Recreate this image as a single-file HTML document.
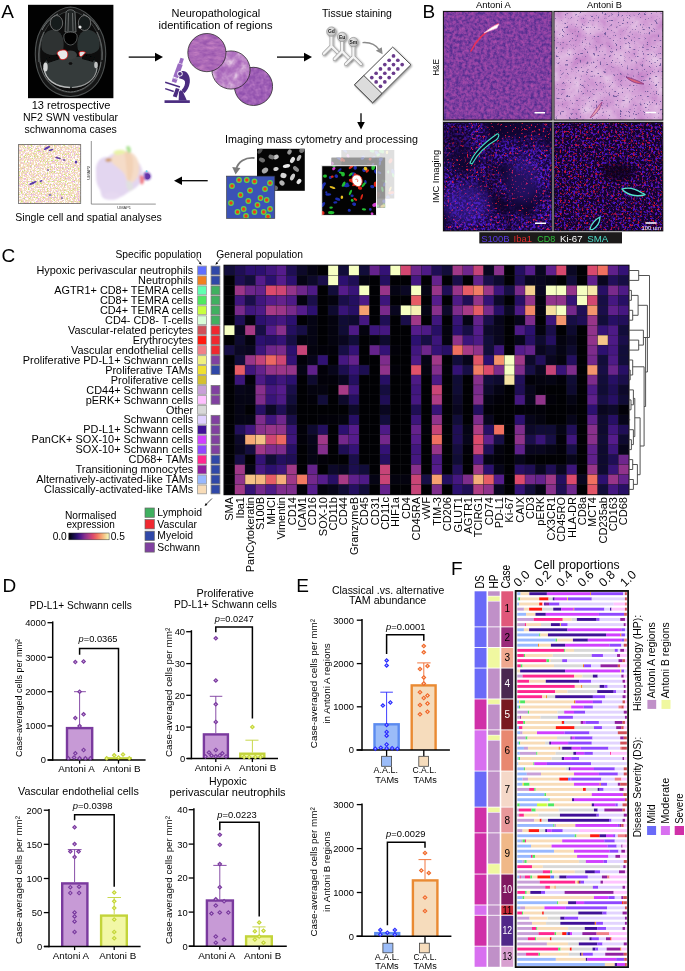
<!DOCTYPE html>
<html><head><meta charset="utf-8"><title>Figure</title>
<style>
html,body{margin:0;padding:0;background:#fff;}
svg{display:block;font-family:"Liberation Sans",sans-serif;}
</style></head><body>
<svg width="685" height="971" viewBox="0 0 685 971">
<defs>
<linearGradient id="cbar" x1="0" x2="1" y1="0" y2="0"><stop offset="0.0" stop-color="#000004"/><stop offset="0.1" stop-color="#120d3a"/><stop offset="0.2" stop-color="#2c1070"/><stop offset="0.3" stop-color="#551c8c"/><stop offset="0.4" stop-color="#88308c"/><stop offset="0.5" stop-color="#b03d85"/><stop offset="0.6" stop-color="#dc4a6c"/><stop offset="0.7" stop-color="#f07060"/><stop offset="0.8" stop-color="#f5a070"/><stop offset="0.9" stop-color="#f5d090"/><stop offset="1.0" stop-color="#f6ffc2"/></linearGradient>

<clipPath id="cMRI"><rect x="28" y="4.8" width="85.4" height="93.4"/></clipPath>
<filter id="b03"><feGaussianBlur stdDeviation="0.35"/></filter>
<filter id="b07"><feGaussianBlur stdDeviation="0.7"/></filter>
<filter id="b12"><feGaussianBlur stdDeviation="1.2"/></filter>
<filter id="b20"><feGaussianBlur stdDeviation="2"/></filter>
<filter id="shadow" x="-0.3" y="-0.3" width="1.6" height="1.6"><feGaussianBlur in="SourceAlpha" stdDeviation="0.8"/><feOffset dx="0.6" dy="0.7"/><feComponentTransfer><feFuncA type="linear" slope="0.45"/></feComponentTransfer><feMerge><feMergeNode/><feMergeNode in="SourceGraphic"/></feMerge></filter>
<filter id="circ1" x="0" y="0" width="1" height="1" color-interpolation-filters="sRGB">
  <feTurbulence type="fractalNoise" baseFrequency="0.12 0.3" numOctaves="3" seed="4"/>
  <feColorMatrix type="matrix" values="1 0 0 0 0  1 0 0 0 0  1 0 0 0 0  0 0 0 0 1"/>
  <feComponentTransfer><feFuncR type="table" tableValues="0.60 0.60 0.65 0.70 0.76 0.76"/><feFuncG type="table" tableValues="0.34 0.34 0.39 0.44 0.49 0.49"/><feFuncB type="table" tableValues="0.68 0.68 0.71 0.73 0.76 0.76"/></feComponentTransfer>
</filter>
<filter id="circ2" x="0" y="0" width="1" height="1" color-interpolation-filters="sRGB">
  <feTurbulence type="fractalNoise" baseFrequency="0.12" numOctaves="3" seed="9"/>
  <feColorMatrix type="matrix" values="1 0 0 0 0  1 0 0 0 0  1 0 0 0 0  0 0 0 0 1"/>
  <feComponentTransfer><feFuncR type="table" tableValues="0.64 0.64 0.70 0.78 0.88 0.88"/><feFuncG type="table" tableValues="0.38 0.38 0.46 0.58 0.76 0.76"/><feFuncB type="table" tableValues="0.72 0.72 0.76 0.81 0.89 0.89"/></feComponentTransfer>
</filter>
<filter id="circ3" x="0" y="0" width="1" height="1" color-interpolation-filters="sRGB">
  <feTurbulence type="fractalNoise" baseFrequency="0.25" numOctaves="3" seed="17"/>
  <feColorMatrix type="matrix" values="1 0 0 0 0  1 0 0 0 0  1 0 0 0 0  0 0 0 0 1"/>
  <feComponentTransfer><feFuncR type="table" tableValues="0.56 0.56 0.60 0.65 0.71 0.71"/><feFuncG type="table" tableValues="0.31 0.31 0.35 0.40 0.46 0.46"/><feFuncB type="table" tableValues="0.68 0.68 0.70 0.73 0.76 0.76"/></feComponentTransfer>
</filter>
<filter id="spat" x="0" y="0" width="1" height="1" color-interpolation-filters="sRGB">
  <feTurbulence type="fractalNoise" baseFrequency="0.7" numOctaves="2" seed="6" result="n"/>
  <feColorMatrix in="n" type="matrix" values="0 0 0 0 0.96  0 0 0 0 0.85  0 0 0 0 0.74  9 0 0 0 -3.75" result="peach"/>
  <feColorMatrix in="n" type="matrix" values="0 0 0 0 0.90  0 0 0 0 0.70  0 0 0 0 0.90  0 9 0 0 -5.4" result="pink"/>
  <feColorMatrix in="n" type="matrix" values="0 0 0 0 0.80  0 0 0 0 0.90  0 0 0 0 0.45  0 0 9 0 -5.6" result="yel"/>
  <feFlood flood-color="#fffdfb" result="bg"/>
  <feComposite in="peach" in2="bg" operator="over" result="s1"/>
  <feComposite in="pink" in2="s1" operator="over" result="s2"/>
  <feComposite in="yel" in2="s2" operator="over"/>
</filter>
<filter id="nuc" x="0" y="0" width="1" height="1" color-interpolation-filters="sRGB">
  <feTurbulence type="fractalNoise" baseFrequency="0.11" numOctaves="1" seed="12"/>
  <feColorMatrix type="matrix" values="9 0 0 0 -4.9  9 0 0 0 -4.9  9 0 0 0 -4.9  0 0 0 0 1"/>
</filter>
<filter id="seg" x="0" y="0" width="1" height="1" color-interpolation-filters="sRGB">
  <feTurbulence type="fractalNoise" baseFrequency="0.13" numOctaves="1" seed="31" result="n"/>
  <feColorMatrix in="n" type="matrix" values="0 0 0 0 0.30  0 0 0 0 0.78  0 0 0 0 0.25  14 0 0 0 -7.9" result="green"/>
  <feColorMatrix in="n" type="matrix" values="0 0 0 0 0.92  0 0 0 0 0.25  0 0 0 0 0.12  14 0 0 0 -8.7" result="red"/>
  <feFlood flood-color="#3a50b4" result="bg"/>
  <feComposite in="green" in2="bg" operator="over" result="s1"/>
  <feComposite in="red" in2="s1" operator="over"/>
</filter>
<filter id="multi" x="0" y="0" width="1" height="1" color-interpolation-filters="sRGB">
  <feTurbulence type="fractalNoise" baseFrequency="0.14" numOctaves="2" seed="41" result="n"/>
  <feColorMatrix in="n" type="matrix" values="0 0 0 0 0.15  0 0 0 0 0.15  0 0 0 0 0.85  0 0 10 0 -5.6" result="blue"/>
  <feColorMatrix in="n" type="matrix" values="0 0 0 0 0.10  0 0 0 0 0.80  0 0 0 0 0.15  0 10 0 0 -6.0" result="green"/>
  <feColorMatrix in="n" type="matrix" values="0 0 0 0 0.95  0 0 0 0 0.15  0 0 0 0 0.10  10 0 0 0 -6.1" result="red"/>
  <feFlood flood-color="#030303" result="bg"/>
  <feComposite in="blue" in2="bg" operator="over" result="s1"/>
  <feComposite in="green" in2="s1" operator="over" result="s2"/>
  <feComposite in="red" in2="s2" operator="over"/>
</filter>
<clipPath id="cUm"><rect x="92" y="141" width="66" height="62.5"/></clipPath>
<radialGradient id="gball" cx="0.4" cy="0.35" r="0.7"><stop offset="0" stop-color="#efefef"/><stop offset="1" stop-color="#b4b4b4"/></radialGradient>

<filter id="heA" x="0" y="0" width="1" height="1" color-interpolation-filters="sRGB">
  <feTurbulence type="fractalNoise" baseFrequency="0.32" numOctaves="3" seed="3"/>
  <feColorMatrix type="matrix" values="1 0 0 0 0  1 0 0 0 0  1 0 0 0 0  0 0 0 0 1"/>
  <feComponentTransfer><feFuncR type="table" tableValues="0.298 0.298 0.369 0.459 0.549 0.612 0.675 0.675"/><feFuncG type="table" tableValues="0.173 0.173 0.196 0.227 0.259 0.278 0.298 0.298"/><feFuncB type="table" tableValues="0.549 0.549 0.580 0.612 0.643 0.659 0.675 0.675"/></feComponentTransfer>
</filter>
<filter id="heB" x="0" y="0" width="1" height="1" color-interpolation-filters="sRGB">
  <feTurbulence type="fractalNoise" baseFrequency="0.06" numOctaves="4" seed="8" result="big"/>
  <feColorMatrix in="big" type="matrix" values="1 0 0 0 0  1 0 0 0 0  1 0 0 0 0  0 0 0 0 1"/>
  <feComponentTransfer result="bigc"><feFuncR type="table" tableValues="0.776 0.776 0.808 0.839 0.867 0.894 0.894"/><feFuncG type="table" tableValues="0.525 0.525 0.588 0.643 0.706 0.769 0.769"/><feFuncB type="table" tableValues="0.792 0.792 0.824 0.851 0.875 0.902 0.902"/></feComponentTransfer>
  <feTurbulence type="fractalNoise" baseFrequency="0.45" numOctaves="2" seed="5"/>
  <feColorMatrix type="matrix" values="0 0 0 0 0.45  0 0 0 0 0.36  0 0 0 0 0.62  -9 0 0 0 3.15"/>
  <feComposite in2="bigc" operator="over"/>
</filter>
<filter id="imcA" x="0" y="0" width="1" height="1" color-interpolation-filters="sRGB">
  <feTurbulence type="fractalNoise" baseFrequency="0.028" numOctaves="2" seed="14" result="big"/>
  <feColorMatrix in="big" type="matrix" values="0 0 0 0 0.06  0 0 0 0 0.02  0 0 0 0 0.20  3.6 0 0 0 -1.45" result="dark"/>
  <feTurbulence type="fractalNoise" baseFrequency="0.42" numOctaves="2" seed="2" result="fine"/>
  <feColorMatrix in="fine" type="matrix" values="0 0 0 0 0.30  0 0 0 0 0.10  0 0 0 0 0.78  0 0 4 0 -1.65" result="blue"/>
  <feColorMatrix in="fine" type="matrix" values="0 0 0 0 0.90  0 0 0 0 0.10  0 0 0 0 0.25  8 0 0 0 -5.1" result="red"/>
  <feFlood flood-color="#16053c" result="bg"/>
  <feComposite in="blue" in2="bg" operator="over" result="s1"/>
  <feComposite in="dark" in2="s1" operator="over" result="s2"/>
  <feComposite in="red" in2="s2" operator="over"/>
</filter>
<filter id="imcB" x="0" y="0" width="1" height="1" color-interpolation-filters="sRGB">
  <feTurbulence type="fractalNoise" baseFrequency="0.45" numOctaves="2" seed="21" result="fine"/>
  <feColorMatrix in="fine" type="matrix" values="0 0 0 0 0.30  0 0 0 0 0.08  0 0 0 0 0.78  0 0 5 0 -2.45" result="blue"/>
  <feColorMatrix in="fine" type="matrix" values="0 0 0 0 0.78  0 0 0 0 0.06  0 0 0 0 0.22  6 0 0 0 -3.45" result="red"/>
  <feFlood flood-color="#12032c" result="bg"/>
  <feComposite in="blue" in2="bg" operator="over" result="s1"/>
  <feComposite in="red" in2="s1" operator="over"/>
</filter>
<filter id="blur1"><feGaussianBlur stdDeviation="0.6"/></filter>
<filter id="blur2"><feGaussianBlur stdDeviation="2.5"/></filter>
<filter id="blur5"><feGaussianBlur stdDeviation="5"/></filter>
<clipPath id="cB1"><rect x="443.5" y="11.5" width="108.5" height="108.5"/></clipPath>
<clipPath id="cB2"><rect x="554" y="11.5" width="108.8" height="108.5"/></clipPath>
<clipPath id="cB3"><rect x="443.5" y="122.5" width="108.5" height="108.3"/></clipPath>
<clipPath id="cB4"><rect x="554" y="122.5" width="108.8" height="108.3"/></clipPath>
</defs>
<rect width="685" height="971" fill="#fff"/>
<g opacity="0.9999">
<g id="panelC">
<text x="1.60" y="262.00" font-size="19" >C</text>
<text x="115.50" y="257.80" font-size="10.2" textLength="86.30" lengthAdjust="spacingAndGlyphs" >Specific population</text>
<text x="216.30" y="257.80" font-size="10.2" textLength="86.70" lengthAdjust="spacingAndGlyphs" >General population</text>
<path d="M196.5 258.5 L201 264" fill="none" stroke="#000" stroke-width="0.7" />
<path d="M201.6 264.8 l-2.8 -1.2 l1.8 -1.6 z" fill="#000" />
<path d="M220.5 258.5 L216 264" fill="none" stroke="#000" stroke-width="0.7" />
<path d="M215.4 264.8 l2.8 -1.2 l-1.8 -1.6 z" fill="#000" />
<rect x="223.50" y="264.70" width="406.00" height="230.50" fill="#000" />
<rect x="224.30" y="265.50" width="404.40" height="228.90" fill="#1d1d22" />
<rect x="224.48" y="265.68" width="10.01" height="9.59" fill="#120d3a"/><rect x="234.85" y="265.68" width="10.01" height="9.59" fill="#1f0e55"/><rect x="245.22" y="265.68" width="10.01" height="9.59" fill="#2c1070"/><rect x="255.59" y="265.68" width="10.01" height="9.59" fill="#2c1070"/><rect x="265.96" y="265.68" width="10.01" height="9.59" fill="#40167e"/><rect x="276.33" y="265.68" width="10.01" height="9.59" fill="#551c8c"/><rect x="286.70" y="265.68" width="10.01" height="9.59" fill="#1f0e55"/><rect x="297.06" y="265.68" width="10.01" height="9.59" fill="#0d092a"/><rect x="307.43" y="265.68" width="10.01" height="9.59" fill="#050414"/><rect x="317.80" y="265.68" width="10.01" height="9.59" fill="#000004"/><rect x="328.17" y="265.68" width="10.01" height="9.59" fill="#f6ffc2"/><rect x="338.54" y="265.68" width="10.01" height="9.59" fill="#120d3a"/><rect x="348.91" y="265.68" width="10.01" height="9.59" fill="#f6ffc2"/><rect x="359.28" y="265.68" width="10.01" height="9.59" fill="#120d3a"/><rect x="369.65" y="265.68" width="10.01" height="9.59" fill="#64228c"/><rect x="380.02" y="265.68" width="10.01" height="9.59" fill="#341276"/><rect x="390.39" y="265.68" width="10.01" height="9.59" fill="#f6ffc2"/><rect x="400.76" y="265.68" width="10.01" height="9.59" fill="#d34771"/><rect x="411.13" y="265.68" width="10.01" height="9.59" fill="#6e268c"/><rect x="421.50" y="265.68" width="10.01" height="9.59" fill="#4d1a86"/><rect x="431.86" y="265.68" width="10.01" height="9.59" fill="#1f0e55"/><rect x="442.23" y="265.68" width="10.01" height="9.59" fill="#120d3a"/><rect x="452.60" y="265.68" width="10.01" height="9.59" fill="#a03888"/><rect x="462.97" y="265.68" width="10.01" height="9.59" fill="#6e268c"/><rect x="473.34" y="265.68" width="10.01" height="9.59" fill="#c64478"/><rect x="483.71" y="265.68" width="10.01" height="9.59" fill="#09061f"/><rect x="494.08" y="265.68" width="10.01" height="9.59" fill="#88308c"/><rect x="504.45" y="265.68" width="10.01" height="9.59" fill="#000004"/><rect x="514.82" y="265.68" width="10.01" height="9.59" fill="#240f60"/><rect x="525.19" y="265.68" width="10.01" height="9.59" fill="#551c8c"/><rect x="535.56" y="265.68" width="10.01" height="9.59" fill="#09061f"/><rect x="545.93" y="265.68" width="10.01" height="9.59" fill="#5f208c"/><rect x="556.30" y="265.68" width="10.01" height="9.59" fill="#d8496e"/><rect x="566.66" y="265.68" width="10.01" height="9.59" fill="#0b0824"/><rect x="577.03" y="265.68" width="10.01" height="9.59" fill="#000004"/><rect x="587.40" y="265.68" width="10.01" height="9.59" fill="#d8496e"/><rect x="597.77" y="265.68" width="10.01" height="9.59" fill="#f07060"/><rect x="608.14" y="265.68" width="10.01" height="9.59" fill="#5f208c"/><rect x="618.51" y="265.68" width="10.01" height="9.59" fill="#341276"/>
<rect x="224.48" y="275.63" width="10.01" height="9.59" fill="#000004"/><rect x="234.85" y="275.63" width="10.01" height="9.59" fill="#1f0e55"/><rect x="245.22" y="275.63" width="10.01" height="9.59" fill="#120d3a"/><rect x="255.59" y="275.63" width="10.01" height="9.59" fill="#551c8c"/><rect x="265.96" y="275.63" width="10.01" height="9.59" fill="#2c1070"/><rect x="276.33" y="275.63" width="10.01" height="9.59" fill="#551c8c"/><rect x="286.70" y="275.63" width="10.01" height="9.59" fill="#2c1070"/><rect x="297.06" y="275.63" width="10.01" height="9.59" fill="#050414"/><rect x="307.43" y="275.63" width="10.01" height="9.59" fill="#0d092a"/><rect x="317.80" y="275.63" width="10.01" height="9.59" fill="#1a0e4a"/><rect x="328.17" y="275.63" width="10.01" height="9.59" fill="#f6ffc2"/><rect x="338.54" y="275.63" width="10.01" height="9.59" fill="#2c1070"/><rect x="348.91" y="275.63" width="10.01" height="9.59" fill="#1f0e55"/><rect x="359.28" y="275.63" width="10.01" height="9.59" fill="#04030f"/><rect x="369.65" y="275.63" width="10.01" height="9.59" fill="#000004"/><rect x="380.02" y="275.63" width="10.01" height="9.59" fill="#240f60"/><rect x="390.39" y="275.63" width="10.01" height="9.59" fill="#000004"/><rect x="400.76" y="275.63" width="10.01" height="9.59" fill="#000004"/><rect x="411.13" y="275.63" width="10.01" height="9.59" fill="#451781"/><rect x="421.50" y="275.63" width="10.01" height="9.59" fill="#000004"/><rect x="431.86" y="275.63" width="10.01" height="9.59" fill="#64228c"/><rect x="442.23" y="275.63" width="10.01" height="9.59" fill="#000004"/><rect x="452.60" y="275.63" width="10.01" height="9.59" fill="#1a0e4a"/><rect x="462.97" y="275.63" width="10.01" height="9.59" fill="#000004"/><rect x="473.34" y="275.63" width="10.01" height="9.59" fill="#64228c"/><rect x="483.71" y="275.63" width="10.01" height="9.59" fill="#1a0e4a"/><rect x="494.08" y="275.63" width="10.01" height="9.59" fill="#0e0a2f"/><rect x="504.45" y="275.63" width="10.01" height="9.59" fill="#000004"/><rect x="514.82" y="275.63" width="10.01" height="9.59" fill="#1f0e55"/><rect x="525.19" y="275.63" width="10.01" height="9.59" fill="#09061f"/><rect x="535.56" y="275.63" width="10.01" height="9.59" fill="#09061f"/><rect x="545.93" y="275.63" width="10.01" height="9.59" fill="#050414"/><rect x="556.30" y="275.63" width="10.01" height="9.59" fill="#000004"/><rect x="566.66" y="275.63" width="10.01" height="9.59" fill="#120d3a"/><rect x="577.03" y="275.63" width="10.01" height="9.59" fill="#000004"/><rect x="587.40" y="275.63" width="10.01" height="9.59" fill="#5f208c"/><rect x="597.77" y="275.63" width="10.01" height="9.59" fill="#09061f"/><rect x="608.14" y="275.63" width="10.01" height="9.59" fill="#220f5a"/><rect x="618.51" y="275.63" width="10.01" height="9.59" fill="#170e45"/>
<rect x="224.48" y="285.58" width="10.01" height="9.59" fill="#000004"/><rect x="234.85" y="285.58" width="10.01" height="9.59" fill="#9c3688"/><rect x="245.22" y="285.58" width="10.01" height="9.59" fill="#6e268c"/><rect x="255.59" y="285.58" width="10.01" height="9.59" fill="#64228c"/><rect x="265.96" y="285.58" width="10.01" height="9.59" fill="#dc4a6c"/><rect x="276.33" y="285.58" width="10.01" height="9.59" fill="#cf4674"/><rect x="286.70" y="285.58" width="10.01" height="9.59" fill="#94348a"/><rect x="297.06" y="285.58" width="10.01" height="9.59" fill="#6e268c"/><rect x="307.43" y="285.58" width="10.01" height="9.59" fill="#4d1a86"/><rect x="317.80" y="285.58" width="10.01" height="9.59" fill="#000004"/><rect x="328.17" y="285.58" width="10.01" height="9.59" fill="#120d3a"/><rect x="338.54" y="285.58" width="10.01" height="9.59" fill="#551c8c"/><rect x="348.91" y="285.58" width="10.01" height="9.59" fill="#381478"/><rect x="359.28" y="285.58" width="10.01" height="9.59" fill="#f6ffc2"/><rect x="369.65" y="285.58" width="10.01" height="9.59" fill="#000004"/><rect x="380.02" y="285.58" width="10.01" height="9.59" fill="#983589"/><rect x="390.39" y="285.58" width="10.01" height="9.59" fill="#050414"/><rect x="400.76" y="285.58" width="10.01" height="9.59" fill="#0b0824"/><rect x="411.13" y="285.58" width="10.01" height="9.59" fill="#f6ffc2"/><rect x="421.50" y="285.58" width="10.01" height="9.59" fill="#050414"/><rect x="431.86" y="285.58" width="10.01" height="9.59" fill="#983589"/><rect x="442.23" y="285.58" width="10.01" height="9.59" fill="#1f0e55"/><rect x="452.60" y="285.58" width="10.01" height="9.59" fill="#983589"/><rect x="462.97" y="285.58" width="10.01" height="9.59" fill="#e65d66"/><rect x="473.34" y="285.58" width="10.01" height="9.59" fill="#f27e65"/><rect x="483.71" y="285.58" width="10.01" height="9.59" fill="#9c3688"/><rect x="494.08" y="285.58" width="10.01" height="9.59" fill="#3c157b"/><rect x="504.45" y="285.58" width="10.01" height="9.59" fill="#170e45"/><rect x="514.82" y="285.58" width="10.01" height="9.59" fill="#792a8c"/><rect x="525.19" y="285.58" width="10.01" height="9.59" fill="#f5d090"/><rect x="535.56" y="285.58" width="10.01" height="9.59" fill="#09061f"/><rect x="545.93" y="285.58" width="10.01" height="9.59" fill="#f6ffc2"/><rect x="556.30" y="285.58" width="10.01" height="9.59" fill="#f6ffc2"/><rect x="566.66" y="285.58" width="10.01" height="9.59" fill="#94348a"/><rect x="577.03" y="285.58" width="10.01" height="9.59" fill="#f6ffc2"/><rect x="587.40" y="285.58" width="10.01" height="9.59" fill="#f6e8a9"/><rect x="597.77" y="285.58" width="10.01" height="9.59" fill="#270f65"/><rect x="608.14" y="285.58" width="10.01" height="9.59" fill="#792a8c"/><rect x="618.51" y="285.58" width="10.01" height="9.59" fill="#4d1a86"/>
<rect x="224.48" y="295.54" width="10.01" height="9.59" fill="#000004"/><rect x="234.85" y="295.54" width="10.01" height="9.59" fill="#40167e"/><rect x="245.22" y="295.54" width="10.01" height="9.59" fill="#1a0e4a"/><rect x="255.59" y="295.54" width="10.01" height="9.59" fill="#40167e"/><rect x="265.96" y="295.54" width="10.01" height="9.59" fill="#551c8c"/><rect x="276.33" y="295.54" width="10.01" height="9.59" fill="#64228c"/><rect x="286.70" y="295.54" width="10.01" height="9.59" fill="#4d1a86"/><rect x="297.06" y="295.54" width="10.01" height="9.59" fill="#04030f"/><rect x="307.43" y="295.54" width="10.01" height="9.59" fill="#1a0e4a"/><rect x="317.80" y="295.54" width="10.01" height="9.59" fill="#000004"/><rect x="328.17" y="295.54" width="10.01" height="9.59" fill="#04030f"/><rect x="338.54" y="295.54" width="10.01" height="9.59" fill="#1a0e4a"/><rect x="348.91" y="295.54" width="10.01" height="9.59" fill="#240f60"/><rect x="359.28" y="295.54" width="10.01" height="9.59" fill="#4d1a86"/><rect x="369.65" y="295.54" width="10.01" height="9.59" fill="#000004"/><rect x="380.02" y="295.54" width="10.01" height="9.59" fill="#3c157b"/><rect x="390.39" y="295.54" width="10.01" height="9.59" fill="#000004"/><rect x="400.76" y="295.54" width="10.01" height="9.59" fill="#000004"/><rect x="411.13" y="295.54" width="10.01" height="9.59" fill="#e65d66"/><rect x="421.50" y="295.54" width="10.01" height="9.59" fill="#000004"/><rect x="431.86" y="295.54" width="10.01" height="9.59" fill="#551c8c"/><rect x="442.23" y="295.54" width="10.01" height="9.59" fill="#000004"/><rect x="452.60" y="295.54" width="10.01" height="9.59" fill="#4d1a86"/><rect x="462.97" y="295.54" width="10.01" height="9.59" fill="#1f0e55"/><rect x="473.34" y="295.54" width="10.01" height="9.59" fill="#94348a"/><rect x="483.71" y="295.54" width="10.01" height="9.59" fill="#341276"/><rect x="494.08" y="295.54" width="10.01" height="9.59" fill="#0d092a"/><rect x="504.45" y="295.54" width="10.01" height="9.59" fill="#000004"/><rect x="514.82" y="295.54" width="10.01" height="9.59" fill="#270f65"/><rect x="525.19" y="295.54" width="10.01" height="9.59" fill="#94348a"/><rect x="535.56" y="295.54" width="10.01" height="9.59" fill="#04030f"/><rect x="545.93" y="295.54" width="10.01" height="9.59" fill="#90338b"/><rect x="556.30" y="295.54" width="10.01" height="9.59" fill="#90338b"/><rect x="566.66" y="295.54" width="10.01" height="9.59" fill="#341276"/><rect x="577.03" y="295.54" width="10.01" height="9.59" fill="#f6ffc2"/><rect x="587.40" y="295.54" width="10.01" height="9.59" fill="#d34771"/><rect x="597.77" y="295.54" width="10.01" height="9.59" fill="#170e45"/><rect x="608.14" y="295.54" width="10.01" height="9.59" fill="#451781"/><rect x="618.51" y="295.54" width="10.01" height="9.59" fill="#270f65"/>
<rect x="224.48" y="305.49" width="10.01" height="9.59" fill="#000004"/><rect x="234.85" y="305.49" width="10.01" height="9.59" fill="#792a8c"/><rect x="245.22" y="305.49" width="10.01" height="9.59" fill="#40167e"/><rect x="255.59" y="305.49" width="10.01" height="9.59" fill="#4d1a86"/><rect x="265.96" y="305.49" width="10.01" height="9.59" fill="#a83a86"/><rect x="276.33" y="305.49" width="10.01" height="9.59" fill="#9c3688"/><rect x="286.70" y="305.49" width="10.01" height="9.59" fill="#792a8c"/><rect x="297.06" y="305.49" width="10.01" height="9.59" fill="#551c8c"/><rect x="307.43" y="305.49" width="10.01" height="9.59" fill="#2c1070"/><rect x="317.80" y="305.49" width="10.01" height="9.59" fill="#000004"/><rect x="328.17" y="305.49" width="10.01" height="9.59" fill="#0e0a2f"/><rect x="338.54" y="305.49" width="10.01" height="9.59" fill="#381478"/><rect x="348.91" y="305.49" width="10.01" height="9.59" fill="#270f65"/><rect x="359.28" y="305.49" width="10.01" height="9.59" fill="#f5a070"/><rect x="369.65" y="305.49" width="10.01" height="9.59" fill="#000004"/><rect x="380.02" y="305.49" width="10.01" height="9.59" fill="#792a8c"/><rect x="390.39" y="305.49" width="10.01" height="9.59" fill="#09061f"/><rect x="400.76" y="305.49" width="10.01" height="9.59" fill="#f6ffc2"/><rect x="411.13" y="305.49" width="10.01" height="9.59" fill="#f6f1b3"/><rect x="421.50" y="305.49" width="10.01" height="9.59" fill="#050414"/><rect x="431.86" y="305.49" width="10.01" height="9.59" fill="#88308c"/><rect x="442.23" y="305.49" width="10.01" height="9.59" fill="#0d092a"/><rect x="452.60" y="305.49" width="10.01" height="9.59" fill="#7e2c8c"/><rect x="462.97" y="305.49" width="10.01" height="9.59" fill="#a83a86"/><rect x="473.34" y="305.49" width="10.01" height="9.59" fill="#e65d66"/><rect x="483.71" y="305.49" width="10.01" height="9.59" fill="#792a8c"/><rect x="494.08" y="305.49" width="10.01" height="9.59" fill="#270f65"/><rect x="504.45" y="305.49" width="10.01" height="9.59" fill="#0b0824"/><rect x="514.82" y="305.49" width="10.01" height="9.59" fill="#4d1a86"/><rect x="525.19" y="305.49" width="10.01" height="9.59" fill="#f28868"/><rect x="535.56" y="305.49" width="10.01" height="9.59" fill="#04030f"/><rect x="545.93" y="305.49" width="10.01" height="9.59" fill="#f5de9f"/><rect x="556.30" y="305.49" width="10.01" height="9.59" fill="#f6ffc2"/><rect x="566.66" y="305.49" width="10.01" height="9.59" fill="#74288c"/><rect x="577.03" y="305.49" width="10.01" height="9.59" fill="#1f0e55"/><rect x="587.40" y="305.49" width="10.01" height="9.59" fill="#f4966d"/><rect x="597.77" y="305.49" width="10.01" height="9.59" fill="#1a0e4a"/><rect x="608.14" y="305.49" width="10.01" height="9.59" fill="#5f208c"/><rect x="618.51" y="305.49" width="10.01" height="9.59" fill="#451781"/>
<rect x="224.48" y="315.44" width="10.01" height="9.59" fill="#000004"/><rect x="234.85" y="315.44" width="10.01" height="9.59" fill="#1f0e55"/><rect x="245.22" y="315.44" width="10.01" height="9.59" fill="#04030f"/><rect x="255.59" y="315.44" width="10.01" height="9.59" fill="#2c1070"/><rect x="265.96" y="315.44" width="10.01" height="9.59" fill="#381478"/><rect x="276.33" y="315.44" width="10.01" height="9.59" fill="#451781"/><rect x="286.70" y="315.44" width="10.01" height="9.59" fill="#2c1070"/><rect x="297.06" y="315.44" width="10.01" height="9.59" fill="#000004"/><rect x="307.43" y="315.44" width="10.01" height="9.59" fill="#050414"/><rect x="317.80" y="315.44" width="10.01" height="9.59" fill="#000004"/><rect x="328.17" y="315.44" width="10.01" height="9.59" fill="#04030f"/><rect x="338.54" y="315.44" width="10.01" height="9.59" fill="#100c35"/><rect x="348.91" y="315.44" width="10.01" height="9.59" fill="#0e0a2f"/><rect x="359.28" y="315.44" width="10.01" height="9.59" fill="#451781"/><rect x="369.65" y="315.44" width="10.01" height="9.59" fill="#000004"/><rect x="380.02" y="315.44" width="10.01" height="9.59" fill="#1f0e55"/><rect x="390.39" y="315.44" width="10.01" height="9.59" fill="#000004"/><rect x="400.76" y="315.44" width="10.01" height="9.59" fill="#1a0e4a"/><rect x="411.13" y="315.44" width="10.01" height="9.59" fill="#a03888"/><rect x="421.50" y="315.44" width="10.01" height="9.59" fill="#000004"/><rect x="431.86" y="315.44" width="10.01" height="9.59" fill="#40167e"/><rect x="442.23" y="315.44" width="10.01" height="9.59" fill="#000004"/><rect x="452.60" y="315.44" width="10.01" height="9.59" fill="#381478"/><rect x="462.97" y="315.44" width="10.01" height="9.59" fill="#050414"/><rect x="473.34" y="315.44" width="10.01" height="9.59" fill="#64228c"/><rect x="483.71" y="315.44" width="10.01" height="9.59" fill="#1a0e4a"/><rect x="494.08" y="315.44" width="10.01" height="9.59" fill="#07051a"/><rect x="504.45" y="315.44" width="10.01" height="9.59" fill="#000004"/><rect x="514.82" y="315.44" width="10.01" height="9.59" fill="#07051a"/><rect x="525.19" y="315.44" width="10.01" height="9.59" fill="#7e2c8c"/><rect x="535.56" y="315.44" width="10.01" height="9.59" fill="#000004"/><rect x="545.93" y="315.44" width="10.01" height="9.59" fill="#3c157b"/><rect x="556.30" y="315.44" width="10.01" height="9.59" fill="#f4966d"/><rect x="566.66" y="315.44" width="10.01" height="9.59" fill="#170e45"/><rect x="577.03" y="315.44" width="10.01" height="9.59" fill="#1f0e55"/><rect x="587.40" y="315.44" width="10.01" height="9.59" fill="#983589"/><rect x="597.77" y="315.44" width="10.01" height="9.59" fill="#120d3a"/><rect x="608.14" y="315.44" width="10.01" height="9.59" fill="#270f65"/><rect x="618.51" y="315.44" width="10.01" height="9.59" fill="#220f5a"/>
<rect x="224.48" y="325.39" width="10.01" height="9.59" fill="#f6ffc2"/><rect x="234.85" y="325.39" width="10.01" height="9.59" fill="#09061f"/><rect x="245.22" y="325.39" width="10.01" height="9.59" fill="#a83a86"/><rect x="255.59" y="325.39" width="10.01" height="9.59" fill="#170e45"/><rect x="265.96" y="325.39" width="10.01" height="9.59" fill="#551c8c"/><rect x="276.33" y="325.39" width="10.01" height="9.59" fill="#88308c"/><rect x="286.70" y="325.39" width="10.01" height="9.59" fill="#240f60"/><rect x="297.06" y="325.39" width="10.01" height="9.59" fill="#170e45"/><rect x="307.43" y="325.39" width="10.01" height="9.59" fill="#050414"/><rect x="317.80" y="325.39" width="10.01" height="9.59" fill="#000004"/><rect x="328.17" y="325.39" width="10.01" height="9.59" fill="#04030f"/><rect x="338.54" y="325.39" width="10.01" height="9.59" fill="#100c35"/><rect x="348.91" y="325.39" width="10.01" height="9.59" fill="#4d1a86"/><rect x="359.28" y="325.39" width="10.01" height="9.59" fill="#04030f"/><rect x="369.65" y="325.39" width="10.01" height="9.59" fill="#3c157b"/><rect x="380.02" y="325.39" width="10.01" height="9.59" fill="#451781"/><rect x="390.39" y="325.39" width="10.01" height="9.59" fill="#000004"/><rect x="400.76" y="325.39" width="10.01" height="9.59" fill="#000004"/><rect x="411.13" y="325.39" width="10.01" height="9.59" fill="#551c8c"/><rect x="421.50" y="325.39" width="10.01" height="9.59" fill="#4d1a86"/><rect x="431.86" y="325.39" width="10.01" height="9.59" fill="#270f65"/><rect x="442.23" y="325.39" width="10.01" height="9.59" fill="#04030f"/><rect x="452.60" y="325.39" width="10.01" height="9.59" fill="#2c1070"/><rect x="462.97" y="325.39" width="10.01" height="9.59" fill="#170e45"/><rect x="473.34" y="325.39" width="10.01" height="9.59" fill="#551c8c"/><rect x="483.71" y="325.39" width="10.01" height="9.59" fill="#0d092a"/><rect x="494.08" y="325.39" width="10.01" height="9.59" fill="#09061f"/><rect x="504.45" y="325.39" width="10.01" height="9.59" fill="#000004"/><rect x="514.82" y="325.39" width="10.01" height="9.59" fill="#4d1a86"/><rect x="525.19" y="325.39" width="10.01" height="9.59" fill="#2c1070"/><rect x="535.56" y="325.39" width="10.01" height="9.59" fill="#04030f"/><rect x="545.93" y="325.39" width="10.01" height="9.59" fill="#1a0e4a"/><rect x="556.30" y="325.39" width="10.01" height="9.59" fill="#000004"/><rect x="566.66" y="325.39" width="10.01" height="9.59" fill="#0e0a2f"/><rect x="577.03" y="325.39" width="10.01" height="9.59" fill="#000004"/><rect x="587.40" y="325.39" width="10.01" height="9.59" fill="#90338b"/><rect x="597.77" y="325.39" width="10.01" height="9.59" fill="#341276"/><rect x="608.14" y="325.39" width="10.01" height="9.59" fill="#4d1a86"/><rect x="618.51" y="325.39" width="10.01" height="9.59" fill="#120d3a"/>
<rect x="224.48" y="335.35" width="10.01" height="9.59" fill="#000004"/><rect x="234.85" y="335.35" width="10.01" height="9.59" fill="#0e0a2f"/><rect x="245.22" y="335.35" width="10.01" height="9.59" fill="#04030f"/><rect x="255.59" y="335.35" width="10.01" height="9.59" fill="#2c1070"/><rect x="265.96" y="335.35" width="10.01" height="9.59" fill="#270f65"/><rect x="276.33" y="335.35" width="10.01" height="9.59" fill="#341276"/><rect x="286.70" y="335.35" width="10.01" height="9.59" fill="#170e45"/><rect x="297.06" y="335.35" width="10.01" height="9.59" fill="#04030f"/><rect x="307.43" y="335.35" width="10.01" height="9.59" fill="#050414"/><rect x="317.80" y="335.35" width="10.01" height="9.59" fill="#000004"/><rect x="328.17" y="335.35" width="10.01" height="9.59" fill="#04030f"/><rect x="338.54" y="335.35" width="10.01" height="9.59" fill="#09061f"/><rect x="348.91" y="335.35" width="10.01" height="9.59" fill="#120d3a"/><rect x="359.28" y="335.35" width="10.01" height="9.59" fill="#000004"/><rect x="369.65" y="335.35" width="10.01" height="9.59" fill="#04030f"/><rect x="380.02" y="335.35" width="10.01" height="9.59" fill="#0e0a2f"/><rect x="390.39" y="335.35" width="10.01" height="9.59" fill="#000004"/><rect x="400.76" y="335.35" width="10.01" height="9.59" fill="#000004"/><rect x="411.13" y="335.35" width="10.01" height="9.59" fill="#2c1070"/><rect x="421.50" y="335.35" width="10.01" height="9.59" fill="#170e45"/><rect x="431.86" y="335.35" width="10.01" height="9.59" fill="#3c157b"/><rect x="442.23" y="335.35" width="10.01" height="9.59" fill="#04030f"/><rect x="452.60" y="335.35" width="10.01" height="9.59" fill="#90338b"/><rect x="462.97" y="335.35" width="10.01" height="9.59" fill="#3c157b"/><rect x="473.34" y="335.35" width="10.01" height="9.59" fill="#4d1a86"/><rect x="483.71" y="335.35" width="10.01" height="9.59" fill="#120d3a"/><rect x="494.08" y="335.35" width="10.01" height="9.59" fill="#09061f"/><rect x="504.45" y="335.35" width="10.01" height="9.59" fill="#000004"/><rect x="514.82" y="335.35" width="10.01" height="9.59" fill="#07051a"/><rect x="525.19" y="335.35" width="10.01" height="9.59" fill="#270f65"/><rect x="535.56" y="335.35" width="10.01" height="9.59" fill="#0e0a2f"/><rect x="545.93" y="335.35" width="10.01" height="9.59" fill="#240f60"/><rect x="556.30" y="335.35" width="10.01" height="9.59" fill="#04030f"/><rect x="566.66" y="335.35" width="10.01" height="9.59" fill="#09061f"/><rect x="577.03" y="335.35" width="10.01" height="9.59" fill="#000004"/><rect x="587.40" y="335.35" width="10.01" height="9.59" fill="#90338b"/><rect x="597.77" y="335.35" width="10.01" height="9.59" fill="#f5c68a"/><rect x="608.14" y="335.35" width="10.01" height="9.59" fill="#4d1a86"/><rect x="618.51" y="335.35" width="10.01" height="9.59" fill="#1a0e4a"/>
<rect x="224.48" y="345.30" width="10.01" height="9.59" fill="#170e45"/><rect x="234.85" y="345.30" width="10.01" height="9.59" fill="#0b0824"/><rect x="245.22" y="345.30" width="10.01" height="9.59" fill="#09061f"/><rect x="255.59" y="345.30" width="10.01" height="9.59" fill="#3c157b"/><rect x="265.96" y="345.30" width="10.01" height="9.59" fill="#6e268c"/><rect x="276.33" y="345.30" width="10.01" height="9.59" fill="#792a8c"/><rect x="286.70" y="345.30" width="10.01" height="9.59" fill="#2c1070"/><rect x="297.06" y="345.30" width="10.01" height="9.59" fill="#c64478"/><rect x="307.43" y="345.30" width="10.01" height="9.59" fill="#04030f"/><rect x="317.80" y="345.30" width="10.01" height="9.59" fill="#020109"/><rect x="328.17" y="345.30" width="10.01" height="9.59" fill="#020109"/><rect x="338.54" y="345.30" width="10.01" height="9.59" fill="#170e45"/><rect x="348.91" y="345.30" width="10.01" height="9.59" fill="#341276"/><rect x="359.28" y="345.30" width="10.01" height="9.59" fill="#000004"/><rect x="369.65" y="345.30" width="10.01" height="9.59" fill="#64228c"/><rect x="380.02" y="345.30" width="10.01" height="9.59" fill="#341276"/><rect x="390.39" y="345.30" width="10.01" height="9.59" fill="#020109"/><rect x="400.76" y="345.30" width="10.01" height="9.59" fill="#000004"/><rect x="411.13" y="345.30" width="10.01" height="9.59" fill="#40167e"/><rect x="421.50" y="345.30" width="10.01" height="9.59" fill="#6e268c"/><rect x="431.86" y="345.30" width="10.01" height="9.59" fill="#341276"/><rect x="442.23" y="345.30" width="10.01" height="9.59" fill="#270f65"/><rect x="452.60" y="345.30" width="10.01" height="9.59" fill="#f07060"/><rect x="462.97" y="345.30" width="10.01" height="9.59" fill="#a83a86"/><rect x="473.34" y="345.30" width="10.01" height="9.59" fill="#90338b"/><rect x="483.71" y="345.30" width="10.01" height="9.59" fill="#120d3a"/><rect x="494.08" y="345.30" width="10.01" height="9.59" fill="#40167e"/><rect x="504.45" y="345.30" width="10.01" height="9.59" fill="#000004"/><rect x="514.82" y="345.30" width="10.01" height="9.59" fill="#551c8c"/><rect x="525.19" y="345.30" width="10.01" height="9.59" fill="#64228c"/><rect x="535.56" y="345.30" width="10.01" height="9.59" fill="#09061f"/><rect x="545.93" y="345.30" width="10.01" height="9.59" fill="#0e0a2f"/><rect x="556.30" y="345.30" width="10.01" height="9.59" fill="#050414"/><rect x="566.66" y="345.30" width="10.01" height="9.59" fill="#0e0a2f"/><rect x="577.03" y="345.30" width="10.01" height="9.59" fill="#000004"/><rect x="587.40" y="345.30" width="10.01" height="9.59" fill="#7e2c8c"/><rect x="597.77" y="345.30" width="10.01" height="9.59" fill="#2c1070"/><rect x="608.14" y="345.30" width="10.01" height="9.59" fill="#451781"/><rect x="618.51" y="345.30" width="10.01" height="9.59" fill="#120d3a"/>
<rect x="224.48" y="355.25" width="10.01" height="9.59" fill="#000004"/><rect x="234.85" y="355.25" width="10.01" height="9.59" fill="#120d3a"/><rect x="245.22" y="355.25" width="10.01" height="9.59" fill="#983589"/><rect x="255.59" y="355.25" width="10.01" height="9.59" fill="#c2427b"/><rect x="265.96" y="355.25" width="10.01" height="9.59" fill="#ec6862"/><rect x="276.33" y="355.25" width="10.01" height="9.59" fill="#cf4674"/><rect x="286.70" y="355.25" width="10.01" height="9.59" fill="#341276"/><rect x="297.06" y="355.25" width="10.01" height="9.59" fill="#020109"/><rect x="307.43" y="355.25" width="10.01" height="9.59" fill="#07051a"/><rect x="317.80" y="355.25" width="10.01" height="9.59" fill="#301173"/><rect x="328.17" y="355.25" width="10.01" height="9.59" fill="#000004"/><rect x="338.54" y="355.25" width="10.01" height="9.59" fill="#451781"/><rect x="348.91" y="355.25" width="10.01" height="9.59" fill="#64228c"/><rect x="359.28" y="355.25" width="10.01" height="9.59" fill="#000004"/><rect x="369.65" y="355.25" width="10.01" height="9.59" fill="#000004"/><rect x="380.02" y="355.25" width="10.01" height="9.59" fill="#7e2c8c"/><rect x="390.39" y="355.25" width="10.01" height="9.59" fill="#000004"/><rect x="400.76" y="355.25" width="10.01" height="9.59" fill="#000004"/><rect x="411.13" y="355.25" width="10.01" height="9.59" fill="#4d1a86"/><rect x="421.50" y="355.25" width="10.01" height="9.59" fill="#050414"/><rect x="431.86" y="355.25" width="10.01" height="9.59" fill="#a03888"/><rect x="442.23" y="355.25" width="10.01" height="9.59" fill="#000004"/><rect x="452.60" y="355.25" width="10.01" height="9.59" fill="#120d3a"/><rect x="462.97" y="355.25" width="10.01" height="9.59" fill="#07051a"/><rect x="473.34" y="355.25" width="10.01" height="9.59" fill="#e25568"/><rect x="483.71" y="355.25" width="10.01" height="9.59" fill="#2c1070"/><rect x="494.08" y="355.25" width="10.01" height="9.59" fill="#f4926b"/><rect x="504.45" y="355.25" width="10.01" height="9.59" fill="#f6ffc2"/><rect x="514.82" y="355.25" width="10.01" height="9.59" fill="#a03888"/><rect x="525.19" y="355.25" width="10.01" height="9.59" fill="#0d092a"/><rect x="535.56" y="355.25" width="10.01" height="9.59" fill="#220f5a"/><rect x="545.93" y="355.25" width="10.01" height="9.59" fill="#09061f"/><rect x="556.30" y="355.25" width="10.01" height="9.59" fill="#04030f"/><rect x="566.66" y="355.25" width="10.01" height="9.59" fill="#240f60"/><rect x="577.03" y="355.25" width="10.01" height="9.59" fill="#000004"/><rect x="587.40" y="355.25" width="10.01" height="9.59" fill="#74288c"/><rect x="597.77" y="355.25" width="10.01" height="9.59" fill="#120d3a"/><rect x="608.14" y="355.25" width="10.01" height="9.59" fill="#4d1a86"/><rect x="618.51" y="355.25" width="10.01" height="9.59" fill="#120d3a"/>
<rect x="224.48" y="365.20" width="10.01" height="9.59" fill="#000004"/><rect x="234.85" y="365.20" width="10.01" height="9.59" fill="#e65d66"/><rect x="245.22" y="365.20" width="10.01" height="9.59" fill="#40167e"/><rect x="255.59" y="365.20" width="10.01" height="9.59" fill="#64228c"/><rect x="265.96" y="365.20" width="10.01" height="9.59" fill="#94348a"/><rect x="276.33" y="365.20" width="10.01" height="9.59" fill="#9c3688"/><rect x="286.70" y="365.20" width="10.01" height="9.59" fill="#94348a"/><rect x="297.06" y="365.20" width="10.01" height="9.59" fill="#050414"/><rect x="307.43" y="365.20" width="10.01" height="9.59" fill="#5f208c"/><rect x="317.80" y="365.20" width="10.01" height="9.59" fill="#020109"/><rect x="328.17" y="365.20" width="10.01" height="9.59" fill="#07051a"/><rect x="338.54" y="365.20" width="10.01" height="9.59" fill="#1c0e50"/><rect x="348.91" y="365.20" width="10.01" height="9.59" fill="#341276"/><rect x="359.28" y="365.20" width="10.01" height="9.59" fill="#1c0e50"/><rect x="369.65" y="365.20" width="10.01" height="9.59" fill="#000004"/><rect x="380.02" y="365.20" width="10.01" height="9.59" fill="#90338b"/><rect x="390.39" y="365.20" width="10.01" height="9.59" fill="#020109"/><rect x="400.76" y="365.20" width="10.01" height="9.59" fill="#000004"/><rect x="411.13" y="365.20" width="10.01" height="9.59" fill="#e0526a"/><rect x="421.50" y="365.20" width="10.01" height="9.59" fill="#04030f"/><rect x="431.86" y="365.20" width="10.01" height="9.59" fill="#832e8c"/><rect x="442.23" y="365.20" width="10.01" height="9.59" fill="#020109"/><rect x="452.60" y="365.20" width="10.01" height="9.59" fill="#341276"/><rect x="462.97" y="365.20" width="10.01" height="9.59" fill="#170e45"/><rect x="473.34" y="365.20" width="10.01" height="9.59" fill="#f27e65"/><rect x="483.71" y="365.20" width="10.01" height="9.59" fill="#dc4a6c"/><rect x="494.08" y="365.20" width="10.01" height="9.59" fill="#7e2c8c"/><rect x="504.45" y="365.20" width="10.01" height="9.59" fill="#f6ffc2"/><rect x="514.82" y="365.20" width="10.01" height="9.59" fill="#7e2c8c"/><rect x="525.19" y="365.20" width="10.01" height="9.59" fill="#170e45"/><rect x="535.56" y="365.20" width="10.01" height="9.59" fill="#09061f"/><rect x="545.93" y="365.20" width="10.01" height="9.59" fill="#c64478"/><rect x="556.30" y="365.20" width="10.01" height="9.59" fill="#381478"/><rect x="566.66" y="365.20" width="10.01" height="9.59" fill="#7e2c8c"/><rect x="577.03" y="365.20" width="10.01" height="9.59" fill="#000004"/><rect x="587.40" y="365.20" width="10.01" height="9.59" fill="#f4966d"/><rect x="597.77" y="365.20" width="10.01" height="9.59" fill="#170e45"/><rect x="608.14" y="365.20" width="10.01" height="9.59" fill="#69248c"/><rect x="618.51" y="365.20" width="10.01" height="9.59" fill="#270f65"/>
<rect x="224.48" y="375.15" width="10.01" height="9.59" fill="#000004"/><rect x="234.85" y="375.15" width="10.01" height="9.59" fill="#3c157b"/><rect x="245.22" y="375.15" width="10.01" height="9.59" fill="#020109"/><rect x="255.59" y="375.15" width="10.01" height="9.59" fill="#4d1a86"/><rect x="265.96" y="375.15" width="10.01" height="9.59" fill="#2c1070"/><rect x="276.33" y="375.15" width="10.01" height="9.59" fill="#40167e"/><rect x="286.70" y="375.15" width="10.01" height="9.59" fill="#2c1070"/><rect x="297.06" y="375.15" width="10.01" height="9.59" fill="#000004"/><rect x="307.43" y="375.15" width="10.01" height="9.59" fill="#0e0a2f"/><rect x="317.80" y="375.15" width="10.01" height="9.59" fill="#020109"/><rect x="328.17" y="375.15" width="10.01" height="9.59" fill="#020109"/><rect x="338.54" y="375.15" width="10.01" height="9.59" fill="#09061f"/><rect x="348.91" y="375.15" width="10.01" height="9.59" fill="#240f60"/><rect x="359.28" y="375.15" width="10.01" height="9.59" fill="#000004"/><rect x="369.65" y="375.15" width="10.01" height="9.59" fill="#000004"/><rect x="380.02" y="375.15" width="10.01" height="9.59" fill="#270f65"/><rect x="390.39" y="375.15" width="10.01" height="9.59" fill="#000004"/><rect x="400.76" y="375.15" width="10.01" height="9.59" fill="#000004"/><rect x="411.13" y="375.15" width="10.01" height="9.59" fill="#4d1a86"/><rect x="421.50" y="375.15" width="10.01" height="9.59" fill="#000004"/><rect x="431.86" y="375.15" width="10.01" height="9.59" fill="#4d1a86"/><rect x="442.23" y="375.15" width="10.01" height="9.59" fill="#000004"/><rect x="452.60" y="375.15" width="10.01" height="9.59" fill="#100c35"/><rect x="462.97" y="375.15" width="10.01" height="9.59" fill="#000004"/><rect x="473.34" y="375.15" width="10.01" height="9.59" fill="#88308c"/><rect x="483.71" y="375.15" width="10.01" height="9.59" fill="#120d3a"/><rect x="494.08" y="375.15" width="10.01" height="9.59" fill="#0e0a2f"/><rect x="504.45" y="375.15" width="10.01" height="9.59" fill="#f5e3a4"/><rect x="514.82" y="375.15" width="10.01" height="9.59" fill="#220f5a"/><rect x="525.19" y="375.15" width="10.01" height="9.59" fill="#020109"/><rect x="535.56" y="375.15" width="10.01" height="9.59" fill="#04030f"/><rect x="545.93" y="375.15" width="10.01" height="9.59" fill="#050414"/><rect x="556.30" y="375.15" width="10.01" height="9.59" fill="#020109"/><rect x="566.66" y="375.15" width="10.01" height="9.59" fill="#100c35"/><rect x="577.03" y="375.15" width="10.01" height="9.59" fill="#000004"/><rect x="587.40" y="375.15" width="10.01" height="9.59" fill="#7e2c8c"/><rect x="597.77" y="375.15" width="10.01" height="9.59" fill="#120d3a"/><rect x="608.14" y="375.15" width="10.01" height="9.59" fill="#270f65"/><rect x="618.51" y="375.15" width="10.01" height="9.59" fill="#1a0e4a"/>
<rect x="224.48" y="385.11" width="10.01" height="9.59" fill="#000004"/><rect x="234.85" y="385.11" width="10.01" height="9.59" fill="#07051a"/><rect x="245.22" y="385.11" width="10.01" height="9.59" fill="#050414"/><rect x="255.59" y="385.11" width="10.01" height="9.59" fill="#88308c"/><rect x="265.96" y="385.11" width="10.01" height="9.59" fill="#451781"/><rect x="276.33" y="385.11" width="10.01" height="9.59" fill="#551c8c"/><rect x="286.70" y="385.11" width="10.01" height="9.59" fill="#1a0e4a"/><rect x="297.06" y="385.11" width="10.01" height="9.59" fill="#000004"/><rect x="307.43" y="385.11" width="10.01" height="9.59" fill="#04030f"/><rect x="317.80" y="385.11" width="10.01" height="9.59" fill="#04030f"/><rect x="328.17" y="385.11" width="10.01" height="9.59" fill="#000004"/><rect x="338.54" y="385.11" width="10.01" height="9.59" fill="#a83a86"/><rect x="348.91" y="385.11" width="10.01" height="9.59" fill="#40167e"/><rect x="359.28" y="385.11" width="10.01" height="9.59" fill="#000004"/><rect x="369.65" y="385.11" width="10.01" height="9.59" fill="#000004"/><rect x="380.02" y="385.11" width="10.01" height="9.59" fill="#150d3f"/><rect x="390.39" y="385.11" width="10.01" height="9.59" fill="#000004"/><rect x="400.76" y="385.11" width="10.01" height="9.59" fill="#000004"/><rect x="411.13" y="385.11" width="10.01" height="9.59" fill="#40167e"/><rect x="421.50" y="385.11" width="10.01" height="9.59" fill="#000004"/><rect x="431.86" y="385.11" width="10.01" height="9.59" fill="#ca4576"/><rect x="442.23" y="385.11" width="10.01" height="9.59" fill="#000004"/><rect x="452.60" y="385.11" width="10.01" height="9.59" fill="#100c35"/><rect x="462.97" y="385.11" width="10.01" height="9.59" fill="#000004"/><rect x="473.34" y="385.11" width="10.01" height="9.59" fill="#792a8c"/><rect x="483.71" y="385.11" width="10.01" height="9.59" fill="#0d092a"/><rect x="494.08" y="385.11" width="10.01" height="9.59" fill="#050414"/><rect x="504.45" y="385.11" width="10.01" height="9.59" fill="#000004"/><rect x="514.82" y="385.11" width="10.01" height="9.59" fill="#1f0e55"/><rect x="525.19" y="385.11" width="10.01" height="9.59" fill="#07051a"/><rect x="535.56" y="385.11" width="10.01" height="9.59" fill="#020109"/><rect x="545.93" y="385.11" width="10.01" height="9.59" fill="#000004"/><rect x="556.30" y="385.11" width="10.01" height="9.59" fill="#000004"/><rect x="566.66" y="385.11" width="10.01" height="9.59" fill="#0e0a2f"/><rect x="577.03" y="385.11" width="10.01" height="9.59" fill="#000004"/><rect x="587.40" y="385.11" width="10.01" height="9.59" fill="#4d1a86"/><rect x="597.77" y="385.11" width="10.01" height="9.59" fill="#100c35"/><rect x="608.14" y="385.11" width="10.01" height="9.59" fill="#1f0e55"/><rect x="618.51" y="385.11" width="10.01" height="9.59" fill="#0d092a"/>
<rect x="224.48" y="395.06" width="10.01" height="9.59" fill="#000004"/><rect x="234.85" y="395.06" width="10.01" height="9.59" fill="#050414"/><rect x="245.22" y="395.06" width="10.01" height="9.59" fill="#050414"/><rect x="255.59" y="395.06" width="10.01" height="9.59" fill="#7e2c8c"/><rect x="265.96" y="395.06" width="10.01" height="9.59" fill="#381478"/><rect x="276.33" y="395.06" width="10.01" height="9.59" fill="#4d1a86"/><rect x="286.70" y="395.06" width="10.01" height="9.59" fill="#120d3a"/><rect x="297.06" y="395.06" width="10.01" height="9.59" fill="#000004"/><rect x="307.43" y="395.06" width="10.01" height="9.59" fill="#020109"/><rect x="317.80" y="395.06" width="10.01" height="9.59" fill="#120d3a"/><rect x="328.17" y="395.06" width="10.01" height="9.59" fill="#000004"/><rect x="338.54" y="395.06" width="10.01" height="9.59" fill="#0d092a"/><rect x="348.91" y="395.06" width="10.01" height="9.59" fill="#240f60"/><rect x="359.28" y="395.06" width="10.01" height="9.59" fill="#000004"/><rect x="369.65" y="395.06" width="10.01" height="9.59" fill="#000004"/><rect x="380.02" y="395.06" width="10.01" height="9.59" fill="#1f0e55"/><rect x="390.39" y="395.06" width="10.01" height="9.59" fill="#000004"/><rect x="400.76" y="395.06" width="10.01" height="9.59" fill="#000004"/><rect x="411.13" y="395.06" width="10.01" height="9.59" fill="#451781"/><rect x="421.50" y="395.06" width="10.01" height="9.59" fill="#000004"/><rect x="431.86" y="395.06" width="10.01" height="9.59" fill="#b03d85"/><rect x="442.23" y="395.06" width="10.01" height="9.59" fill="#000004"/><rect x="452.60" y="395.06" width="10.01" height="9.59" fill="#0d092a"/><rect x="462.97" y="395.06" width="10.01" height="9.59" fill="#000004"/><rect x="473.34" y="395.06" width="10.01" height="9.59" fill="#832e8c"/><rect x="483.71" y="395.06" width="10.01" height="9.59" fill="#050414"/><rect x="494.08" y="395.06" width="10.01" height="9.59" fill="#020109"/><rect x="504.45" y="395.06" width="10.01" height="9.59" fill="#000004"/><rect x="514.82" y="395.06" width="10.01" height="9.59" fill="#451781"/><rect x="525.19" y="395.06" width="10.01" height="9.59" fill="#07051a"/><rect x="535.56" y="395.06" width="10.01" height="9.59" fill="#90338b"/><rect x="545.93" y="395.06" width="10.01" height="9.59" fill="#020109"/><rect x="556.30" y="395.06" width="10.01" height="9.59" fill="#000004"/><rect x="566.66" y="395.06" width="10.01" height="9.59" fill="#050414"/><rect x="577.03" y="395.06" width="10.01" height="9.59" fill="#000004"/><rect x="587.40" y="395.06" width="10.01" height="9.59" fill="#5f208c"/><rect x="597.77" y="395.06" width="10.01" height="9.59" fill="#170e45"/><rect x="608.14" y="395.06" width="10.01" height="9.59" fill="#270f65"/><rect x="618.51" y="395.06" width="10.01" height="9.59" fill="#100c35"/>
<rect x="224.48" y="405.01" width="10.01" height="9.59" fill="#000004"/><rect x="234.85" y="405.01" width="10.01" height="9.59" fill="#050414"/><rect x="245.22" y="405.01" width="10.01" height="9.59" fill="#000004"/><rect x="255.59" y="405.01" width="10.01" height="9.59" fill="#270f65"/><rect x="265.96" y="405.01" width="10.01" height="9.59" fill="#0b0824"/><rect x="276.33" y="405.01" width="10.01" height="9.59" fill="#1f0e55"/><rect x="286.70" y="405.01" width="10.01" height="9.59" fill="#0b0824"/><rect x="297.06" y="405.01" width="10.01" height="9.59" fill="#000004"/><rect x="307.43" y="405.01" width="10.01" height="9.59" fill="#000004"/><rect x="317.80" y="405.01" width="10.01" height="9.59" fill="#000004"/><rect x="328.17" y="405.01" width="10.01" height="9.59" fill="#000004"/><rect x="338.54" y="405.01" width="10.01" height="9.59" fill="#000004"/><rect x="348.91" y="405.01" width="10.01" height="9.59" fill="#0d092a"/><rect x="359.28" y="405.01" width="10.01" height="9.59" fill="#000004"/><rect x="369.65" y="405.01" width="10.01" height="9.59" fill="#000004"/><rect x="380.02" y="405.01" width="10.01" height="9.59" fill="#09061f"/><rect x="390.39" y="405.01" width="10.01" height="9.59" fill="#000004"/><rect x="400.76" y="405.01" width="10.01" height="9.59" fill="#000004"/><rect x="411.13" y="405.01" width="10.01" height="9.59" fill="#1f0e55"/><rect x="421.50" y="405.01" width="10.01" height="9.59" fill="#000004"/><rect x="431.86" y="405.01" width="10.01" height="9.59" fill="#381478"/><rect x="442.23" y="405.01" width="10.01" height="9.59" fill="#000004"/><rect x="452.60" y="405.01" width="10.01" height="9.59" fill="#09061f"/><rect x="462.97" y="405.01" width="10.01" height="9.59" fill="#000004"/><rect x="473.34" y="405.01" width="10.01" height="9.59" fill="#240f60"/><rect x="483.71" y="405.01" width="10.01" height="9.59" fill="#020109"/><rect x="494.08" y="405.01" width="10.01" height="9.59" fill="#000004"/><rect x="504.45" y="405.01" width="10.01" height="9.59" fill="#000004"/><rect x="514.82" y="405.01" width="10.01" height="9.59" fill="#020109"/><rect x="525.19" y="405.01" width="10.01" height="9.59" fill="#020109"/><rect x="535.56" y="405.01" width="10.01" height="9.59" fill="#020109"/><rect x="545.93" y="405.01" width="10.01" height="9.59" fill="#000004"/><rect x="556.30" y="405.01" width="10.01" height="9.59" fill="#000004"/><rect x="566.66" y="405.01" width="10.01" height="9.59" fill="#020109"/><rect x="577.03" y="405.01" width="10.01" height="9.59" fill="#000004"/><rect x="587.40" y="405.01" width="10.01" height="9.59" fill="#2c1070"/><rect x="597.77" y="405.01" width="10.01" height="9.59" fill="#09061f"/><rect x="608.14" y="405.01" width="10.01" height="9.59" fill="#0d092a"/><rect x="618.51" y="405.01" width="10.01" height="9.59" fill="#020109"/>
<rect x="224.48" y="414.96" width="10.01" height="9.59" fill="#000004"/><rect x="234.85" y="414.96" width="10.01" height="9.59" fill="#050414"/><rect x="245.22" y="414.96" width="10.01" height="9.59" fill="#050414"/><rect x="255.59" y="414.96" width="10.01" height="9.59" fill="#7e2c8c"/><rect x="265.96" y="414.96" width="10.01" height="9.59" fill="#40167e"/><rect x="276.33" y="414.96" width="10.01" height="9.59" fill="#6e268c"/><rect x="286.70" y="414.96" width="10.01" height="9.59" fill="#1a0e4a"/><rect x="297.06" y="414.96" width="10.01" height="9.59" fill="#000004"/><rect x="307.43" y="414.96" width="10.01" height="9.59" fill="#000004"/><rect x="317.80" y="414.96" width="10.01" height="9.59" fill="#020109"/><rect x="328.17" y="414.96" width="10.01" height="9.59" fill="#020109"/><rect x="338.54" y="414.96" width="10.01" height="9.59" fill="#04030f"/><rect x="348.91" y="414.96" width="10.01" height="9.59" fill="#270f65"/><rect x="359.28" y="414.96" width="10.01" height="9.59" fill="#000004"/><rect x="369.65" y="414.96" width="10.01" height="9.59" fill="#000004"/><rect x="380.02" y="414.96" width="10.01" height="9.59" fill="#120d3a"/><rect x="390.39" y="414.96" width="10.01" height="9.59" fill="#000004"/><rect x="400.76" y="414.96" width="10.01" height="9.59" fill="#000004"/><rect x="411.13" y="414.96" width="10.01" height="9.59" fill="#3c157b"/><rect x="421.50" y="414.96" width="10.01" height="9.59" fill="#000004"/><rect x="431.86" y="414.96" width="10.01" height="9.59" fill="#90338b"/><rect x="442.23" y="414.96" width="10.01" height="9.59" fill="#000004"/><rect x="452.60" y="414.96" width="10.01" height="9.59" fill="#120d3a"/><rect x="462.97" y="414.96" width="10.01" height="9.59" fill="#000004"/><rect x="473.34" y="414.96" width="10.01" height="9.59" fill="#7e2c8c"/><rect x="483.71" y="414.96" width="10.01" height="9.59" fill="#09061f"/><rect x="494.08" y="414.96" width="10.01" height="9.59" fill="#000004"/><rect x="504.45" y="414.96" width="10.01" height="9.59" fill="#000004"/><rect x="514.82" y="414.96" width="10.01" height="9.59" fill="#2c1070"/><rect x="525.19" y="414.96" width="10.01" height="9.59" fill="#07051a"/><rect x="535.56" y="414.96" width="10.01" height="9.59" fill="#04030f"/><rect x="545.93" y="414.96" width="10.01" height="9.59" fill="#000004"/><rect x="556.30" y="414.96" width="10.01" height="9.59" fill="#000004"/><rect x="566.66" y="414.96" width="10.01" height="9.59" fill="#07051a"/><rect x="577.03" y="414.96" width="10.01" height="9.59" fill="#000004"/><rect x="587.40" y="414.96" width="10.01" height="9.59" fill="#5f208c"/><rect x="597.77" y="414.96" width="10.01" height="9.59" fill="#0e0a2f"/><rect x="608.14" y="414.96" width="10.01" height="9.59" fill="#270f65"/><rect x="618.51" y="414.96" width="10.01" height="9.59" fill="#07051a"/>
<rect x="224.48" y="424.91" width="10.01" height="9.59" fill="#000004"/><rect x="234.85" y="424.91" width="10.01" height="9.59" fill="#220f5a"/><rect x="245.22" y="424.91" width="10.01" height="9.59" fill="#40167e"/><rect x="255.59" y="424.91" width="10.01" height="9.59" fill="#88308c"/><rect x="265.96" y="424.91" width="10.01" height="9.59" fill="#983589"/><rect x="276.33" y="424.91" width="10.01" height="9.59" fill="#90338b"/><rect x="286.70" y="424.91" width="10.01" height="9.59" fill="#381478"/><rect x="297.06" y="424.91" width="10.01" height="9.59" fill="#020109"/><rect x="307.43" y="424.91" width="10.01" height="9.59" fill="#0e0a2f"/><rect x="317.80" y="424.91" width="10.01" height="9.59" fill="#240f60"/><rect x="328.17" y="424.91" width="10.01" height="9.59" fill="#000004"/><rect x="338.54" y="424.91" width="10.01" height="9.59" fill="#2c1070"/><rect x="348.91" y="424.91" width="10.01" height="9.59" fill="#551c8c"/><rect x="359.28" y="424.91" width="10.01" height="9.59" fill="#000004"/><rect x="369.65" y="424.91" width="10.01" height="9.59" fill="#000004"/><rect x="380.02" y="424.91" width="10.01" height="9.59" fill="#4d1a86"/><rect x="390.39" y="424.91" width="10.01" height="9.59" fill="#000004"/><rect x="400.76" y="424.91" width="10.01" height="9.59" fill="#000004"/><rect x="411.13" y="424.91" width="10.01" height="9.59" fill="#64228c"/><rect x="421.50" y="424.91" width="10.01" height="9.59" fill="#020109"/><rect x="431.86" y="424.91" width="10.01" height="9.59" fill="#c64478"/><rect x="442.23" y="424.91" width="10.01" height="9.59" fill="#000004"/><rect x="452.60" y="424.91" width="10.01" height="9.59" fill="#1f0e55"/><rect x="462.97" y="424.91" width="10.01" height="9.59" fill="#050414"/><rect x="473.34" y="424.91" width="10.01" height="9.59" fill="#b03d85"/><rect x="483.71" y="424.91" width="10.01" height="9.59" fill="#270f65"/><rect x="494.08" y="424.91" width="10.01" height="9.59" fill="#f07060"/><rect x="504.45" y="424.91" width="10.01" height="9.59" fill="#000004"/><rect x="514.82" y="424.91" width="10.01" height="9.59" fill="#7e2c8c"/><rect x="525.19" y="424.91" width="10.01" height="9.59" fill="#0d092a"/><rect x="535.56" y="424.91" width="10.01" height="9.59" fill="#100c35"/><rect x="545.93" y="424.91" width="10.01" height="9.59" fill="#100c35"/><rect x="556.30" y="424.91" width="10.01" height="9.59" fill="#050414"/><rect x="566.66" y="424.91" width="10.01" height="9.59" fill="#220f5a"/><rect x="577.03" y="424.91" width="10.01" height="9.59" fill="#000004"/><rect x="587.40" y="424.91" width="10.01" height="9.59" fill="#88308c"/><rect x="597.77" y="424.91" width="10.01" height="9.59" fill="#0e0a2f"/><rect x="608.14" y="424.91" width="10.01" height="9.59" fill="#40167e"/><rect x="618.51" y="424.91" width="10.01" height="9.59" fill="#1f0e55"/>
<rect x="224.48" y="434.87" width="10.01" height="9.59" fill="#000004"/><rect x="234.85" y="434.87" width="10.01" height="9.59" fill="#0d092a"/><rect x="245.22" y="434.87" width="10.01" height="9.59" fill="#f5aa76"/><rect x="255.59" y="434.87" width="10.01" height="9.59" fill="#f5c286"/><rect x="265.96" y="434.87" width="10.01" height="9.59" fill="#cf4674"/><rect x="276.33" y="434.87" width="10.01" height="9.59" fill="#ec6862"/><rect x="286.70" y="434.87" width="10.01" height="9.59" fill="#40167e"/><rect x="297.06" y="434.87" width="10.01" height="9.59" fill="#020109"/><rect x="307.43" y="434.87" width="10.01" height="9.59" fill="#07051a"/><rect x="317.80" y="434.87" width="10.01" height="9.59" fill="#a03888"/><rect x="328.17" y="434.87" width="10.01" height="9.59" fill="#000004"/><rect x="338.54" y="434.87" width="10.01" height="9.59" fill="#74288c"/><rect x="348.91" y="434.87" width="10.01" height="9.59" fill="#551c8c"/><rect x="359.28" y="434.87" width="10.01" height="9.59" fill="#000004"/><rect x="369.65" y="434.87" width="10.01" height="9.59" fill="#000004"/><rect x="380.02" y="434.87" width="10.01" height="9.59" fill="#74288c"/><rect x="390.39" y="434.87" width="10.01" height="9.59" fill="#000004"/><rect x="400.76" y="434.87" width="10.01" height="9.59" fill="#000004"/><rect x="411.13" y="434.87" width="10.01" height="9.59" fill="#551c8c"/><rect x="421.50" y="434.87" width="10.01" height="9.59" fill="#000004"/><rect x="431.86" y="434.87" width="10.01" height="9.59" fill="#f07060"/><rect x="442.23" y="434.87" width="10.01" height="9.59" fill="#000004"/><rect x="452.60" y="434.87" width="10.01" height="9.59" fill="#1f0e55"/><rect x="462.97" y="434.87" width="10.01" height="9.59" fill="#07051a"/><rect x="473.34" y="434.87" width="10.01" height="9.59" fill="#dc4a6c"/><rect x="483.71" y="434.87" width="10.01" height="9.59" fill="#5f208c"/><rect x="494.08" y="434.87" width="10.01" height="9.59" fill="#170e45"/><rect x="504.45" y="434.87" width="10.01" height="9.59" fill="#000004"/><rect x="514.82" y="434.87" width="10.01" height="9.59" fill="#90338b"/><rect x="525.19" y="434.87" width="10.01" height="9.59" fill="#1a0e4a"/><rect x="535.56" y="434.87" width="10.01" height="9.59" fill="#381478"/><rect x="545.93" y="434.87" width="10.01" height="9.59" fill="#170e45"/><rect x="556.30" y="434.87" width="10.01" height="9.59" fill="#020109"/><rect x="566.66" y="434.87" width="10.01" height="9.59" fill="#40167e"/><rect x="577.03" y="434.87" width="10.01" height="9.59" fill="#000004"/><rect x="587.40" y="434.87" width="10.01" height="9.59" fill="#88308c"/><rect x="597.77" y="434.87" width="10.01" height="9.59" fill="#100c35"/><rect x="608.14" y="434.87" width="10.01" height="9.59" fill="#551c8c"/><rect x="618.51" y="434.87" width="10.01" height="9.59" fill="#0e0a2f"/>
<rect x="224.48" y="444.82" width="10.01" height="9.59" fill="#000004"/><rect x="234.85" y="444.82" width="10.01" height="9.59" fill="#09061f"/><rect x="245.22" y="444.82" width="10.01" height="9.59" fill="#150d3f"/><rect x="255.59" y="444.82" width="10.01" height="9.59" fill="#a03888"/><rect x="265.96" y="444.82" width="10.01" height="9.59" fill="#7e2c8c"/><rect x="276.33" y="444.82" width="10.01" height="9.59" fill="#7e2c8c"/><rect x="286.70" y="444.82" width="10.01" height="9.59" fill="#270f65"/><rect x="297.06" y="444.82" width="10.01" height="9.59" fill="#000004"/><rect x="307.43" y="444.82" width="10.01" height="9.59" fill="#050414"/><rect x="317.80" y="444.82" width="10.01" height="9.59" fill="#832e8c"/><rect x="328.17" y="444.82" width="10.01" height="9.59" fill="#000004"/><rect x="338.54" y="444.82" width="10.01" height="9.59" fill="#1f0e55"/><rect x="348.91" y="444.82" width="10.01" height="9.59" fill="#341276"/><rect x="359.28" y="444.82" width="10.01" height="9.59" fill="#000004"/><rect x="369.65" y="444.82" width="10.01" height="9.59" fill="#000004"/><rect x="380.02" y="444.82" width="10.01" height="9.59" fill="#341276"/><rect x="390.39" y="444.82" width="10.01" height="9.59" fill="#000004"/><rect x="400.76" y="444.82" width="10.01" height="9.59" fill="#000004"/><rect x="411.13" y="444.82" width="10.01" height="9.59" fill="#40167e"/><rect x="421.50" y="444.82" width="10.01" height="9.59" fill="#000004"/><rect x="431.86" y="444.82" width="10.01" height="9.59" fill="#983589"/><rect x="442.23" y="444.82" width="10.01" height="9.59" fill="#000004"/><rect x="452.60" y="444.82" width="10.01" height="9.59" fill="#150d3f"/><rect x="462.97" y="444.82" width="10.01" height="9.59" fill="#020109"/><rect x="473.34" y="444.82" width="10.01" height="9.59" fill="#ca4576"/><rect x="483.71" y="444.82" width="10.01" height="9.59" fill="#1f0e55"/><rect x="494.08" y="444.82" width="10.01" height="9.59" fill="#04030f"/><rect x="504.45" y="444.82" width="10.01" height="9.59" fill="#000004"/><rect x="514.82" y="444.82" width="10.01" height="9.59" fill="#5f208c"/><rect x="525.19" y="444.82" width="10.01" height="9.59" fill="#09061f"/><rect x="535.56" y="444.82" width="10.01" height="9.59" fill="#09061f"/><rect x="545.93" y="444.82" width="10.01" height="9.59" fill="#050414"/><rect x="556.30" y="444.82" width="10.01" height="9.59" fill="#020109"/><rect x="566.66" y="444.82" width="10.01" height="9.59" fill="#170e45"/><rect x="577.03" y="444.82" width="10.01" height="9.59" fill="#000004"/><rect x="587.40" y="444.82" width="10.01" height="9.59" fill="#5f208c"/><rect x="597.77" y="444.82" width="10.01" height="9.59" fill="#0e0a2f"/><rect x="608.14" y="444.82" width="10.01" height="9.59" fill="#3c157b"/><rect x="618.51" y="444.82" width="10.01" height="9.59" fill="#07051a"/>
<rect x="224.48" y="454.77" width="10.01" height="9.59" fill="#000004"/><rect x="234.85" y="454.77" width="10.01" height="9.59" fill="#170e45"/><rect x="245.22" y="454.77" width="10.01" height="9.59" fill="#000004"/><rect x="255.59" y="454.77" width="10.01" height="9.59" fill="#341276"/><rect x="265.96" y="454.77" width="10.01" height="9.59" fill="#100c35"/><rect x="276.33" y="454.77" width="10.01" height="9.59" fill="#240f60"/><rect x="286.70" y="454.77" width="10.01" height="9.59" fill="#1f0e55"/><rect x="297.06" y="454.77" width="10.01" height="9.59" fill="#000004"/><rect x="307.43" y="454.77" width="10.01" height="9.59" fill="#050414"/><rect x="317.80" y="454.77" width="10.01" height="9.59" fill="#020109"/><rect x="328.17" y="454.77" width="10.01" height="9.59" fill="#000004"/><rect x="338.54" y="454.77" width="10.01" height="9.59" fill="#000004"/><rect x="348.91" y="454.77" width="10.01" height="9.59" fill="#1a0e4a"/><rect x="359.28" y="454.77" width="10.01" height="9.59" fill="#000004"/><rect x="369.65" y="454.77" width="10.01" height="9.59" fill="#000004"/><rect x="380.02" y="454.77" width="10.01" height="9.59" fill="#240f60"/><rect x="390.39" y="454.77" width="10.01" height="9.59" fill="#000004"/><rect x="400.76" y="454.77" width="10.01" height="9.59" fill="#000004"/><rect x="411.13" y="454.77" width="10.01" height="9.59" fill="#451781"/><rect x="421.50" y="454.77" width="10.01" height="9.59" fill="#000004"/><rect x="431.86" y="454.77" width="10.01" height="9.59" fill="#4d1a86"/><rect x="442.23" y="454.77" width="10.01" height="9.59" fill="#000004"/><rect x="452.60" y="454.77" width="10.01" height="9.59" fill="#100c35"/><rect x="462.97" y="454.77" width="10.01" height="9.59" fill="#000004"/><rect x="473.34" y="454.77" width="10.01" height="9.59" fill="#4d1a86"/><rect x="483.71" y="454.77" width="10.01" height="9.59" fill="#050414"/><rect x="494.08" y="454.77" width="10.01" height="9.59" fill="#020109"/><rect x="504.45" y="454.77" width="10.01" height="9.59" fill="#000004"/><rect x="514.82" y="454.77" width="10.01" height="9.59" fill="#07051a"/><rect x="525.19" y="454.77" width="10.01" height="9.59" fill="#020109"/><rect x="535.56" y="454.77" width="10.01" height="9.59" fill="#000004"/><rect x="545.93" y="454.77" width="10.01" height="9.59" fill="#000004"/><rect x="556.30" y="454.77" width="10.01" height="9.59" fill="#000004"/><rect x="566.66" y="454.77" width="10.01" height="9.59" fill="#07051a"/><rect x="577.03" y="454.77" width="10.01" height="9.59" fill="#000004"/><rect x="587.40" y="454.77" width="10.01" height="9.59" fill="#5f208c"/><rect x="597.77" y="454.77" width="10.01" height="9.59" fill="#0e0a2f"/><rect x="608.14" y="454.77" width="10.01" height="9.59" fill="#1f0e55"/><rect x="618.51" y="454.77" width="10.01" height="9.59" fill="#6e268c"/>
<rect x="224.48" y="464.72" width="10.01" height="9.59" fill="#000004"/><rect x="234.85" y="464.72" width="10.01" height="9.59" fill="#a03888"/><rect x="245.22" y="464.72" width="10.01" height="9.59" fill="#050414"/><rect x="255.59" y="464.72" width="10.01" height="9.59" fill="#451781"/><rect x="265.96" y="464.72" width="10.01" height="9.59" fill="#2c1070"/><rect x="276.33" y="464.72" width="10.01" height="9.59" fill="#3c157b"/><rect x="286.70" y="464.72" width="10.01" height="9.59" fill="#a03888"/><rect x="297.06" y="464.72" width="10.01" height="9.59" fill="#000004"/><rect x="307.43" y="464.72" width="10.01" height="9.59" fill="#64228c"/><rect x="317.80" y="464.72" width="10.01" height="9.59" fill="#000004"/><rect x="328.17" y="464.72" width="10.01" height="9.59" fill="#0d092a"/><rect x="338.54" y="464.72" width="10.01" height="9.59" fill="#09061f"/><rect x="348.91" y="464.72" width="10.01" height="9.59" fill="#1c0e50"/><rect x="359.28" y="464.72" width="10.01" height="9.59" fill="#120d3a"/><rect x="369.65" y="464.72" width="10.01" height="9.59" fill="#000004"/><rect x="380.02" y="464.72" width="10.01" height="9.59" fill="#c64478"/><rect x="390.39" y="464.72" width="10.01" height="9.59" fill="#000004"/><rect x="400.76" y="464.72" width="10.01" height="9.59" fill="#000004"/><rect x="411.13" y="464.72" width="10.01" height="9.59" fill="#88308c"/><rect x="421.50" y="464.72" width="10.01" height="9.59" fill="#000004"/><rect x="431.86" y="464.72" width="10.01" height="9.59" fill="#551c8c"/><rect x="442.23" y="464.72" width="10.01" height="9.59" fill="#000004"/><rect x="452.60" y="464.72" width="10.01" height="9.59" fill="#220f5a"/><rect x="462.97" y="464.72" width="10.01" height="9.59" fill="#000004"/><rect x="473.34" y="464.72" width="10.01" height="9.59" fill="#a03888"/><rect x="483.71" y="464.72" width="10.01" height="9.59" fill="#2c1070"/><rect x="494.08" y="464.72" width="10.01" height="9.59" fill="#07051a"/><rect x="504.45" y="464.72" width="10.01" height="9.59" fill="#000004"/><rect x="514.82" y="464.72" width="10.01" height="9.59" fill="#270f65"/><rect x="525.19" y="464.72" width="10.01" height="9.59" fill="#1f0e55"/><rect x="535.56" y="464.72" width="10.01" height="9.59" fill="#09061f"/><rect x="545.93" y="464.72" width="10.01" height="9.59" fill="#1f0e55"/><rect x="556.30" y="464.72" width="10.01" height="9.59" fill="#09061f"/><rect x="566.66" y="464.72" width="10.01" height="9.59" fill="#3c157b"/><rect x="577.03" y="464.72" width="10.01" height="9.59" fill="#000004"/><rect x="587.40" y="464.72" width="10.01" height="9.59" fill="#983589"/><rect x="597.77" y="464.72" width="10.01" height="9.59" fill="#0e0a2f"/><rect x="608.14" y="464.72" width="10.01" height="9.59" fill="#381478"/><rect x="618.51" y="464.72" width="10.01" height="9.59" fill="#90338b"/>
<rect x="224.48" y="474.68" width="10.01" height="9.59" fill="#000004"/><rect x="234.85" y="474.68" width="10.01" height="9.59" fill="#90338b"/><rect x="245.22" y="474.68" width="10.01" height="9.59" fill="#f5c286"/><rect x="255.59" y="474.68" width="10.01" height="9.59" fill="#f5b880"/><rect x="265.96" y="474.68" width="10.01" height="9.59" fill="#e65d66"/><rect x="276.33" y="474.68" width="10.01" height="9.59" fill="#f5ae7a"/><rect x="286.70" y="474.68" width="10.01" height="9.59" fill="#a03888"/><rect x="297.06" y="474.68" width="10.01" height="9.59" fill="#f17a63"/><rect x="307.43" y="474.68" width="10.01" height="9.59" fill="#74288c"/><rect x="317.80" y="474.68" width="10.01" height="9.59" fill="#551c8c"/><rect x="328.17" y="474.68" width="10.01" height="9.59" fill="#270f65"/><rect x="338.54" y="474.68" width="10.01" height="9.59" fill="#a83a86"/><rect x="348.91" y="474.68" width="10.01" height="9.59" fill="#5f208c"/><rect x="359.28" y="474.68" width="10.01" height="9.59" fill="#4d1a86"/><rect x="369.65" y="474.68" width="10.01" height="9.59" fill="#050414"/><rect x="380.02" y="474.68" width="10.01" height="9.59" fill="#ca4576"/><rect x="390.39" y="474.68" width="10.01" height="9.59" fill="#04030f"/><rect x="400.76" y="474.68" width="10.01" height="9.59" fill="#04030f"/><rect x="411.13" y="474.68" width="10.01" height="9.59" fill="#ca4576"/><rect x="421.50" y="474.68" width="10.01" height="9.59" fill="#170e45"/><rect x="431.86" y="474.68" width="10.01" height="9.59" fill="#f5a070"/><rect x="442.23" y="474.68" width="10.01" height="9.59" fill="#240f60"/><rect x="452.60" y="474.68" width="10.01" height="9.59" fill="#451781"/><rect x="462.97" y="474.68" width="10.01" height="9.59" fill="#7e2c8c"/><rect x="473.34" y="474.68" width="10.01" height="9.59" fill="#f5ae7a"/><rect x="483.71" y="474.68" width="10.01" height="9.59" fill="#e65d66"/><rect x="494.08" y="474.68" width="10.01" height="9.59" fill="#551c8c"/><rect x="504.45" y="474.68" width="10.01" height="9.59" fill="#000004"/><rect x="514.82" y="474.68" width="10.01" height="9.59" fill="#dc4a6c"/><rect x="525.19" y="474.68" width="10.01" height="9.59" fill="#74288c"/><rect x="535.56" y="474.68" width="10.01" height="9.59" fill="#64228c"/><rect x="545.93" y="474.68" width="10.01" height="9.59" fill="#a03888"/><rect x="556.30" y="474.68" width="10.01" height="9.59" fill="#240f60"/><rect x="566.66" y="474.68" width="10.01" height="9.59" fill="#dc4a6c"/><rect x="577.03" y="474.68" width="10.01" height="9.59" fill="#09061f"/><rect x="587.40" y="474.68" width="10.01" height="9.59" fill="#f07060"/><rect x="597.77" y="474.68" width="10.01" height="9.59" fill="#2c1070"/><rect x="608.14" y="474.68" width="10.01" height="9.59" fill="#983589"/><rect x="618.51" y="474.68" width="10.01" height="9.59" fill="#64228c"/>
<rect x="224.48" y="484.63" width="10.01" height="9.59" fill="#000004"/><rect x="234.85" y="484.63" width="10.01" height="9.59" fill="#a03888"/><rect x="245.22" y="484.63" width="10.01" height="9.59" fill="#341276"/><rect x="255.59" y="484.63" width="10.01" height="9.59" fill="#74288c"/><rect x="265.96" y="484.63" width="10.01" height="9.59" fill="#4d1a86"/><rect x="276.33" y="484.63" width="10.01" height="9.59" fill="#7e2c8c"/><rect x="286.70" y="484.63" width="10.01" height="9.59" fill="#7e2c8c"/><rect x="297.06" y="484.63" width="10.01" height="9.59" fill="#020109"/><rect x="307.43" y="484.63" width="10.01" height="9.59" fill="#551c8c"/><rect x="317.80" y="484.63" width="10.01" height="9.59" fill="#04030f"/><rect x="328.17" y="484.63" width="10.01" height="9.59" fill="#07051a"/><rect x="338.54" y="484.63" width="10.01" height="9.59" fill="#100c35"/><rect x="348.91" y="484.63" width="10.01" height="9.59" fill="#240f60"/><rect x="359.28" y="484.63" width="10.01" height="9.59" fill="#120d3a"/><rect x="369.65" y="484.63" width="10.01" height="9.59" fill="#000004"/><rect x="380.02" y="484.63" width="10.01" height="9.59" fill="#64228c"/><rect x="390.39" y="484.63" width="10.01" height="9.59" fill="#000004"/><rect x="400.76" y="484.63" width="10.01" height="9.59" fill="#000004"/><rect x="411.13" y="484.63" width="10.01" height="9.59" fill="#c64478"/><rect x="421.50" y="484.63" width="10.01" height="9.59" fill="#000004"/><rect x="431.86" y="484.63" width="10.01" height="9.59" fill="#7e2c8c"/><rect x="442.23" y="484.63" width="10.01" height="9.59" fill="#000004"/><rect x="452.60" y="484.63" width="10.01" height="9.59" fill="#2c1070"/><rect x="462.97" y="484.63" width="10.01" height="9.59" fill="#1f0e55"/><rect x="473.34" y="484.63" width="10.01" height="9.59" fill="#b03d85"/><rect x="483.71" y="484.63" width="10.01" height="9.59" fill="#90338b"/><rect x="494.08" y="484.63" width="10.01" height="9.59" fill="#09061f"/><rect x="504.45" y="484.63" width="10.01" height="9.59" fill="#000004"/><rect x="514.82" y="484.63" width="10.01" height="9.59" fill="#341276"/><rect x="525.19" y="484.63" width="10.01" height="9.59" fill="#120d3a"/><rect x="535.56" y="484.63" width="10.01" height="9.59" fill="#050414"/><rect x="545.93" y="484.63" width="10.01" height="9.59" fill="#88308c"/><rect x="556.30" y="484.63" width="10.01" height="9.59" fill="#1f0e55"/><rect x="566.66" y="484.63" width="10.01" height="9.59" fill="#6e268c"/><rect x="577.03" y="484.63" width="10.01" height="9.59" fill="#000004"/><rect x="587.40" y="484.63" width="10.01" height="9.59" fill="#e25568"/><rect x="597.77" y="484.63" width="10.01" height="9.59" fill="#120d3a"/><rect x="608.14" y="484.63" width="10.01" height="9.59" fill="#451781"/><rect x="618.51" y="484.63" width="10.01" height="9.59" fill="#270f65"/>
<path d="M628.7 270.5H638.7 M628.7 280.4H638.7 M638.7 270.5V280.4 M638.7 275.5H649.5 M649.5 275.5V337.5 M628.7 290.4H631.4 M628.7 300.3H631.4 M631.4 290.4V300.3 M628.7 310.3H632.7 M628.7 320.2H632.7 M632.7 310.3V320.2 M631.4 295.4H638.1 M632.7 315.3H638.1 M638.1 295.4V315.3 M638.1 305.3H647.4 M647.4 305.3V372.0 M628.7 330.2H643.4 M628.7 340.1H638.7 M628.7 350.1H638.7 M638.7 340.1V350.1 M638.7 345.1H643.4 M643.4 330.2V345.1 M643.4 337.5H649.5 M645.6 337.5V406.5 M645.6 372.0H647.4 M644.1 406.5H645.6 M628.7 360.0H632.7 M628.7 370.0H630.2 M628.7 379.9H630.2 M630.2 370.0V379.9 M630.2 375.0H632.7 M632.7 360.0V375.0 M632.7 366.8H644.1 M644.1 366.8V446.0 M640.1 446.0H644.1 M628.7 389.9H633.4 M628.7 399.9H631.0 M628.7 409.8H631.0 M631.0 399.9V409.8 M631.0 404.8H633.4 M633.4 389.9V404.8 M628.7 419.8H630.2 M628.7 429.7H633.4 M628.7 439.7H631.4 M628.7 449.6H631.4 M631.4 439.7V449.6 M631.4 444.6H633.4 M633.4 429.7V444.6 M634.8 398.4V436.6 M633.4 398.4H634.8 M633.4 436.6H634.8 M634.8 417.8H640.1 M640.1 417.8V474.7 M628.7 459.6H632.7 M628.7 469.5H632.7 M632.7 459.6V469.5 M628.7 479.5H633.4 M628.7 489.4H633.4 M633.4 479.5V489.4 M632.7 464.5H637.4 M633.4 484.4H637.4 M637.4 464.5V484.4 M637.4 474.7H640.1" fill="none" stroke="#4a4a4a" stroke-width="0.95" />
<text x="193.20" y="274.18" font-size="10.9" text-anchor="end" >Hypoxic perivascular neutrophils</text>
<rect x="197.60" y="266.08" width="8.80" height="8.80" fill="#5f6fff" stroke="#999" stroke-width="0.8" />
<rect x="211.10" y="266.08" width="8.80" height="8.80" fill="#3048a8" stroke="#777" stroke-width="0.8" />
<text x="193.20" y="284.13" font-size="10.9" text-anchor="end" >Neutrophils</text>
<rect x="197.60" y="276.03" width="8.80" height="8.80" fill="#f08020" stroke="#999" stroke-width="0.8" />
<rect x="211.10" y="276.03" width="8.80" height="8.80" fill="#3048a8" stroke="#777" stroke-width="0.8" />
<text x="193.20" y="294.08" font-size="10.9" text-anchor="end" >AGTR1+ CD8+ TEMRA cells</text>
<rect x="197.60" y="285.98" width="8.80" height="8.80" fill="#60ffb0" stroke="#999" stroke-width="0.8" />
<rect x="211.10" y="285.98" width="8.80" height="8.80" fill="#40b060" stroke="#777" stroke-width="0.8" />
<text x="193.20" y="304.03" font-size="10.9" text-anchor="end" >CD8+ TEMRA cells</text>
<rect x="197.60" y="295.93" width="8.80" height="8.80" fill="#50e860" stroke="#999" stroke-width="0.8" />
<rect x="211.10" y="295.93" width="8.80" height="8.80" fill="#40b060" stroke="#777" stroke-width="0.8" />
<text x="193.20" y="313.98" font-size="10.9" text-anchor="end" >CD4+ TEMRA cells</text>
<rect x="197.60" y="305.88" width="8.80" height="8.80" fill="#c8ff40" stroke="#999" stroke-width="0.8" />
<rect x="211.10" y="305.88" width="8.80" height="8.80" fill="#40b060" stroke="#777" stroke-width="0.8" />
<text x="193.20" y="323.94" font-size="10.9" text-anchor="end" >CD4- CD8- T-cells</text>
<rect x="197.60" y="315.84" width="8.80" height="8.80" fill="#d8ffd8" stroke="#999" stroke-width="0.8" />
<rect x="211.10" y="315.84" width="8.80" height="8.80" fill="#40b060" stroke="#777" stroke-width="0.8" />
<text x="193.20" y="333.89" font-size="10.9" text-anchor="end" >Vascular-related pericytes</text>
<rect x="197.60" y="325.79" width="8.80" height="8.80" fill="#d05058" stroke="#999" stroke-width="0.8" />
<rect x="211.10" y="325.79" width="8.80" height="8.80" fill="#f02830" stroke="#777" stroke-width="0.8" />
<text x="193.20" y="343.84" font-size="10.9" text-anchor="end" >Erythrocytes</text>
<rect x="197.60" y="335.74" width="8.80" height="8.80" fill="#ff1a10" stroke="#999" stroke-width="0.8" />
<rect x="211.10" y="335.74" width="8.80" height="8.80" fill="#f02830" stroke="#777" stroke-width="0.8" />
<text x="193.20" y="353.79" font-size="10.9" text-anchor="end" >Vascular endothelial cells</text>
<rect x="197.60" y="345.69" width="8.80" height="8.80" fill="#f08088" stroke="#999" stroke-width="0.8" />
<rect x="211.10" y="345.69" width="8.80" height="8.80" fill="#f02830" stroke="#777" stroke-width="0.8" />
<text x="193.20" y="363.75" font-size="10.9" text-anchor="end" >Proliferative PD-L1+ Schwann cells</text>
<rect x="197.60" y="355.65" width="8.80" height="8.80" fill="#f0f080" stroke="#999" stroke-width="0.8" />
<rect x="211.10" y="355.65" width="8.80" height="8.80" fill="#8040a0" stroke="#777" stroke-width="0.8" />
<text x="193.20" y="373.70" font-size="10.9" text-anchor="end" >Proliferative TAMs</text>
<rect x="197.60" y="365.60" width="8.80" height="8.80" fill="#f0e030" stroke="#999" stroke-width="0.8" />
<rect x="211.10" y="365.60" width="8.80" height="8.80" fill="#3048a8" stroke="#777" stroke-width="0.8" />
<text x="193.20" y="383.65" font-size="10.9" text-anchor="end" >Proliferative cells</text>
<rect x="197.60" y="375.55" width="8.80" height="8.80" fill="#d4c030" stroke="#999" stroke-width="0.8" />
<text x="193.20" y="393.60" font-size="10.9" text-anchor="end" >CD44+ Schwann cells</text>
<rect x="197.60" y="385.50" width="8.80" height="8.80" fill="#c8a0d8" stroke="#999" stroke-width="0.8" />
<rect x="211.10" y="385.50" width="8.80" height="8.80" fill="#8040a0" stroke="#777" stroke-width="0.8" />
<text x="193.20" y="403.55" font-size="10.9" text-anchor="end" >pERK+ Schwann cells</text>
<rect x="197.60" y="395.45" width="8.80" height="8.80" fill="#ffc0ff" stroke="#999" stroke-width="0.8" />
<rect x="211.10" y="395.45" width="8.80" height="8.80" fill="#8040a0" stroke="#777" stroke-width="0.8" />
<text x="193.20" y="413.51" font-size="10.9" text-anchor="end" >Other</text>
<rect x="197.60" y="405.41" width="8.80" height="8.80" fill="#d8d8d8" stroke="#999" stroke-width="0.8" />
<text x="193.20" y="423.46" font-size="10.9" text-anchor="end" >Schwann cells</text>
<rect x="197.60" y="415.36" width="8.80" height="8.80" fill="#e0d0ff" stroke="#999" stroke-width="0.8" />
<rect x="211.10" y="415.36" width="8.80" height="8.80" fill="#8040a0" stroke="#777" stroke-width="0.8" />
<text x="193.20" y="433.41" font-size="10.9" text-anchor="end" >PD-L1+ Schwann cells</text>
<rect x="197.60" y="425.31" width="8.80" height="8.80" fill="#401098" stroke="#999" stroke-width="0.8" />
<rect x="211.10" y="425.31" width="8.80" height="8.80" fill="#8040a0" stroke="#777" stroke-width="0.8" />
<text x="193.20" y="443.36" font-size="10.9" text-anchor="end" >PanCK+ SOX-10+ Schwann cells</text>
<rect x="197.60" y="435.26" width="8.80" height="8.80" fill="#d040ff" stroke="#999" stroke-width="0.8" />
<rect x="211.10" y="435.26" width="8.80" height="8.80" fill="#8040a0" stroke="#777" stroke-width="0.8" />
<text x="193.20" y="453.32" font-size="10.9" text-anchor="end" >SOX-10+ Schwann cells</text>
<rect x="197.60" y="445.22" width="8.80" height="8.80" fill="#9048ff" stroke="#999" stroke-width="0.8" />
<rect x="211.10" y="445.22" width="8.80" height="8.80" fill="#8040a0" stroke="#777" stroke-width="0.8" />
<text x="193.20" y="463.27" font-size="10.9" text-anchor="end" >CD68+ TAMs</text>
<rect x="197.60" y="455.17" width="8.80" height="8.80" fill="#ff2890" stroke="#999" stroke-width="0.8" />
<rect x="211.10" y="455.17" width="8.80" height="8.80" fill="#3048a8" stroke="#777" stroke-width="0.8" />
<text x="193.20" y="473.22" font-size="10.9" text-anchor="end" >Transitioning monocytes</text>
<rect x="197.60" y="465.12" width="8.80" height="8.80" fill="#9020a0" stroke="#999" stroke-width="0.8" />
<rect x="211.10" y="465.12" width="8.80" height="8.80" fill="#3048a8" stroke="#777" stroke-width="0.8" />
<text x="193.20" y="483.17" font-size="10.9" text-anchor="end" >Alternatively-activated-like TAMs</text>
<rect x="197.60" y="475.07" width="8.80" height="8.80" fill="#98b8ff" stroke="#999" stroke-width="0.8" />
<rect x="211.10" y="475.07" width="8.80" height="8.80" fill="#3048a8" stroke="#777" stroke-width="0.8" />
<text x="193.20" y="493.12" font-size="10.9" text-anchor="end" >Classically-activated-like TAMs</text>
<rect x="197.60" y="485.02" width="8.80" height="8.80" fill="#f8dcb8" stroke="#999" stroke-width="0.8" />
<rect x="211.10" y="485.02" width="8.80" height="8.80" fill="#3048a8" stroke="#777" stroke-width="0.8" />
<text x="233.38" y="497.00" font-size="11" text-anchor="end" transform="rotate(-90 233.38 497.00)" >SMA</text>
<text x="243.75" y="497.00" font-size="11" text-anchor="end" transform="rotate(-90 243.75 497.00)" >Iba1</text>
<text x="254.12" y="497.00" font-size="11" text-anchor="end" transform="rotate(-90 254.12 497.00)" >PanCytokeratin</text>
<text x="264.49" y="497.00" font-size="11" text-anchor="end" transform="rotate(-90 264.49 497.00)" >S100B</text>
<text x="274.86" y="497.00" font-size="11" text-anchor="end" transform="rotate(-90 274.86 497.00)" >MHCI</text>
<text x="285.23" y="497.00" font-size="11" text-anchor="end" transform="rotate(-90 285.23 497.00)" >Vimentin</text>
<text x="295.60" y="497.00" font-size="11" text-anchor="end" transform="rotate(-90 295.60 497.00)" >CD14</text>
<text x="305.97" y="497.00" font-size="11" text-anchor="end" transform="rotate(-90 305.97 497.00)" >ICAM1</text>
<text x="316.34" y="497.00" font-size="11" text-anchor="end" transform="rotate(-90 316.34 497.00)" >CD16</text>
<text x="326.71" y="497.00" font-size="11" text-anchor="end" transform="rotate(-90 326.71 497.00)" >SOX-10</text>
<text x="337.08" y="497.00" font-size="11" text-anchor="end" transform="rotate(-90 337.08 497.00)" >CD11b</text>
<text x="347.45" y="497.00" font-size="11" text-anchor="end" transform="rotate(-90 347.45 497.00)" >CD44</text>
<text x="357.82" y="497.00" font-size="11" text-anchor="end" transform="rotate(-90 357.82 497.00)" >GranzymeB</text>
<text x="368.18" y="497.00" font-size="11" text-anchor="end" transform="rotate(-90 368.18 497.00)" >CD45</text>
<text x="378.55" y="497.00" font-size="11" text-anchor="end" transform="rotate(-90 378.55 497.00)" >CD31</text>
<text x="388.92" y="497.00" font-size="11" text-anchor="end" transform="rotate(-90 388.92 497.00)" >CD11c</text>
<text x="399.29" y="497.00" font-size="11" text-anchor="end" transform="rotate(-90 399.29 497.00)" >HIF1a</text>
<text x="409.66" y="497.00" font-size="11" text-anchor="end" transform="rotate(-90 409.66 497.00)" >CD4</text>
<text x="420.03" y="497.00" font-size="11" text-anchor="end" transform="rotate(-90 420.03 497.00)" >CD45RA</text>
<text x="430.40" y="497.00" font-size="11" text-anchor="end" transform="rotate(-90 430.40 497.00)" >vWF</text>
<text x="440.77" y="497.00" font-size="11" text-anchor="end" transform="rotate(-90 440.77 497.00)" >TIM-3</text>
<text x="451.14" y="497.00" font-size="11" text-anchor="end" transform="rotate(-90 451.14 497.00)" >CD206</text>
<text x="461.51" y="497.00" font-size="11" text-anchor="end" transform="rotate(-90 461.51 497.00)" >GLUT1</text>
<text x="471.88" y="497.00" font-size="11" text-anchor="end" transform="rotate(-90 471.88 497.00)" >AGTR1</text>
<text x="482.25" y="497.00" font-size="11" text-anchor="end" transform="rotate(-90 482.25 497.00)" >TCIRG1</text>
<text x="492.62" y="497.00" font-size="11" text-anchor="end" transform="rotate(-90 492.62 497.00)" >CD74</text>
<text x="502.98" y="497.00" font-size="11" text-anchor="end" transform="rotate(-90 502.98 497.00)" >PD-L1</text>
<text x="513.35" y="497.00" font-size="11" text-anchor="end" transform="rotate(-90 513.35 497.00)" >Ki-67</text>
<text x="523.72" y="497.00" font-size="11" text-anchor="end" transform="rotate(-90 523.72 497.00)" >CAIX</text>
<text x="534.09" y="497.00" font-size="11" text-anchor="end" transform="rotate(-90 534.09 497.00)" >CD3</text>
<text x="544.46" y="497.00" font-size="11" text-anchor="end" transform="rotate(-90 544.46 497.00)" >pERK</text>
<text x="554.83" y="497.00" font-size="11" text-anchor="end" transform="rotate(-90 554.83 497.00)" >CX3CR1</text>
<text x="565.20" y="497.00" font-size="11" text-anchor="end" transform="rotate(-90 565.20 497.00)" >CD45RO</text>
<text x="575.57" y="497.00" font-size="11" text-anchor="end" transform="rotate(-90 575.57 497.00)" >HLA-DR</text>
<text x="585.94" y="497.00" font-size="11" text-anchor="end" transform="rotate(-90 585.94 497.00)" >CD8a</text>
<text x="596.31" y="497.00" font-size="11" text-anchor="end" transform="rotate(-90 596.31 497.00)" >MCT4</text>
<text x="606.68" y="497.00" font-size="11" text-anchor="end" transform="rotate(-90 606.68 497.00)" >CD235ab</text>
<text x="617.05" y="497.00" font-size="11" text-anchor="end" transform="rotate(-90 617.05 497.00)" >CD163</text>
<text x="627.42" y="497.00" font-size="11" text-anchor="end" transform="rotate(-90 627.42 497.00)" >CD68</text>
<path d="M212 498.5 L205.5 505" fill="none" stroke="#000" stroke-width="0.7" />
<path d="M204.6 505.9 l1.2 -2.8 l1.6 1.8 z" fill="#000" />
<text x="90.70" y="519.40" font-size="10.2" text-anchor="middle" >Normalised</text>
<text x="90.70" y="527.60" font-size="10.0" text-anchor="middle" >expression</text>
<rect x="68.80" y="533.00" width="40.30" height="6.80" fill="url(#cbar)" stroke="#333" stroke-width="0.5" />
<text x="66.80" y="540.30" font-size="10.2" text-anchor="end" >0.0</text>
<text x="110.70" y="540.30" font-size="10.2" >0.5</text>
<rect x="145.00" y="508.00" width="9.30" height="9.30" fill="#40b060" stroke="#666" stroke-width="0.7" />
<text x="157.30" y="516.20" font-size="10.4" >Lymphoid</text>
<rect x="145.00" y="519.60" width="9.30" height="9.30" fill="#f02830" stroke="#666" stroke-width="0.7" />
<text x="157.30" y="527.80" font-size="10.4" >Vascular</text>
<rect x="145.00" y="531.20" width="9.30" height="9.30" fill="#3048a8" stroke="#666" stroke-width="0.7" />
<text x="157.30" y="539.40" font-size="10.4" >Myeloid</text>
<rect x="145.00" y="542.80" width="9.30" height="9.30" fill="#8040a0" stroke="#666" stroke-width="0.7" />
<text x="157.30" y="551.00" font-size="10.4" >Schwann</text>
</g>
<g id="panelA">
<text x="1.20" y="17.80" font-size="19" >A</text>
<rect x="28.00" y="4.80" width="85.40" height="93.40" fill="#020202" />
<g clip-path="url(#cMRI)"><g filter="url(#b07)"><path d="M70.5 7 C84 8 97 20 103 36 C108 52 106 70 98 82 C91 92 80 96.5 70.5 96.5 C61 96.5 50 92 43 82 C35 70 33 52 38 36 C44 20 57 8 70.5 7Z" fill="#141616" stroke="#4e5151" stroke-width="1.1"/><path d="M70.5 11 C82 12 93 22 99 37 C103 52 102 68 95 79 C89 88 79 92.5 70.5 92.5 C62 92.5 52 88 46 79 C39 68 38 52 42 37 C48 22 59 12 70.5 11Z" fill="#0a0b0b" stroke="#3e4141" stroke-width="0.9"/><path d="M40 62 C42 78 54 91 70.5 92 C87 91 99 78 101 62" fill="none" stroke="#6c6f6f" stroke-width="1.0"/><path d="M43 66 C44 58 56 56 70.5 57 C85 56 97 58 98 66 C98 78 86 88 70.5 88 C55 88 43 78 43 66Z" fill="#363b3b"/><path d="M44 68 C45 80 56 87 70 87.5" fill="none" stroke="#b8baba" stroke-width="1.4"/><path d="M97 68 C96 80 85 87 72 87.5" fill="none" stroke="#9a9c9c" stroke-width="1.1"/><ellipse cx="45.5" cy="67" rx="2.2" ry="4.5" fill="#d5d7d7"/><ellipse cx="96" cy="65" rx="1.8" ry="3.2" fill="#c0c2c2"/><path d="M42 50 C39 38 46 28 56 30 C63 33 65 42 63 51 C58 56 47 57 42 50Z" fill="#2e3232"/><path d="M99 49 C102 38 95 28 85 30 C78 33 76 42 78 50 C83 55 94 56 99 49Z" fill="#2c3030"/><ellipse cx="56.5" cy="23" rx="6.2" ry="7.5" fill="#191b1b" stroke="#6e7171" stroke-width="0.9"/><ellipse cx="84.5" cy="23" rx="6.2" ry="7.5" fill="#191b1b" stroke="#6e7171" stroke-width="0.9"/><path d="M66 12 C68 9 73 9 75 12 L76 32 L65 32 Z" fill="#222525" stroke="#7a7d7d" stroke-width="0.8"/><path d="M68.5 13 L68 31 M72.5 13 L73 31" stroke="#8a8d8d" stroke-width="0.7"/><path d="M64 35 C65 31 76 31 77 35 C78 41 74 45 70.5 45 C67 45 63 41 64 35Z" fill="#000" stroke="#6a6d6d" stroke-width="0.8"/><circle cx="80" cy="27" r="1.6" fill="#e8eaea"/><ellipse cx="70.5" cy="55" rx="6.5" ry="4.5" fill="#3a3f3f"/><ellipse cx="70.5" cy="63.5" rx="1.8" ry="1.3" fill="#0a0a0a"/><path d="M46 58 L60 54 L60 59 L48 63Z" fill="#070707"/><path d="M95 57 L82 54 L82 59 L93 62Z" fill="#070707"/><path d="M42 30 C46 22 52 17 58 14 M99 30 C95 22 89 17 83 14" stroke="#7a7d7d" stroke-width="1" fill="none"/><path d="M39 62 C38 50 40 40 44 32 M102 60 C103 50 101 40 97 32" stroke="#5a5d5d" stroke-width="1.4" fill="none"/></g><g filter="url(#b03)"><path d="M57 53 C58 50.5 62 49.5 65 50 C68 51 68.5 55 67 57.5 C65 60 61 60.5 59.5 58 C59.5 56 57.5 55.5 57 53Z" fill="#e9ebeb" stroke="#e01010" stroke-width="0.8" />
<path d="M79 52.5 C80.5 51 84 51 85.5 52.5 C85 54 83 54.5 82.5 56 C81 57 79.5 56.5 79.3 55Z" fill="#e0e2e2" stroke="#e01010" stroke-width="0.8" />
</g></g><text x="71.00" y="108.90" font-size="10.6" text-anchor="middle" textLength="78.70" lengthAdjust="spacingAndGlyphs" >13 retrospective</text>
<text x="70.50" y="121.00" font-size="10.6" text-anchor="middle" textLength="95.20" lengthAdjust="spacingAndGlyphs" >NF2 SWN vestibular</text>
<text x="70.70" y="133.30" font-size="10.6" text-anchor="middle" textLength="92.40" lengthAdjust="spacingAndGlyphs" >schwannoma cases</text>
<line x1="128.70" y1="57.10" x2="156.00" y2="57.10" stroke="#000" stroke-width="1.3" />
<path d="M163.0 57.1 L155.0 52.8 L155.0 61.4 Z" fill="#000" />
<text x="215.90" y="17.30" font-size="10.6" text-anchor="middle" textLength="88.60" lengthAdjust="spacingAndGlyphs" >Neuropathological</text>
<text x="215.50" y="28.80" font-size="10.6" text-anchor="middle" textLength="114.00" lengthAdjust="spacingAndGlyphs" >identification of regions</text>
<polygon points="180.49,57.75 183.91,58.87 182.20,63.93 178.78,62.88" fill="#9b6cc2"/>
<polygon points="178.00,63.14 182.73,64.78 178.00,78.25 173.27,76.61" fill="#9b6cc2"/>
<polygon points="173.00,77.46 177.67,79.11 176.16,82.98 171.69,81.41" fill="#9b6cc2"/>
<line x1="172.74" y1="77.92" x2="177.86" y2="79.70" stroke="#e8dcf2" stroke-width="0.7" />
<path d="M181.28 71.35 C185.88 69.71 190.48 74.97 189.82 82.19 C189.17 87.45 186.54 91.39 184.24 93.36 L181.61 90.08 C184.24 87.45 185.55 84.17 184.89 81.21 C183.91 79.24 181.28 78.91 178.98 78.25 Z" fill="#4b2c80" />
<circle cx="179.97" cy="73.78" r="2.7" fill="#fff"/><circle cx="179.97" cy="73.78" r="1.9" fill="#4b2c80"/>
<line x1="165.18" y1="82.33" x2="179.97" y2="86.93" stroke="#4b2c80" stroke-width="1.5" />
<line x1="165.18" y1="88.63" x2="173.73" y2="91.52" stroke="#4b2c80" stroke-width="1.4" />
<polygon points="175.89,87.98 179.44,88.90 176.68,97.44 172.87,96.32" fill="#4b2c80"/>
<polygon points="178.98,92.05 180.30,90.21 182.60,91.06 186.87,100.59 178.65,100.59" fill="#4b2c80"/>
<polygon points="164.53,100.26 189.82,100.26 189.82,102.96 164.53,102.96" fill="#4b2c80"/>
<clipPath id="cccirc3"><circle cx="253.5" cy="86.4" r="19.1"/></clipPath><g clip-path="url(#cccirc3)"><rect x="233.5" y="66.4" width="40" height="40" fill="#a860b8" filter="url(#circ3)"/></g><circle cx="253.5" cy="86.4" r="19.1" fill="none" stroke="#1a1a1a" stroke-width="0.7"/>
<clipPath id="cccirc2"><circle cx="231" cy="70" r="19.1"/></clipPath><g clip-path="url(#cccirc2)"><rect x="211" y="50" width="40" height="40" fill="#c890c8" filter="url(#circ2)"/></g><circle cx="231" cy="70" r="19.1" fill="none" stroke="#1a1a1a" stroke-width="0.7"/>
<clipPath id="cccirc1"><circle cx="206.9" cy="52.6" r="19.1"/></clipPath><g clip-path="url(#cccirc1)"><rect x="186.9" y="32.6" width="40" height="40" fill="#b068b8" filter="url(#circ1)"/></g><circle cx="206.9" cy="52.6" r="19.1" fill="none" stroke="#1a1a1a" stroke-width="0.7"/>
<line x1="277.00" y1="57.10" x2="305.00" y2="57.10" stroke="#000" stroke-width="1.3" />
<path d="M312.0 57.1 L304.0 52.8 L304.0 61.4 Z" fill="#000" />
<text x="357.00" y="17.20" font-size="10.6" text-anchor="middle" textLength="69.90" lengthAdjust="spacingAndGlyphs" >Tissue staining</text>
<g filter="url(#shadow)"><path d="M331.4 34.6 L331.4 46.6 M331.4 46.1 L323.79999999999995 53.8 M331.4 46.1 L339.0 53.8" fill="none" stroke="#9c9c9c" stroke-width="3.6" stroke-linecap="round" stroke-linejoin="round"/>
<path d="M331.4 34.6 L331.4 46.6 M331.4 46.1 L323.79999999999995 53.8 M331.4 46.1 L339.0 53.8" fill="none" stroke="#f4f4f4" stroke-width="2.3" stroke-linecap="round" stroke-linejoin="round"/>
<circle cx="331.4" cy="31.6" r="4.7" fill="url(#gball)" stroke="#8a8a8a" stroke-width="0.6"/></g><text x="331.40" y="33.40" font-size="5.0" text-anchor="middle" fill="#222" font-weight="bold" >Gd</text>
<g filter="url(#shadow)"><path d="M342.1 39.9 L342.1 51.9 M342.1 51.4 L334.5 59.099999999999994 M342.1 51.4 L349.70000000000005 59.099999999999994" fill="none" stroke="#9c9c9c" stroke-width="3.6" stroke-linecap="round" stroke-linejoin="round"/>
<path d="M342.1 39.9 L342.1 51.9 M342.1 51.4 L334.5 59.099999999999994 M342.1 51.4 L349.70000000000005 59.099999999999994" fill="none" stroke="#f4f4f4" stroke-width="2.3" stroke-linecap="round" stroke-linejoin="round"/>
<circle cx="342.1" cy="36.9" r="4.7" fill="url(#gball)" stroke="#8a8a8a" stroke-width="0.6"/></g><text x="342.10" y="38.70" font-size="5.0" text-anchor="middle" fill="#222" font-weight="bold" >Eu</text>
<g filter="url(#shadow)"><path d="M353.4 45.1 L353.4 57.1 M353.4 56.6 L345.79999999999995 64.3 M353.4 56.6 L361.0 64.3" fill="none" stroke="#9c9c9c" stroke-width="3.6" stroke-linecap="round" stroke-linejoin="round"/>
<path d="M353.4 45.1 L353.4 57.1 M353.4 56.6 L345.79999999999995 64.3 M353.4 56.6 L361.0 64.3" fill="none" stroke="#f4f4f4" stroke-width="2.3" stroke-linecap="round" stroke-linejoin="round"/>
<circle cx="353.4" cy="42.1" r="4.7" fill="url(#gball)" stroke="#8a8a8a" stroke-width="0.6"/></g><text x="353.40" y="43.90" font-size="5.0" text-anchor="middle" fill="#222" font-weight="bold" >Sm</text>
<path d="M362.5 42.6 C370 42 376 45 379.5 50" fill="none" stroke="#8a8a8a" stroke-width="1.3" />
<path d="M382.6 54.2 L375.8 50.8 L381.8 47.2 Z" fill="#8a8a8a" />
<g filter="url(#shadow)"><polygon points="392.7,47.1 410.9,64.7 372.6,102.8 354.5,84.8" fill="#fff" stroke="#3a3a3a" stroke-width="0.9"/></g><polygon points="363.86,75.56 381.98,93.47 372.6,102.8 354.5,84.8" fill="#dcdcdc" stroke="#3a3a3a" stroke-width="0.9"/><circle cx="393.50" cy="55.90" r="1.85" fill="#6a3b8c"/><circle cx="397.84" cy="60.24" r="1.85" fill="#6a3b8c"/><circle cx="402.18" cy="64.58" r="1.85" fill="#6a3b8c"/><circle cx="389.16" cy="60.24" r="1.85" fill="#6a3b8c"/><circle cx="393.50" cy="64.58" r="1.85" fill="#6a3b8c"/><circle cx="397.84" cy="68.92" r="1.85" fill="#6a3b8c"/><circle cx="384.82" cy="64.58" r="1.85" fill="#6a3b8c"/><circle cx="389.16" cy="68.92" r="1.85" fill="#6a3b8c"/><circle cx="393.50" cy="73.26" r="1.85" fill="#6a3b8c"/><circle cx="380.48" cy="68.92" r="1.85" fill="#6a3b8c"/><circle cx="384.82" cy="73.26" r="1.85" fill="#6a3b8c"/><circle cx="389.16" cy="77.60" r="1.85" fill="#6a3b8c"/><circle cx="376.14" cy="73.26" r="1.85" fill="#6a3b8c"/><circle cx="380.48" cy="77.60" r="1.85" fill="#6a3b8c"/><circle cx="384.82" cy="81.94" r="1.85" fill="#6a3b8c"/><circle cx="371.80" cy="77.60" r="1.85" fill="#6a3b8c"/><circle cx="376.14" cy="81.94" r="1.85" fill="#6a3b8c"/><circle cx="380.48" cy="86.28" r="1.85" fill="#6a3b8c"/>
<line x1="361.00" y1="113.20" x2="361.00" y2="123.00" stroke="#000" stroke-width="1.3" />
<path d="M361.0 129.5 L357.2 122.0 L364.8 122.0 Z" fill="#000" />
<text x="321.50" y="143.30" font-size="10.6" text-anchor="middle" textLength="192.80" lengthAdjust="spacingAndGlyphs" >Imaging mass cytometry and processing</text>
<clipPath id="cNuc"><rect x="257" y="148.8" width="47.8" height="42"/></clipPath><rect x="257.00" y="148.80" width="47.80" height="42.00" fill="#050505" />
<g clip-path="url(#cNuc)" filter="url(#b07)"><ellipse cx="276" cy="157" rx="2.8" ry="2.3" fill="rgb(200,200,200)" transform="rotate(-25 276 157)"/><ellipse cx="292.5" cy="160" rx="3.3" ry="2.1" fill="rgb(225,225,225)" transform="rotate(-60 292.5 160)"/><ellipse cx="299" cy="158" rx="3.3" ry="1.8" fill="rgb(190,190,190)" transform="rotate(-62 299 158)"/><ellipse cx="276" cy="169" rx="2.7" ry="1.9" fill="rgb(210,210,210)" transform="rotate(-9 276 169)"/><ellipse cx="286.5" cy="166" rx="3.7" ry="1.9" fill="rgb(235,235,235)" transform="rotate(-11 286.5 166)"/><ellipse cx="265" cy="170.5" rx="3.4" ry="2.6" fill="rgb(170,170,170)" transform="rotate(-39 265 170.5)"/><ellipse cx="283.5" cy="175.5" rx="3.1" ry="2.6" fill="rgb(215,215,215)" transform="rotate(11 283.5 175.5)"/><ellipse cx="292.5" cy="177" rx="3.7" ry="2.0" fill="rgb(205,205,205)" transform="rotate(-63 292.5 177)"/><ellipse cx="299" cy="181.5" rx="2.8" ry="2.0" fill="rgb(230,230,230)" transform="rotate(-50 299 181.5)"/><ellipse cx="282" cy="183" rx="2.8" ry="2.3" fill="rgb(180,180,180)" transform="rotate(44 282 183)"/><ellipse cx="271.5" cy="157" rx="3.1" ry="2.2" fill="rgb(120,120,120)" transform="rotate(19 271.5 157)"/><ellipse cx="289.5" cy="152" rx="2.7" ry="2.0" fill="rgb(150,150,150)" transform="rotate(-61 289.5 152)"/><ellipse cx="262" cy="160" rx="3.2" ry="2.1" fill="rgb(110,110,110)" transform="rotate(25 262 160)"/><ellipse cx="268" cy="182" rx="3.2" ry="2.0" fill="rgb(130,130,130)" transform="rotate(12 268 182)"/><ellipse cx="296" cy="169" rx="3.5" ry="2.0" fill="rgb(140,140,140)" transform="rotate(41 296 169)"/><ellipse cx="262" cy="187" rx="3.3" ry="2.5" fill="rgb(90,90,90)" transform="rotate(10 262 187)"/><ellipse cx="275" cy="188" rx="3.0" ry="2.6" fill="rgb(110,110,110)" transform="rotate(32 275 188)"/><ellipse cx="302" cy="150" rx="3.1" ry="2.4" fill="rgb(120,120,120)" transform="rotate(-53 302 150)"/><ellipse cx="260" cy="151" rx="3.2" ry="1.8" fill="rgb(80,80,80)" transform="rotate(-49 260 151)"/></g>
<path d="M254.5 158 C245 157 238 162 236.3 169" fill="none" stroke="#7a7a7a" stroke-width="1.9" />
<path d="M235.6 174.6 L232.2 167 L240.4 168 Z" fill="#7a7a7a" />
<clipPath id="cSeg"><rect x="226.6" y="176.1" width="48.2" height="42.3"/></clipPath><rect x="226.60" y="176.10" width="48.20" height="42.30" fill="#3b52b6" />
<g clip-path="url(#cSeg)" filter="url(#b03)"><circle cx="239" cy="180" r="2.9" fill="#5bd84a"/><circle cx="246.8" cy="180" r="2.9" fill="#5bd84a"/><circle cx="254.5" cy="181.5" r="2.9" fill="#5bd84a"/><circle cx="270" cy="183" r="2.9" fill="#5bd84a"/><circle cx="265" cy="189" r="2.9" fill="#5bd84a"/><circle cx="240.5" cy="195" r="2.9" fill="#5bd84a"/><circle cx="248.3" cy="201" r="2.9" fill="#5bd84a"/><circle cx="260.5" cy="198" r="2.9" fill="#5bd84a"/><circle cx="266.7" cy="200" r="2.9" fill="#5bd84a"/><circle cx="243.7" cy="209" r="2.9" fill="#5bd84a"/><circle cx="254.5" cy="212" r="2.9" fill="#5bd84a"/><circle cx="263.7" cy="212" r="2.9" fill="#5bd84a"/><circle cx="270" cy="209" r="2.9" fill="#5bd84a"/><circle cx="237.5" cy="212" r="2.9" fill="#5bd84a"/><circle cx="250" cy="190.5" r="2.9" fill="#5bd84a"/><circle cx="232" cy="186" r="2.9" fill="#5bd84a"/><circle cx="257.5" cy="205" r="2.9" fill="#5bd84a"/><circle cx="246" cy="216" r="2.9" fill="#5bd84a"/><circle cx="231" cy="203" r="2.9" fill="#5bd84a"/><circle cx="268" cy="216.5" r="2.9" fill="#5bd84a"/><circle cx="239" cy="180" r="1.75" fill="#f03a18"/><circle cx="246.8" cy="180" r="1.75" fill="#f03a18"/><circle cx="254.5" cy="181.5" r="1.75" fill="#f03a18"/><circle cx="270" cy="183" r="1.75" fill="#f03a18"/><circle cx="265" cy="189" r="1.75" fill="#f03a18"/><circle cx="240.5" cy="195" r="1.75" fill="#f03a18"/><circle cx="248.3" cy="201" r="1.75" fill="#f03a18"/><circle cx="260.5" cy="198" r="1.75" fill="#f03a18"/><circle cx="266.7" cy="200" r="1.75" fill="#f03a18"/><circle cx="243.7" cy="209" r="1.75" fill="#f03a18"/><circle cx="254.5" cy="212" r="1.75" fill="#f03a18"/><circle cx="263.7" cy="212" r="1.75" fill="#f03a18"/><circle cx="270" cy="209" r="1.75" fill="#f03a18"/><circle cx="237.5" cy="212" r="1.75" fill="#f03a18"/><circle cx="250" cy="190.5" r="1.75" fill="#f03a18"/><circle cx="232" cy="186" r="1.75" fill="#f03a18"/><circle cx="257.5" cy="205" r="1.75" fill="#f03a18"/><circle cx="246" cy="216" r="1.75" fill="#f03a18"/><circle cx="231" cy="203" r="1.75" fill="#f03a18"/><circle cx="268" cy="216.5" r="1.75" fill="#f03a18"/></g>
<rect x="226.60" y="176.10" width="48.20" height="42.30" fill="none" stroke="#333" stroke-width="0.6" />
<g opacity="0.13"><clipPath id="cM1"><rect x="341.3" y="150" width="53" height="48.5"/></clipPath><rect x="341.30" y="150.00" width="53.00" height="48.50" fill="#030303" />
<g clip-path="url(#cM1)" filter="url(#b03)"><ellipse cx="353.9" cy="176.4" rx="2.0" ry="1.6" fill="#1c2fb0" transform="rotate(113 353.9 176.4)"/><ellipse cx="344.8" cy="150.6" rx="2.9" ry="1.3" fill="#1c2fb0" transform="rotate(42 344.8 150.6)"/><ellipse cx="394.1" cy="172.8" rx="2.9" ry="1.5" fill="#1c2fb0" transform="rotate(115 394.1 172.8)"/><ellipse cx="349.3" cy="180.8" rx="2.9" ry="1.5" fill="#1c2fb0" transform="rotate(133 349.3 180.8)"/><ellipse cx="376.9" cy="153.1" rx="2.7" ry="1.6" fill="#1c2fb0" transform="rotate(54 376.9 153.1)"/><ellipse cx="342.9" cy="192.0" rx="2.2" ry="1.7" fill="#1c2fb0" transform="rotate(158 342.9 192.0)"/><ellipse cx="379.1" cy="194.7" rx="2.1" ry="1.8" fill="#1c2fb0" transform="rotate(80 379.1 194.7)"/><ellipse cx="390.9" cy="192.6" rx="1.5" ry="1.1" fill="#1c2fb0" transform="rotate(39 390.9 192.6)"/><ellipse cx="392.5" cy="171.2" rx="2.5" ry="1.3" fill="#1c2fb0" transform="rotate(91 392.5 171.2)"/><ellipse cx="361.8" cy="167.0" rx="2.4" ry="1.6" fill="#1c2fb0" transform="rotate(163 361.8 167.0)"/><ellipse cx="377.4" cy="195.1" rx="2.9" ry="2.0" fill="#1c2fb0" transform="rotate(121 377.4 195.1)"/><ellipse cx="349.9" cy="191.7" rx="3.1" ry="1.9" fill="#1c2fb0" transform="rotate(102 349.9 191.7)"/><ellipse cx="379.1" cy="160.2" rx="2.9" ry="1.6" fill="#1c2fb0" transform="rotate(51 379.1 160.2)"/><ellipse cx="344.7" cy="191.4" rx="3.2" ry="1.1" fill="#1c2fb0" transform="rotate(144 344.7 191.4)"/><ellipse cx="363.1" cy="157.3" rx="1.9" ry="1.8" fill="#1c2fb0" transform="rotate(157 363.1 157.3)"/><ellipse cx="343.6" cy="179.8" rx="1.4" ry="1.7" fill="#1c2fb0" transform="rotate(60 343.6 179.8)"/><ellipse cx="388.0" cy="197.6" rx="2.3" ry="2.0" fill="#1c2fb0" transform="rotate(56 388.0 197.6)"/><ellipse cx="345.4" cy="179.1" rx="1.4" ry="1.2" fill="#1c2fb0" transform="rotate(73 345.4 179.1)"/><ellipse cx="373.7" cy="157.6" rx="1.4" ry="1.9" fill="#1c2fb0" transform="rotate(56 373.7 157.6)"/><ellipse cx="392.1" cy="193.5" rx="2.0" ry="1.5" fill="#1c2fb0" transform="rotate(94 392.1 193.5)"/><ellipse cx="375.4" cy="178.9" rx="2.4" ry="1.6" fill="#1c2fb0" transform="rotate(169 375.4 178.9)"/><ellipse cx="368.2" cy="170.9" rx="2.7" ry="1.2" fill="#1c2fb0" transform="rotate(54 368.2 170.9)"/><ellipse cx="393.1" cy="175.3" rx="2.3" ry="1.0" fill="#22c030" transform="rotate(75 393.1 175.3)"/><ellipse cx="372.0" cy="151.0" rx="2.5" ry="1.6" fill="#22c030" transform="rotate(11 372.0 151.0)"/><ellipse cx="374.5" cy="172.6" rx="2.6" ry="1.4" fill="#22c030" transform="rotate(127 374.5 172.6)"/><ellipse cx="380.4" cy="151.1" rx="1.4" ry="1.7" fill="#22c030" transform="rotate(173 380.4 151.1)"/><ellipse cx="354.6" cy="172.1" rx="2.4" ry="1.3" fill="#22c030" transform="rotate(66 354.6 172.1)"/><ellipse cx="357.9" cy="167.9" rx="2.4" ry="1.3" fill="#22c030" transform="rotate(68 357.9 167.9)"/><ellipse cx="382.2" cy="151.3" rx="2.4" ry="1.7" fill="#22c030" transform="rotate(56 382.2 151.3)"/><ellipse cx="353.1" cy="189.0" rx="1.8" ry="1.2" fill="#22c030" transform="rotate(78 353.1 189.0)"/><ellipse cx="378.3" cy="154.9" rx="1.9" ry="1.3" fill="#22c030" transform="rotate(150 378.3 154.9)"/><ellipse cx="364.5" cy="191.5" rx="1.6" ry="1.3" fill="#22c030" transform="rotate(117 364.5 191.5)"/><ellipse cx="388.2" cy="171.9" rx="1.7" ry="1.1" fill="#22c030" transform="rotate(95 388.2 171.9)"/><ellipse cx="351.4" cy="189.1" rx="2.9" ry="1.2" fill="#22c030" transform="rotate(50 351.4 189.1)"/><ellipse cx="384.1" cy="181.1" rx="2.8" ry="1.3" fill="#22c030" transform="rotate(23 384.1 181.1)"/><ellipse cx="356.8" cy="188.5" rx="1.8" ry="1.3" fill="#e02818" transform="rotate(75 356.8 188.5)"/><ellipse cx="363.5" cy="169.9" rx="3.0" ry="1.2" fill="#e02818" transform="rotate(1 363.5 169.9)"/><ellipse cx="391.3" cy="192.7" rx="3.2" ry="1.4" fill="#e02818" transform="rotate(171 391.3 192.7)"/><ellipse cx="390.5" cy="160.8" rx="2.7" ry="1.8" fill="#e02818" transform="rotate(119 390.5 160.8)"/><ellipse cx="368.8" cy="164.0" rx="1.9" ry="1.2" fill="#e02818" transform="rotate(12 368.8 164.0)"/><ellipse cx="372.5" cy="163.9" rx="2.8" ry="1.0" fill="#e02818" transform="rotate(163 372.5 163.9)"/><ellipse cx="378.1" cy="194.8" rx="3.0" ry="1.9" fill="#e02818" transform="rotate(104 378.1 194.8)"/><ellipse cx="342.0" cy="186.1" rx="1.6" ry="1.3" fill="#e02818" transform="rotate(119 342.0 186.1)"/><ellipse cx="369.1" cy="170.1" rx="3.1" ry="1.6" fill="#e02818" transform="rotate(61 369.1 170.1)"/><ellipse cx="354.7" cy="191.8" rx="2.2" ry="1.8" fill="#e02818" transform="rotate(63 354.7 191.8)"/><ellipse cx="351.8" cy="175.9" rx="2.9" ry="1.2" fill="#e02818" transform="rotate(143 351.8 175.9)"/><ellipse cx="390.2" cy="189.1" rx="2.9" ry="1.0" fill="#e8c020" transform="rotate(113 390.2 189.1)"/><ellipse cx="387.0" cy="152.4" rx="1.8" ry="1.3" fill="#e8c020" transform="rotate(95 387.0 152.4)"/><ellipse cx="363.7" cy="172.9" rx="2.8" ry="1.0" fill="#e8c020" transform="rotate(10 363.7 172.9)"/><ellipse cx="348.0" cy="156.0" rx="1.4" ry="2.0" fill="#d040d0" transform="rotate(154 348.0 156.0)"/><ellipse cx="345.9" cy="174.4" rx="1.9" ry="1.3" fill="#d040d0" transform="rotate(63 345.9 174.4)"/><ellipse cx="375.6" cy="178.5" rx="2.0" ry="1.2" fill="#d040d0" transform="rotate(59 375.6 178.5)"/></g>
</g><g opacity="0.55"><clipPath id="cM2"><rect x="331.5" y="157.7" width="53.6" height="50"/></clipPath><rect x="331.50" y="157.70" width="53.60" height="50.00" fill="#030303" />
<g clip-path="url(#cM2)" filter="url(#b03)"><ellipse cx="364.9" cy="194.8" rx="2.8" ry="1.9" fill="#1c2fb0" transform="rotate(133 364.9 194.8)"/><ellipse cx="380.9" cy="159.2" rx="2.2" ry="1.9" fill="#1c2fb0" transform="rotate(117 380.9 159.2)"/><ellipse cx="379.8" cy="163.4" rx="2.2" ry="1.2" fill="#1c2fb0" transform="rotate(98 379.8 163.4)"/><ellipse cx="362.3" cy="158.4" rx="1.7" ry="1.3" fill="#1c2fb0" transform="rotate(165 362.3 158.4)"/><ellipse cx="372.5" cy="165.7" rx="2.8" ry="1.1" fill="#1c2fb0" transform="rotate(111 372.5 165.7)"/><ellipse cx="338.3" cy="157.8" rx="3.0" ry="1.2" fill="#1c2fb0" transform="rotate(39 338.3 157.8)"/><ellipse cx="384.2" cy="201.3" rx="1.8" ry="2.0" fill="#1c2fb0" transform="rotate(97 384.2 201.3)"/><ellipse cx="367.8" cy="167.9" rx="3.1" ry="1.7" fill="#1c2fb0" transform="rotate(174 367.8 167.9)"/><ellipse cx="379.4" cy="172.6" rx="2.0" ry="1.2" fill="#1c2fb0" transform="rotate(26 379.4 172.6)"/><ellipse cx="335.0" cy="172.8" rx="2.4" ry="1.0" fill="#1c2fb0" transform="rotate(122 335.0 172.8)"/><ellipse cx="349.6" cy="173.2" rx="2.9" ry="1.5" fill="#1c2fb0" transform="rotate(57 349.6 173.2)"/><ellipse cx="357.3" cy="192.9" rx="1.4" ry="2.0" fill="#1c2fb0" transform="rotate(4 357.3 192.9)"/><ellipse cx="371.7" cy="199.9" rx="1.3" ry="1.8" fill="#1c2fb0" transform="rotate(66 371.7 199.9)"/><ellipse cx="362.5" cy="158.2" rx="1.4" ry="1.2" fill="#1c2fb0" transform="rotate(172 362.5 158.2)"/><ellipse cx="342.0" cy="195.5" rx="3.1" ry="1.9" fill="#1c2fb0" transform="rotate(62 342.0 195.5)"/><ellipse cx="350.5" cy="183.9" rx="2.8" ry="1.1" fill="#1c2fb0" transform="rotate(135 350.5 183.9)"/><ellipse cx="374.2" cy="200.7" rx="1.4" ry="1.9" fill="#1c2fb0" transform="rotate(16 374.2 200.7)"/><ellipse cx="349.8" cy="188.2" rx="3.0" ry="1.3" fill="#1c2fb0" transform="rotate(166 349.8 188.2)"/><ellipse cx="360.7" cy="173.3" rx="1.9" ry="1.2" fill="#1c2fb0" transform="rotate(14 360.7 173.3)"/><ellipse cx="339.5" cy="192.2" rx="3.2" ry="1.2" fill="#1c2fb0" transform="rotate(9 339.5 192.2)"/><ellipse cx="384.4" cy="184.4" rx="2.1" ry="1.2" fill="#1c2fb0" transform="rotate(107 384.4 184.4)"/><ellipse cx="375.8" cy="180.5" rx="2.1" ry="1.1" fill="#1c2fb0" transform="rotate(165 375.8 180.5)"/><ellipse cx="333.3" cy="182.4" rx="2.9" ry="1.1" fill="#22c030" transform="rotate(132 333.3 182.4)"/><ellipse cx="382.4" cy="189.2" rx="2.8" ry="1.1" fill="#22c030" transform="rotate(78 382.4 189.2)"/><ellipse cx="339.5" cy="199.9" rx="1.9" ry="1.5" fill="#22c030" transform="rotate(180 339.5 199.9)"/><ellipse cx="377.2" cy="206.5" rx="2.2" ry="1.5" fill="#22c030" transform="rotate(131 377.2 206.5)"/><ellipse cx="357.2" cy="172.3" rx="2.1" ry="1.1" fill="#22c030" transform="rotate(68 357.2 172.3)"/><ellipse cx="384.5" cy="205.7" rx="2.5" ry="1.5" fill="#22c030" transform="rotate(61 384.5 205.7)"/><ellipse cx="336.3" cy="171.3" rx="2.8" ry="1.9" fill="#22c030" transform="rotate(65 336.3 171.3)"/><ellipse cx="373.6" cy="196.4" rx="2.6" ry="1.7" fill="#22c030" transform="rotate(137 373.6 196.4)"/><ellipse cx="351.0" cy="192.9" rx="1.8" ry="1.5" fill="#22c030" transform="rotate(139 351.0 192.9)"/><ellipse cx="368.5" cy="172.4" rx="3.1" ry="1.6" fill="#22c030" transform="rotate(105 368.5 172.4)"/><ellipse cx="332.1" cy="185.0" rx="1.8" ry="1.7" fill="#22c030" transform="rotate(83 332.1 185.0)"/><ellipse cx="375.3" cy="190.1" rx="2.8" ry="1.3" fill="#22c030" transform="rotate(116 375.3 190.1)"/><ellipse cx="371.0" cy="199.1" rx="2.0" ry="1.8" fill="#22c030" transform="rotate(157 371.0 199.1)"/><ellipse cx="368.4" cy="206.5" rx="3.1" ry="1.5" fill="#e02818" transform="rotate(95 368.4 206.5)"/><ellipse cx="340.4" cy="199.5" rx="3.1" ry="1.5" fill="#e02818" transform="rotate(124 340.4 199.5)"/><ellipse cx="370.1" cy="194.2" rx="1.6" ry="1.8" fill="#e02818" transform="rotate(105 370.1 194.2)"/><ellipse cx="367.2" cy="178.7" rx="2.5" ry="1.8" fill="#e02818" transform="rotate(115 367.2 178.7)"/><ellipse cx="370.1" cy="159.1" rx="1.6" ry="1.4" fill="#e02818" transform="rotate(117 370.1 159.1)"/><ellipse cx="343.2" cy="192.0" rx="2.5" ry="1.0" fill="#e02818" transform="rotate(85 343.2 192.0)"/><ellipse cx="343.6" cy="160.4" rx="1.6" ry="1.3" fill="#e02818" transform="rotate(33 343.6 160.4)"/><ellipse cx="341.9" cy="159.5" rx="2.2" ry="1.4" fill="#e02818" transform="rotate(110 341.9 159.5)"/><ellipse cx="363.1" cy="169.6" rx="3.0" ry="1.0" fill="#e02818" transform="rotate(73 363.1 169.6)"/><ellipse cx="346.4" cy="178.2" rx="1.5" ry="1.8" fill="#e02818" transform="rotate(67 346.4 178.2)"/><ellipse cx="333.4" cy="188.4" rx="1.5" ry="1.5" fill="#e02818" transform="rotate(61 333.4 188.4)"/><ellipse cx="362.6" cy="205.6" rx="2.9" ry="1.4" fill="#e8c020" transform="rotate(146 362.6 205.6)"/><ellipse cx="365.9" cy="176.2" rx="1.6" ry="1.6" fill="#e8c020" transform="rotate(101 365.9 176.2)"/><ellipse cx="382.8" cy="206.1" rx="2.5" ry="1.4" fill="#e8c020" transform="rotate(161 382.8 206.1)"/><ellipse cx="331.6" cy="163.1" rx="2.4" ry="1.6" fill="#d040d0" transform="rotate(25 331.6 163.1)"/><ellipse cx="365.2" cy="202.3" rx="2.0" ry="1.4" fill="#d040d0" transform="rotate(41 365.2 202.3)"/><ellipse cx="347.1" cy="206.3" rx="2.0" ry="2.0" fill="#d040d0" transform="rotate(164 347.1 206.3)"/></g>
<rect x="331.50" y="157.70" width="53.60" height="50.00" fill="#aaa" opacity="0.5"/>
</g><clipPath id="cM3"><rect x="321.7" y="165.7" width="54.8" height="49.7"/></clipPath><rect x="321.70" y="165.70" width="54.80" height="49.70" fill="#030303" />
<g clip-path="url(#cM3)" filter="url(#b03)"><ellipse cx="347.1" cy="184.3" rx="1.6" ry="1.9" fill="#1c2fb0" transform="rotate(1 347.1 184.3)"/><ellipse cx="349.3" cy="210.3" rx="1.5" ry="1.6" fill="#1c2fb0" transform="rotate(111 349.3 210.3)"/><ellipse cx="323.9" cy="184.5" rx="2.6" ry="1.5" fill="#1c2fb0" transform="rotate(131 323.9 184.5)"/><ellipse cx="330.3" cy="177.5" rx="1.5" ry="1.5" fill="#1c2fb0" transform="rotate(166 330.3 177.5)"/><ellipse cx="354.1" cy="204.2" rx="2.0" ry="1.7" fill="#1c2fb0" transform="rotate(18 354.1 204.2)"/><ellipse cx="337.7" cy="199.2" rx="2.7" ry="1.4" fill="#1c2fb0" transform="rotate(16 337.7 199.2)"/><ellipse cx="336.3" cy="176.1" rx="1.8" ry="1.8" fill="#1c2fb0" transform="rotate(36 336.3 176.1)"/><ellipse cx="370.3" cy="209.4" rx="1.4" ry="1.4" fill="#1c2fb0" transform="rotate(89 370.3 209.4)"/><ellipse cx="323.0" cy="186.8" rx="3.0" ry="1.1" fill="#1c2fb0" transform="rotate(107 323.0 186.8)"/><ellipse cx="328.3" cy="194.5" rx="3.0" ry="1.2" fill="#1c2fb0" transform="rotate(1 328.3 194.5)"/><ellipse cx="326.3" cy="192.5" rx="1.3" ry="1.1" fill="#1c2fb0" transform="rotate(89 326.3 192.5)"/><ellipse cx="372.2" cy="186.6" rx="2.1" ry="1.6" fill="#1c2fb0" transform="rotate(17 372.2 186.6)"/><ellipse cx="353.5" cy="174.3" rx="2.5" ry="2.0" fill="#1c2fb0" transform="rotate(10 353.5 174.3)"/><ellipse cx="352.1" cy="195.8" rx="1.6" ry="1.3" fill="#1c2fb0" transform="rotate(179 352.1 195.8)"/><ellipse cx="376.4" cy="171.7" rx="2.6" ry="2.0" fill="#1c2fb0" transform="rotate(43 376.4 171.7)"/><ellipse cx="355.2" cy="167.8" rx="2.0" ry="1.7" fill="#1c2fb0" transform="rotate(106 355.2 167.8)"/><ellipse cx="364.1" cy="170.0" rx="2.0" ry="1.9" fill="#1c2fb0" transform="rotate(105 364.1 170.0)"/><ellipse cx="346.4" cy="185.7" rx="3.2" ry="1.6" fill="#1c2fb0" transform="rotate(3 346.4 185.7)"/><ellipse cx="365.5" cy="182.0" rx="2.1" ry="1.2" fill="#1c2fb0" transform="rotate(80 365.5 182.0)"/><ellipse cx="339.5" cy="170.1" rx="2.5" ry="1.1" fill="#1c2fb0" transform="rotate(141 339.5 170.1)"/><ellipse cx="323.1" cy="204.5" rx="2.8" ry="1.5" fill="#1c2fb0" transform="rotate(128 323.1 204.5)"/><ellipse cx="335.3" cy="202.4" rx="2.1" ry="1.2" fill="#1c2fb0" transform="rotate(174 335.3 202.4)"/><ellipse cx="343.7" cy="184.2" rx="2.9" ry="1.4" fill="#22c030" transform="rotate(120 343.7 184.2)"/><ellipse cx="331.1" cy="207.6" rx="1.8" ry="1.1" fill="#22c030" transform="rotate(176 331.1 207.6)"/><ellipse cx="331.2" cy="212.7" rx="3.2" ry="1.6" fill="#22c030" transform="rotate(2 331.2 212.7)"/><ellipse cx="325.0" cy="176.1" rx="2.0" ry="1.6" fill="#22c030" transform="rotate(174 325.0 176.1)"/><ellipse cx="341.1" cy="172.7" rx="2.4" ry="1.1" fill="#22c030" transform="rotate(16 341.1 172.7)"/><ellipse cx="352.2" cy="200.3" rx="1.4" ry="1.5" fill="#22c030" transform="rotate(127 352.2 200.3)"/><ellipse cx="363.6" cy="184.7" rx="3.0" ry="1.2" fill="#22c030" transform="rotate(129 363.6 184.7)"/><ellipse cx="364.0" cy="209.4" rx="2.2" ry="1.1" fill="#22c030" transform="rotate(9 364.0 209.4)"/><ellipse cx="350.7" cy="174.3" rx="2.5" ry="1.1" fill="#22c030" transform="rotate(140 350.7 174.3)"/><ellipse cx="333.9" cy="166.3" rx="1.6" ry="1.5" fill="#22c030" transform="rotate(101 333.9 166.3)"/><ellipse cx="343.0" cy="174.3" rx="2.2" ry="1.9" fill="#22c030" transform="rotate(96 343.0 174.3)"/><ellipse cx="373.3" cy="167.1" rx="3.2" ry="1.9" fill="#22c030" transform="rotate(98 373.3 167.1)"/><ellipse cx="350.4" cy="192.4" rx="3.0" ry="1.1" fill="#22c030" transform="rotate(116 350.4 192.4)"/><ellipse cx="351.4" cy="180.6" rx="2.7" ry="1.7" fill="#e02818" transform="rotate(19 351.4 180.6)"/><ellipse cx="360.0" cy="188.2" rx="2.2" ry="1.6" fill="#e02818" transform="rotate(10 360.0 188.2)"/><ellipse cx="354.7" cy="184.2" rx="3.0" ry="1.2" fill="#e02818" transform="rotate(148 354.7 184.2)"/><ellipse cx="361.7" cy="196.8" rx="3.0" ry="1.0" fill="#e02818" transform="rotate(107 361.7 196.8)"/><ellipse cx="355.3" cy="199.4" rx="2.1" ry="1.1" fill="#e02818" transform="rotate(34 355.3 199.4)"/><ellipse cx="355.0" cy="174.7" rx="1.4" ry="1.4" fill="#e02818" transform="rotate(85 355.0 174.7)"/><ellipse cx="351.0" cy="167.0" rx="2.8" ry="1.3" fill="#e02818" transform="rotate(141 351.0 167.0)"/><ellipse cx="322.2" cy="213.1" rx="2.4" ry="2.0" fill="#e02818" transform="rotate(178 322.2 213.1)"/><ellipse cx="367.3" cy="171.0" rx="2.0" ry="1.2" fill="#e02818" transform="rotate(140 367.3 171.0)"/><ellipse cx="332.2" cy="176.7" rx="1.5" ry="1.1" fill="#e02818" transform="rotate(169 332.2 176.7)"/><ellipse cx="375.2" cy="184.2" rx="2.7" ry="1.5" fill="#e02818" transform="rotate(94 375.2 184.2)"/><ellipse cx="341.9" cy="197.2" rx="1.7" ry="1.3" fill="#e8c020" transform="rotate(93 341.9 197.2)"/><ellipse cx="332.5" cy="187.5" rx="3.1" ry="1.0" fill="#e8c020" transform="rotate(19 332.5 187.5)"/><ellipse cx="365.5" cy="168.6" rx="1.8" ry="1.9" fill="#e8c020" transform="rotate(109 365.5 168.6)"/><ellipse cx="333.8" cy="168.6" rx="1.8" ry="1.3" fill="#d040d0" transform="rotate(144 333.8 168.6)"/><ellipse cx="375.2" cy="204.8" rx="3.0" ry="1.9" fill="#d040d0" transform="rotate(158 375.2 204.8)"/><ellipse cx="372.1" cy="213.8" rx="1.5" ry="1.3" fill="#d040d0" transform="rotate(44 372.1 213.8)"/></g>
<path d="M352.5 177 C355 173.5 360 174.5 361.5 178 C363.5 182.5 361 187.5 357.5 186.5 C353.5 185.5 350.5 181 352.5 177Z" fill="#fff" stroke="#e03020" stroke-width="0.9" />
<path d="M355.5 179.5 C357 178.5 358.5 180 357.5 182" fill="none" stroke="#e03020" stroke-width="0.6" />
<rect x="321.70" y="165.70" width="54.80" height="49.70" fill="none" stroke="#f4f4f4" stroke-width="1.0" />
<line x1="207.70" y1="180.70" x2="181.00" y2="180.70" stroke="#000" stroke-width="1.3" />
<path d="M174.0 180.7 L182.0 176.4 L182.0 185.0 Z" fill="#000" />
<rect x="18.40" y="144.60" width="62.30" height="58.80" fill="#f5dcc4" filter="url(#spat)"/>
<g fill="#5a3aa8"><ellipse cx="47" cy="148" rx="3.5" ry="1.1" transform="rotate(-30 47 148)"/><ellipse cx="51" cy="150" rx="2.5" ry="0.9" transform="rotate(-20 51 150)"/><ellipse cx="58" cy="158" rx="3.0" ry="0.9" transform="rotate(15 58 158)"/><ellipse cx="64" cy="160" rx="1.5" ry="0.75" transform="rotate(10 64 160)"/><ellipse cx="33" cy="183" rx="4.0" ry="1.0" transform="rotate(-25 33 183)"/><ellipse cx="41" cy="181" rx="1.5" ry="0.75" transform="rotate(-20 41 181)"/><ellipse cx="76" cy="162" rx="1.25" ry="1.5" transform="rotate(0 76 162)"/><ellipse cx="48" cy="170" rx="1.0" ry="0.75" transform="rotate(0 48 170)"/><ellipse cx="50" cy="195" rx="1.5" ry="0.75" transform="rotate(0 50 195)"/><ellipse cx="62" cy="198" rx="1.0" ry="0.75" transform="rotate(0 62 198)"/></g><rect x="18.40" y="144.60" width="62.30" height="58.80" fill="none" stroke="#666" stroke-width="0.8" />
<g clip-path="url(#cUm)"><g filter="url(#b12)"><path d="M96 172 C95 162 101 156 108 157 C114 151 128 150 134 158 C141 163 145 172 141 181 C138 188 132 190 127 193 C121 198 112 201 105 199 C100 197 102 192 99 188 C96 183 96 178 96 172Z" fill="#e3d6f0" />
<path d="M103 195 C108 191 118 191 121 196 C117 201 107 201 103 195Z" fill="#e6d9f1" />
<path d="M110 160 C114 152 124 149 132 153 C139 158 141 168 138 176 C134 184 128 186 126 178 C124 169 115 168 110 160Z" fill="#f5dcc8" />
<path d="M124 152 C128 150 132 153 133 160 C134 170 132 178 129 184 C126 178 127 162 124 152Z" fill="#f2d2b6" />
<path d="M126 181 C130 179 134 183 133 189 C130 193 126 191 126 181Z" fill="#e0e0e0" />
<path d="M113 153 C115 149 124 149 126 152 C122 155 116 156 113 153Z" fill="#e8f3a8" />
<path d="M126 147 C128 145 131 146 131 151 C130 155 127 153 126 147Z" fill="#aee296" />
<path d="M105 160 C107 157.5 111 157.5 112 160 C110 162.5 106 162.5 105 160Z" fill="#cf9c68" />
<path d="M139.5 176 C141.5 174 144.5 176 144 181 C143.5 185 141 186 140 182Z" fill="#f08088" />
<path d="M143.5 173 C146.5 170.5 151 172.5 151 176.5 C150.5 180.5 146.5 181.5 144 179Z" fill="#7c50bc" />
</g><g filter="url(#b07)"><path d="M145.5 174 C148 172.5 150.3 174 150.2 176.7 C149.8 179.3 147 180 145.5 178.2Z" fill="#6334a8" />
<circle cx="146.6" cy="171.2" r="1.0" fill="#66d0ee"/></g></g><path d="M91.3 141 L91.3 204.1 L155.8 204.1" fill="none" stroke="#666" stroke-width="0.7" />
<text x="89.90" y="172.80" font-size="4.0" text-anchor="middle" fill="#333" transform="rotate(-90 89.90 172.80)" >UMAP2</text>
<text x="124.20" y="208.90" font-size="4.0" text-anchor="middle" fill="#333" >UMAP1</text>
<text x="15.30" y="221.00" font-size="10.5" textLength="146.50" lengthAdjust="spacingAndGlyphs" >Single cell and spatial analyses</text>
</g>
<g id="panelB">
<text x="422.50" y="17.80" font-size="19" >B</text>
<text x="493.40" y="8.00" font-size="9.3" text-anchor="middle" textLength="35.00" lengthAdjust="spacingAndGlyphs" >Antoni A</text>
<text x="604.50" y="8.00" font-size="9.3" text-anchor="middle" textLength="35.00" lengthAdjust="spacingAndGlyphs" >Antoni B</text>
<text x="438.60" y="67.40" font-size="9.2" text-anchor="middle" textLength="16.70" lengthAdjust="spacingAndGlyphs" transform="rotate(-90 438.60 67.40)" >H&amp;E</text>
<text x="438.60" y="176.40" font-size="9.2" text-anchor="middle" textLength="53.00" lengthAdjust="spacingAndGlyphs" transform="rotate(-90 438.60 176.40)" >IMC Imaging</text>
<rect x="442.60" y="10.60" width="220.80" height="221.00" fill="#b9b9b9" />
<rect x="443.50" y="11.50" width="108.50" height="108.50" fill="#8a3fa0" filter="url(#heA)"/>
<g clip-path="url(#cB1)"><path d="M471 51 C476 40 486 31 498 24" fill="none" stroke="#e8305a" stroke-width="1.6" stroke-linecap="round"/>
<path d="M484 33 C490 28 495 25 499 24 L497 28 Z" fill="#fff" stroke="#fbd" stroke-width="0.6" />
<line x1="534.50" y1="112.80" x2="545.00" y2="112.80" stroke="#fff" stroke-width="1.4" />
</g><rect x="554.00" y="11.50" width="108.80" height="108.50" fill="#d8a8da" filter="url(#heB)"/>
<g clip-path="url(#cB2)"><path d="M626 77 C631 78 637 80 644 84 C637 84 631 82 626 77Z" fill="#d9607a" stroke="#8d3d88" stroke-width="0.9" />
<path d="M590 118 C594 112 598 106 602 102 C600 109 596 115 590 118Z" fill="#e8a0b0" stroke="#a04890" stroke-width="0.9" />
<line x1="645.50" y1="112.50" x2="656.00" y2="112.50" stroke="#fff" stroke-width="1.4" />
</g><rect x="443.50" y="122.50" width="108.50" height="108.30" fill="#2a0a68" filter="url(#imcA)"/>
<g clip-path="url(#cB3)"><ellipse cx="466" cy="204" rx="24" ry="21" fill="#5a30e6" opacity="0.33" filter="url(#blur5)"/><ellipse cx="524" cy="178" rx="17" ry="24" fill="#5a30e6" opacity="0.25" filter="url(#blur5)"/><ellipse cx="454" cy="136" rx="15" ry="13" fill="#08021e" opacity="0.5" filter="url(#blur5)"/><path d="M498 124 C488 150 486 170 494 190 C500 205 508 218 512 232" fill="none" stroke="#08021e" stroke-width="7" opacity="0.45" filter="url(#blur2)"/><path d="M470 163 C474 152 484 143 497 134 C500 133 499 138 496 140 C487 145 478 153 472 164Z" fill="#0a0220" stroke="#45e0c5" stroke-width="1.1" />
<line x1="535.00" y1="223.30" x2="546.00" y2="223.30" stroke="#fff" stroke-width="1.4" />
</g><rect x="554.00" y="122.50" width="108.80" height="108.30" fill="#4a1270" filter="url(#imcB)"/>
<g clip-path="url(#cB4)"><ellipse cx="618" cy="172" rx="16" ry="9" fill="#0a0218" opacity="0.75" filter="url(#blur2)"/><path d="M622 189 C628 187 636 189 642 193 C645 194 646 195 644 195 C636 197 627 195 622 189Z" fill="#0a0220" stroke="#55e6d0" stroke-width="1.3" />
<path d="M590 229 C591 224 596 219 600 217 C600 222 597 227 592 230Z" fill="#0a0220" stroke="#55e6d0" stroke-width="1.3" />
<line x1="645.50" y1="223.00" x2="656.50" y2="223.00" stroke="#fff" stroke-width="1.4" />
<text x="651.30" y="230.00" font-size="6.2" text-anchor="middle" fill="#fff" textLength="19.50" lengthAdjust="spacingAndGlyphs" >100 um</text>
</g><rect x="443.50" y="11.50" width="108.50" height="108.50" fill="none" stroke="#111" stroke-width="0.9" />
<rect x="554.00" y="11.50" width="108.80" height="108.50" fill="none" stroke="#111" stroke-width="0.9" />
<rect x="443.50" y="122.50" width="108.50" height="108.30" fill="none" stroke="#111" stroke-width="0.9" />
<rect x="554.00" y="122.50" width="108.80" height="108.30" fill="none" stroke="#111" stroke-width="0.9" />
<rect x="479.30" y="232.20" width="142.70" height="11.20" fill="#1c1a1a" />
<text x="481.20" y="241.60" font-size="9.6" fill="#5a38e8" textLength="28.50" lengthAdjust="spacingAndGlyphs" >S100B</text>
<text x="513.50" y="241.60" font-size="9.6" fill="#e0282a" textLength="18.50" lengthAdjust="spacingAndGlyphs" >Iba1</text>
<text x="537.20" y="241.60" font-size="9.6" fill="#2fc23c" textLength="18.00" lengthAdjust="spacingAndGlyphs" >CD8</text>
<text x="560.00" y="241.60" font-size="9.6" fill="#fff" textLength="22.50" lengthAdjust="spacingAndGlyphs" >Ki-67</text>
<text x="587.30" y="241.60" font-size="9.6" fill="#4fe0cd" textLength="21.00" lengthAdjust="spacingAndGlyphs" >SMA</text>
</g>
<g id="panelDE">
<text x="2.50" y="592.10" font-size="19" >D</text>
<text x="296.30" y="592.10" font-size="19" >E</text>
<text x="80.60" y="608.90" font-size="10.4" text-anchor="middle" textLength="102.40" lengthAdjust="spacingAndGlyphs" >PD-L1+ Schwann cells</text>
<text x="22.30" y="698.00" font-size="9.2" text-anchor="middle" textLength="118.00" lengthAdjust="spacingAndGlyphs" transform="rotate(-90 22.30 698.00)" >Case-averaged cells per mm²</text>
<rect x="65.80" y="726.90" width="27.60" height="33.10" fill="#7a3a9e" />
<rect x="68.20" y="729.30" width="22.80" height="30.70" fill="#c79ad6" />
<rect x="105.40" y="757.20" width="26.40" height="2.80" fill="#c3d43a" />
<line x1="79.60" y1="691.70" x2="79.60" y2="726.90" stroke="#7a3a9e" stroke-width="0.9" />
<line x1="74.00" y1="691.70" x2="85.90" y2="691.70" stroke="#7a3a9e" stroke-width="0.9" />
<line x1="52.70" y1="621.40" x2="52.70" y2="760.75" stroke="#000" stroke-width="1.5" />
<line x1="47.70" y1="760.00" x2="145.60" y2="760.00" stroke="#000" stroke-width="1.5" />
<line x1="47.50" y1="622.70" x2="52.70" y2="622.70" stroke="#000" stroke-width="1.3" />
<text x="46.00" y="626.10" font-size="9.4" text-anchor="end" >4000</text>
<line x1="47.50" y1="657.30" x2="52.70" y2="657.30" stroke="#000" stroke-width="1.3" />
<text x="46.00" y="660.70" font-size="9.4" text-anchor="end" >3000</text>
<line x1="47.50" y1="691.70" x2="52.70" y2="691.70" stroke="#000" stroke-width="1.3" />
<text x="46.00" y="695.10" font-size="9.4" text-anchor="end" >2000</text>
<line x1="47.50" y1="725.90" x2="52.70" y2="725.90" stroke="#000" stroke-width="1.3" />
<text x="46.00" y="729.30" font-size="9.4" text-anchor="end" >1000</text>
<line x1="47.50" y1="760.00" x2="52.70" y2="760.00" stroke="#000" stroke-width="1.3" />
<text x="46.00" y="763.40" font-size="9.4" text-anchor="end" >0</text>
<line x1="79.60" y1="760.00" x2="79.60" y2="763.60" stroke="#000" stroke-width="1.3" />
<line x1="118.50" y1="760.00" x2="118.50" y2="763.60" stroke="#000" stroke-width="1.3" />
<path d="M79.6 654.8 L79.6 648.6 L118.5 648.6 L118.5 752" fill="none" stroke="#000" stroke-width="1.5" />
<text x="78.60" y="641.50" font-size="9.3" textLength="38.90" lengthAdjust="spacingAndGlyphs"><tspan font-style="italic">p</tspan>=0.0365</text>
<text x="76.45" y="772.10" font-size="9.7" text-anchor="middle" textLength="36.50" lengthAdjust="spacingAndGlyphs" >Antoni A</text>
<text x="121.80" y="772.10" font-size="9.7" text-anchor="middle" textLength="37.60" lengthAdjust="spacingAndGlyphs" >Antoni B</text>
<path d="M75.3 659.6 L77.8 662.1 L75.3 664.6 L72.8 662.1Z" fill="#7a3a9e"/><path d="M75.3 661.2 L76.2 662.1 L75.3 663.0 L74.4 662.1Z" fill="#caa5e0"/><path d="M83.6 658.9 L86.1 661.4 L83.6 663.9 L81.0 661.4Z" fill="#7a3a9e"/><path d="M83.6 660.5 L84.5 661.4 L83.6 662.3 L82.7 661.4Z" fill="#caa5e0"/><path d="M79.6 689.2 L82.1 691.7 L79.6 694.2 L77.0 691.7Z" fill="#7a3a9e"/><path d="M79.6 690.8 L80.5 691.7 L79.6 692.6 L78.7 691.7Z" fill="#caa5e0"/><path d="M75.3 715.6 L77.8 718.1 L75.3 720.6 L72.8 718.1Z" fill="#7a3a9e"/><path d="M75.3 717.2 L76.2 718.1 L75.3 719.0 L74.4 718.1Z" fill="#caa5e0"/><path d="M83.6 711.8 L86.1 714.3 L83.6 716.8 L81.0 714.3Z" fill="#7a3a9e"/><path d="M83.6 713.4 L84.5 714.3 L83.6 715.2 L82.7 714.3Z" fill="#caa5e0"/><path d="M79.6 723.6 L82.1 726.1 L79.6 728.6 L77.0 726.1Z" fill="#7a3a9e"/><path d="M79.6 725.2 L80.5 726.1 L79.6 727.0 L78.7 726.1Z" fill="#caa5e0"/><path d="M83.6 747.5 L86.1 750.0 L83.6 752.5 L81.0 750.0Z" fill="#7a3a9e"/><path d="M83.6 749.1 L84.5 750.0 L83.6 750.9 L82.7 750.0Z" fill="#caa5e0"/><path d="M75.3 750.8 L77.8 753.3 L75.3 755.8 L72.8 753.3Z" fill="#7a3a9e"/><path d="M75.3 752.4 L76.2 753.3 L75.3 754.2 L74.4 753.3Z" fill="#caa5e0"/><path d="M68.3 755.8 L70.8 758.3 L68.3 760.8 L65.8 758.3Z" fill="#7a3a9e"/><path d="M68.3 757.4 L69.2 758.3 L68.3 759.2 L67.4 758.3Z" fill="#caa5e0"/><path d="M74.1 755.0 L76.6 757.5 L74.1 760.0 L71.5 757.5Z" fill="#7a3a9e"/><path d="M74.1 756.6 L75.0 757.5 L74.1 758.4 L73.2 757.5Z" fill="#caa5e0"/><path d="M79.6 755.8 L82.1 758.3 L79.6 760.8 L77.0 758.3Z" fill="#7a3a9e"/><path d="M79.6 757.4 L80.5 758.3 L79.6 759.2 L78.7 758.3Z" fill="#caa5e0"/><path d="M85.4 755.8 L88.0 758.3 L85.4 760.8 L82.9 758.3Z" fill="#7a3a9e"/><path d="M85.4 757.4 L86.3 758.3 L85.4 759.2 L84.5 758.3Z" fill="#caa5e0"/><path d="M90.4 755.8 L93.0 758.3 L90.4 760.8 L87.9 758.3Z" fill="#7a3a9e"/><path d="M90.4 757.4 L91.3 758.3 L90.4 759.2 L89.5 758.3Z" fill="#caa5e0"/><path d="M106.7 755.8 L109.2 758.3 L106.7 760.8 L104.2 758.3Z" fill="#c3d43a"/><path d="M106.7 757.4 L107.6 758.3 L106.7 759.2 L105.8 758.3Z" fill="#f6ff9a"/><path d="M114.2 752.8 L116.8 755.3 L114.2 757.8 L111.7 755.3Z" fill="#c3d43a"/><path d="M114.2 754.4 L115.1 755.3 L114.2 756.2 L113.3 755.3Z" fill="#f6ff9a"/><path d="M118.5 755.0 L121.0 757.5 L118.5 760.0 L116.0 757.5Z" fill="#c3d43a"/><path d="M118.5 756.6 L119.4 757.5 L118.5 758.4 L117.6 757.5Z" fill="#f6ff9a"/><path d="M123.0 752.0 L125.5 754.5 L123.0 757.0 L120.5 754.5Z" fill="#c3d43a"/><path d="M123.0 753.6 L123.9 754.5 L123.0 755.4 L122.1 754.5Z" fill="#f6ff9a"/><path d="M129.3 755.8 L131.9 758.3 L129.3 760.8 L126.8 758.3Z" fill="#c3d43a"/><path d="M129.3 757.4 L130.2 758.3 L129.3 759.2 L128.4 758.3Z" fill="#f6ff9a"/>
<text x="225.05" y="596.80" font-size="10.4" text-anchor="middle" textLength="57.30" lengthAdjust="spacingAndGlyphs" >Proliferative</text>
<text x="225.35" y="608.10" font-size="10.4" text-anchor="middle" textLength="102.90" lengthAdjust="spacingAndGlyphs" >PD-L1+ Schwann cells</text>
<text x="172.30" y="692.35" font-size="9.2" text-anchor="middle" textLength="129.30" lengthAdjust="spacingAndGlyphs" transform="rotate(-90 172.30 692.35)" >Case-averaged cells per mm²</text>
<rect x="202.70" y="733.20" width="26.40" height="25.30" fill="#7a3a9e" />
<rect x="205.10" y="735.60" width="21.60" height="22.90" fill="#c79ad6" />
<rect x="239.10" y="752.50" width="26.40" height="6.00" fill="#c3d43a" />
<rect x="241.50" y="754.90" width="21.60" height="3.60" fill="#f2f7a6" />
<line x1="215.80" y1="696.30" x2="215.80" y2="733.20" stroke="#7a3a9e" stroke-width="0.9" />
<line x1="209.80" y1="696.30" x2="222.30" y2="696.30" stroke="#7a3a9e" stroke-width="0.9" />
<line x1="252.40" y1="740.20" x2="252.40" y2="752.50" stroke="#c3d43a" stroke-width="0.9" />
<line x1="245.40" y1="740.20" x2="258.50" y2="740.20" stroke="#c3d43a" stroke-width="0.9" />
<line x1="191.40" y1="630.20" x2="191.40" y2="759.25" stroke="#000" stroke-width="1.5" />
<line x1="187.20" y1="758.50" x2="278.00" y2="758.50" stroke="#000" stroke-width="1.5" />
<line x1="186.20" y1="631.70" x2="191.40" y2="631.70" stroke="#000" stroke-width="1.3" />
<text x="185.10" y="635.10" font-size="9.4" text-anchor="end" >40</text>
<line x1="186.20" y1="663.60" x2="191.40" y2="663.60" stroke="#000" stroke-width="1.3" />
<text x="185.10" y="667.00" font-size="9.4" text-anchor="end" >30</text>
<line x1="186.20" y1="695.30" x2="191.40" y2="695.30" stroke="#000" stroke-width="1.3" />
<text x="185.10" y="698.70" font-size="9.4" text-anchor="end" >20</text>
<line x1="186.20" y1="727.10" x2="191.40" y2="727.10" stroke="#000" stroke-width="1.3" />
<text x="185.10" y="730.50" font-size="9.4" text-anchor="end" >10</text>
<line x1="186.20" y1="758.50" x2="191.40" y2="758.50" stroke="#000" stroke-width="1.3" />
<text x="185.10" y="761.90" font-size="9.4" text-anchor="end" >0</text>
<line x1="215.80" y1="758.50" x2="215.80" y2="762.10" stroke="#000" stroke-width="1.3" />
<line x1="252.40" y1="758.50" x2="252.40" y2="762.10" stroke="#000" stroke-width="1.3" />
<path d="M215.8 632.2 L215.8 627 L252.4 627 L252.4 718.6" fill="none" stroke="#000" stroke-width="1.5" />
<text x="214.80" y="622.20" font-size="9.3" textLength="38.90" lengthAdjust="spacingAndGlyphs"><tspan font-style="italic">p</tspan>=0.0247</text>
<text x="212.50" y="771.30" font-size="9.7" text-anchor="middle" textLength="35.60" lengthAdjust="spacingAndGlyphs" >Antoni A</text>
<text x="257.70" y="771.30" font-size="9.7" text-anchor="middle" textLength="37.20" lengthAdjust="spacingAndGlyphs" >Antoni B</text>
<path d="M215.8 635.8 L218.4 638.3 L215.8 640.8 L213.2 638.3Z" fill="#7a3a9e"/><path d="M215.8 637.4 L216.7 638.3 L215.8 639.2 L214.9 638.3Z" fill="#caa5e0"/><path d="M215.8 677.9 L218.4 680.4 L215.8 682.9 L213.2 680.4Z" fill="#7a3a9e"/><path d="M215.8 679.5 L216.7 680.4 L215.8 681.3 L214.9 680.4Z" fill="#caa5e0"/><path d="M215.8 701.8 L218.4 704.3 L215.8 706.8 L213.2 704.3Z" fill="#7a3a9e"/><path d="M215.8 703.4 L216.7 704.3 L215.8 705.2 L214.9 704.3Z" fill="#caa5e0"/><path d="M215.8 719.4 L218.4 721.9 L215.8 724.4 L213.2 721.9Z" fill="#7a3a9e"/><path d="M215.8 721.0 L216.7 721.9 L215.8 722.8 L214.9 721.9Z" fill="#caa5e0"/><path d="M215.8 747.5 L218.4 750.0 L215.8 752.5 L213.2 750.0Z" fill="#7a3a9e"/><path d="M215.8 749.1 L216.7 750.0 L215.8 750.9 L214.9 750.0Z" fill="#caa5e0"/><path d="M209.0 750.0 L211.6 752.5 L209.0 755.0 L206.4 752.5Z" fill="#7a3a9e"/><path d="M209.0 751.6 L209.9 752.5 L209.0 753.4 L208.1 752.5Z" fill="#caa5e0"/><path d="M222.3 750.8 L224.9 753.3 L222.3 755.8 L219.8 753.3Z" fill="#7a3a9e"/><path d="M222.3 752.4 L223.2 753.3 L222.3 754.2 L221.4 753.3Z" fill="#caa5e0"/><path d="M211.5 753.0 L214.1 755.5 L211.5 758.0 L208.9 755.5Z" fill="#7a3a9e"/><path d="M211.5 754.6 L212.4 755.5 L211.5 756.4 L210.6 755.5Z" fill="#caa5e0"/><path d="M219.8 753.0 L222.4 755.5 L219.8 758.0 L217.2 755.5Z" fill="#7a3a9e"/><path d="M219.8 754.6 L220.7 755.5 L219.8 756.4 L218.9 755.5Z" fill="#caa5e0"/><path d="M215.8 753.8 L218.4 756.3 L215.8 758.8 L213.2 756.3Z" fill="#7a3a9e"/><path d="M215.8 755.4 L216.7 756.3 L215.8 757.2 L214.9 756.3Z" fill="#caa5e0"/><path d="M205.5 754.0 L208.1 756.5 L205.5 759.0 L202.9 756.5Z" fill="#7a3a9e"/><path d="M205.5 755.6 L206.4 756.5 L205.5 757.4 L204.6 756.5Z" fill="#caa5e0"/><path d="M226.0 754.0 L228.6 756.5 L226.0 759.0 L223.4 756.5Z" fill="#7a3a9e"/><path d="M226.0 755.6 L226.9 756.5 L226.0 757.4 L225.1 756.5Z" fill="#caa5e0"/><path d="M252.4 724.4 L255.0 726.9 L252.4 729.4 L249.8 726.9Z" fill="#c3d43a"/><path d="M252.4 726.0 L253.3 726.9 L252.4 727.8 L251.5 726.9Z" fill="#f6ff9a"/><path d="M244.1 754.5 L246.7 757.0 L244.1 759.5 L241.5 757.0Z" fill="#c3d43a"/><path d="M244.1 756.1 L245.0 757.0 L244.1 757.9 L243.2 757.0Z" fill="#f6ff9a"/><path d="M249.2 754.5 L251.8 757.0 L249.2 759.5 L246.6 757.0Z" fill="#c3d43a"/><path d="M249.2 756.1 L250.1 757.0 L249.2 757.9 L248.3 757.0Z" fill="#f6ff9a"/><path d="M255.4 754.5 L257.9 757.0 L255.4 759.5 L252.8 757.0Z" fill="#c3d43a"/><path d="M255.4 756.1 L256.3 757.0 L255.4 757.9 L254.5 757.0Z" fill="#f6ff9a"/><path d="M260.5 754.5 L263.1 757.0 L260.5 759.5 L257.9 757.0Z" fill="#c3d43a"/><path d="M260.5 756.1 L261.4 757.0 L260.5 757.9 L259.6 757.0Z" fill="#f6ff9a"/>
<text x="78.45" y="795.10" font-size="10.4" text-anchor="middle" textLength="120.70" lengthAdjust="spacingAndGlyphs" >Vascular endothelial cells</text>
<text x="22.30" y="880.00" font-size="9.2" text-anchor="middle" textLength="128.00" lengthAdjust="spacingAndGlyphs" transform="rotate(-90 22.30 880.00)" >Case-averaged cells per mm²</text>
<rect x="61.00" y="882.20" width="27.60" height="64.30" fill="#7a3a9e" />
<rect x="63.40" y="884.60" width="22.80" height="61.90" fill="#c79ad6" />
<rect x="99.90" y="914.40" width="28.10" height="32.10" fill="#c3d43a" />
<rect x="102.30" y="916.80" width="23.30" height="29.70" fill="#f2f7a6" />
<line x1="74.60" y1="849.60" x2="74.60" y2="882.20" stroke="#7a3a9e" stroke-width="0.9" />
<line x1="67.80" y1="849.60" x2="81.60" y2="849.60" stroke="#7a3a9e" stroke-width="0.9" />
<line x1="114.20" y1="897.50" x2="114.20" y2="914.40" stroke="#c3d43a" stroke-width="0.9" />
<line x1="107.50" y1="897.50" x2="121.00" y2="897.50" stroke="#c3d43a" stroke-width="0.9" />
<line x1="49.00" y1="808.90" x2="49.00" y2="947.25" stroke="#000" stroke-width="1.5" />
<line x1="43.90" y1="946.50" x2="140.60" y2="946.50" stroke="#000" stroke-width="1.5" />
<line x1="43.80" y1="810.20" x2="49.00" y2="810.20" stroke="#000" stroke-width="1.3" />
<text x="42.20" y="813.60" font-size="9.4" text-anchor="end" >200</text>
<line x1="43.80" y1="844.30" x2="49.00" y2="844.30" stroke="#000" stroke-width="1.3" />
<text x="42.20" y="847.70" font-size="9.4" text-anchor="end" >150</text>
<line x1="43.80" y1="878.50" x2="49.00" y2="878.50" stroke="#000" stroke-width="1.3" />
<text x="42.20" y="881.90" font-size="9.4" text-anchor="end" >100</text>
<line x1="43.80" y1="912.60" x2="49.00" y2="912.60" stroke="#000" stroke-width="1.3" />
<text x="42.20" y="916.00" font-size="9.4" text-anchor="end" >50</text>
<line x1="43.80" y1="946.50" x2="49.00" y2="946.50" stroke="#000" stroke-width="1.3" />
<text x="42.20" y="949.90" font-size="9.4" text-anchor="end" >0</text>
<line x1="74.60" y1="946.50" x2="74.60" y2="950.10" stroke="#000" stroke-width="1.3" />
<line x1="114.20" y1="946.50" x2="114.20" y2="950.10" stroke="#000" stroke-width="1.3" />
<path d="M74.6 820.2 L74.6 814.7 L114.2 814.7 L114.2 886.7" fill="none" stroke="#000" stroke-width="1.5" />
<text x="72.80" y="808.90" font-size="9.3" textLength="39.70" lengthAdjust="spacingAndGlyphs"><tspan font-style="italic">p</tspan>=0.0398</text>
<text x="70.90" y="958.80" font-size="9.7" text-anchor="middle" textLength="36.40" lengthAdjust="spacingAndGlyphs" >Antoni A</text>
<text x="117.75" y="958.80" font-size="9.7" text-anchor="middle" textLength="37.10" lengthAdjust="spacingAndGlyphs" >Antoni B</text>
<path d="M74.6 824.7 L77.1 827.2 L74.6 829.8 L72.0 827.2Z" fill="#7a3a9e"/><path d="M74.6 826.3 L75.5 827.2 L74.6 828.1 L73.7 827.2Z" fill="#caa5e0"/><path d="M74.6 841.6 L77.1 844.1 L74.6 846.6 L72.0 844.1Z" fill="#7a3a9e"/><path d="M74.6 843.2 L75.5 844.1 L74.6 845.0 L73.7 844.1Z" fill="#caa5e0"/><path d="M70.3 849.1 L72.8 851.6 L70.3 854.1 L67.8 851.6Z" fill="#7a3a9e"/><path d="M70.3 850.7 L71.2 851.6 L70.3 852.5 L69.4 851.6Z" fill="#caa5e0"/><path d="M78.6 849.1 L81.1 851.6 L78.6 854.1 L76.0 851.6Z" fill="#7a3a9e"/><path d="M78.6 850.7 L79.5 851.6 L78.6 852.5 L77.7 851.6Z" fill="#caa5e0"/><path d="M74.6 854.6 L77.1 857.1 L74.6 859.6 L72.0 857.1Z" fill="#7a3a9e"/><path d="M74.6 856.2 L75.5 857.1 L74.6 858.0 L73.7 857.1Z" fill="#caa5e0"/><path d="M70.3 884.7 L72.8 887.2 L70.3 889.8 L67.8 887.2Z" fill="#7a3a9e"/><path d="M70.3 886.3 L71.2 887.2 L70.3 888.1 L69.4 887.2Z" fill="#caa5e0"/><path d="M79.1 884.2 L81.6 886.7 L79.1 889.2 L76.5 886.7Z" fill="#7a3a9e"/><path d="M79.1 885.8 L80.0 886.7 L79.1 887.6 L78.2 886.7Z" fill="#caa5e0"/><path d="M70.3 890.5 L72.8 893.0 L70.3 895.5 L67.8 893.0Z" fill="#7a3a9e"/><path d="M70.3 892.1 L71.2 893.0 L70.3 893.9 L69.4 893.0Z" fill="#caa5e0"/><path d="M79.1 890.5 L81.6 893.0 L79.1 895.5 L76.5 893.0Z" fill="#7a3a9e"/><path d="M79.1 892.1 L80.0 893.0 L79.1 893.9 L78.2 893.0Z" fill="#caa5e0"/><path d="M74.6 909.9 L77.1 912.4 L74.6 914.9 L72.0 912.4Z" fill="#7a3a9e"/><path d="M74.6 911.5 L75.5 912.4 L74.6 913.3 L73.7 912.4Z" fill="#caa5e0"/><path d="M74.6 913.9 L77.1 916.4 L74.6 918.9 L72.0 916.4Z" fill="#7a3a9e"/><path d="M74.6 915.5 L75.5 916.4 L74.6 917.3 L73.7 916.4Z" fill="#caa5e0"/><path d="M74.6 918.9 L77.1 921.4 L74.6 923.9 L72.0 921.4Z" fill="#7a3a9e"/><path d="M74.6 920.5 L75.5 921.4 L74.6 922.3 L73.7 921.4Z" fill="#caa5e0"/><path d="M74.6 929.4 L77.1 931.9 L74.6 934.4 L72.0 931.9Z" fill="#7a3a9e"/><path d="M74.6 931.0 L75.5 931.9 L74.6 932.8 L73.7 931.9Z" fill="#caa5e0"/><path d="M114.2 890.0 L116.8 892.5 L114.2 895.0 L111.7 892.5Z" fill="#c3d43a"/><path d="M114.2 891.6 L115.1 892.5 L114.2 893.4 L113.3 892.5Z" fill="#f6ff9a"/><path d="M114.2 898.8 L116.8 901.3 L114.2 903.8 L111.7 901.3Z" fill="#c3d43a"/><path d="M114.2 900.4 L115.1 901.3 L114.2 902.2 L113.3 901.3Z" fill="#f6ff9a"/><path d="M114.2 905.6 L116.8 908.1 L114.2 910.6 L111.7 908.1Z" fill="#c3d43a"/><path d="M114.2 907.2 L115.1 908.1 L114.2 909.0 L113.3 908.1Z" fill="#f6ff9a"/><path d="M114.2 916.9 L116.8 919.4 L114.2 921.9 L111.7 919.4Z" fill="#c3d43a"/><path d="M114.2 918.5 L115.1 919.4 L114.2 920.3 L113.3 919.4Z" fill="#f6ff9a"/><path d="M114.2 929.4 L116.8 931.9 L114.2 934.4 L111.7 931.9Z" fill="#c3d43a"/><path d="M114.2 931.0 L115.1 931.9 L114.2 932.8 L113.3 931.9Z" fill="#f6ff9a"/><path d="M114.2 935.7 L116.8 938.2 L114.2 940.8 L111.7 938.2Z" fill="#c3d43a"/><path d="M114.2 937.3 L115.1 938.2 L114.2 939.1 L113.3 938.2Z" fill="#f6ff9a"/>
<text x="227.85" y="784.80" font-size="10.4" text-anchor="middle" textLength="37.70" lengthAdjust="spacingAndGlyphs" >Hypoxic</text>
<text x="227.60" y="795.90" font-size="10.4" text-anchor="middle" textLength="116.00" lengthAdjust="spacingAndGlyphs" >perivascular neutrophils</text>
<text x="172.30" y="880.00" font-size="9.2" text-anchor="middle" textLength="128.00" lengthAdjust="spacingAndGlyphs" transform="rotate(-90 172.30 880.00)" >Case-averaged cells per mm²</text>
<rect x="205.70" y="899.30" width="28.40" height="46.90" fill="#7a3a9e" />
<rect x="208.10" y="901.70" width="23.60" height="44.50" fill="#c79ad6" />
<rect x="244.90" y="935.20" width="28.10" height="11.00" fill="#c3d43a" />
<rect x="247.30" y="937.60" width="23.30" height="8.60" fill="#f2f7a6" />
<line x1="219.80" y1="865.40" x2="219.80" y2="899.30" stroke="#7a3a9e" stroke-width="0.9" />
<line x1="213.30" y1="865.40" x2="226.60" y2="865.40" stroke="#7a3a9e" stroke-width="0.9" />
<line x1="259.20" y1="926.90" x2="259.20" y2="935.20" stroke="#c3d43a" stroke-width="0.9" />
<line x1="252.40" y1="926.90" x2="265.50" y2="926.90" stroke="#c3d43a" stroke-width="0.9" />
<line x1="193.90" y1="808.20" x2="193.90" y2="946.95" stroke="#000" stroke-width="1.5" />
<line x1="188.90" y1="946.20" x2="286.80" y2="946.20" stroke="#000" stroke-width="1.5" />
<line x1="188.70" y1="809.70" x2="193.90" y2="809.70" stroke="#000" stroke-width="1.3" />
<text x="187.70" y="813.10" font-size="9.4" text-anchor="end" >40</text>
<line x1="188.70" y1="844.10" x2="193.90" y2="844.10" stroke="#000" stroke-width="1.3" />
<text x="187.70" y="847.50" font-size="9.4" text-anchor="end" >30</text>
<line x1="188.70" y1="878.00" x2="193.90" y2="878.00" stroke="#000" stroke-width="1.3" />
<text x="187.70" y="881.40" font-size="9.4" text-anchor="end" >20</text>
<line x1="188.70" y1="912.10" x2="193.90" y2="912.10" stroke="#000" stroke-width="1.3" />
<text x="187.70" y="915.50" font-size="9.4" text-anchor="end" >10</text>
<line x1="188.70" y1="946.20" x2="193.90" y2="946.20" stroke="#000" stroke-width="1.3" />
<text x="187.70" y="949.60" font-size="9.4" text-anchor="end" >0</text>
<line x1="219.80" y1="946.20" x2="219.80" y2="949.80" stroke="#000" stroke-width="1.3" />
<line x1="259.20" y1="946.20" x2="259.20" y2="949.80" stroke="#000" stroke-width="1.3" />
<path d="M219.8 830.3 L219.8 822.2 L259.2 822.2 L259.2 916.4" fill="none" stroke="#000" stroke-width="1.5" />
<text x="217.30" y="817.70" font-size="9.3" textLength="39.40" lengthAdjust="spacingAndGlyphs"><tspan font-style="italic">p</tspan>=0.0223</text>
<text x="216.80" y="958.80" font-size="9.7" text-anchor="middle" textLength="37.20" lengthAdjust="spacingAndGlyphs" >Antoni A</text>
<text x="262.70" y="958.80" font-size="9.7" text-anchor="middle" textLength="37.20" lengthAdjust="spacingAndGlyphs" >Antoni B</text>
<path d="M219.8 832.2 L222.4 834.8 L219.8 837.3 L217.2 834.8Z" fill="#7a3a9e"/><path d="M219.8 833.9 L220.7 834.8 L219.8 835.7 L218.9 834.8Z" fill="#caa5e0"/><path d="M219.8 842.2 L222.4 844.8 L219.8 847.3 L217.2 844.8Z" fill="#7a3a9e"/><path d="M219.8 843.9 L220.7 844.8 L219.8 845.7 L218.9 844.8Z" fill="#caa5e0"/><path d="M219.8 861.6 L222.4 864.1 L219.8 866.6 L217.2 864.1Z" fill="#7a3a9e"/><path d="M219.8 863.2 L220.7 864.1 L219.8 865.0 L218.9 864.1Z" fill="#caa5e0"/><path d="M219.8 884.7 L222.4 887.2 L219.8 889.8 L217.2 887.2Z" fill="#7a3a9e"/><path d="M219.8 886.3 L220.7 887.2 L219.8 888.1 L218.9 887.2Z" fill="#caa5e0"/><path d="M215.8 896.8 L218.4 899.3 L215.8 901.8 L213.2 899.3Z" fill="#7a3a9e"/><path d="M215.8 898.4 L216.7 899.3 L215.8 900.2 L214.9 899.3Z" fill="#caa5e0"/><path d="M224.1 898.8 L226.7 901.3 L224.1 903.8 L221.5 901.3Z" fill="#7a3a9e"/><path d="M224.1 900.4 L225.0 901.3 L224.1 902.2 L223.2 901.3Z" fill="#caa5e0"/><path d="M215.8 903.1 L218.4 905.6 L215.8 908.1 L213.2 905.6Z" fill="#7a3a9e"/><path d="M215.8 904.7 L216.7 905.6 L215.8 906.5 L214.9 905.6Z" fill="#caa5e0"/><path d="M211.5 911.1 L214.1 913.6 L211.5 916.1 L208.9 913.6Z" fill="#7a3a9e"/><path d="M211.5 912.7 L212.4 913.6 L211.5 914.5 L210.6 913.6Z" fill="#caa5e0"/><path d="M219.8 909.9 L222.4 912.4 L219.8 914.9 L217.2 912.4Z" fill="#7a3a9e"/><path d="M219.8 911.5 L220.7 912.4 L219.8 913.3 L218.9 912.4Z" fill="#caa5e0"/><path d="M228.3 910.1 L230.9 912.6 L228.3 915.1 L225.8 912.6Z" fill="#7a3a9e"/><path d="M228.3 911.7 L229.2 912.6 L228.3 913.5 L227.4 912.6Z" fill="#caa5e0"/><path d="M215.8 934.0 L218.4 936.5 L215.8 939.0 L213.2 936.5Z" fill="#7a3a9e"/><path d="M215.8 935.6 L216.7 936.5 L215.8 937.4 L214.9 936.5Z" fill="#caa5e0"/><path d="M224.1 937.0 L226.7 939.5 L224.1 942.0 L221.5 939.5Z" fill="#7a3a9e"/><path d="M224.1 938.6 L225.0 939.5 L224.1 940.4 L223.2 939.5Z" fill="#caa5e0"/><path d="M215.8 940.2 L218.4 942.7 L215.8 945.2 L213.2 942.7Z" fill="#7a3a9e"/><path d="M215.8 941.8 L216.7 942.7 L215.8 943.6 L214.9 942.7Z" fill="#caa5e0"/><path d="M259.2 919.9 L261.8 922.4 L259.2 924.9 L256.6 922.4Z" fill="#c3d43a"/><path d="M259.2 921.5 L260.1 922.4 L259.2 923.3 L258.3 922.4Z" fill="#f6ff9a"/><path d="M254.9 928.7 L257.4 931.2 L254.9 933.8 L252.3 931.2Z" fill="#c3d43a"/><path d="M254.9 930.3 L255.8 931.2 L254.9 932.1 L254.0 931.2Z" fill="#f6ff9a"/><path d="M263.5 928.2 L266.1 930.7 L263.5 933.2 L260.9 930.7Z" fill="#c3d43a"/><path d="M263.5 929.8 L264.4 930.7 L263.5 931.6 L262.6 930.7Z" fill="#f6ff9a"/><path d="M254.9 937.0 L257.4 939.5 L254.9 942.0 L252.3 939.5Z" fill="#c3d43a"/><path d="M254.9 938.6 L255.8 939.5 L254.9 940.4 L254.0 939.5Z" fill="#f6ff9a"/><path d="M263.5 940.2 L266.1 942.7 L263.5 945.2 L260.9 942.7Z" fill="#c3d43a"/><path d="M263.5 941.8 L264.4 942.7 L263.5 943.6 L262.6 942.7Z" fill="#f6ff9a"/><path d="M259.2 934.1 L261.8 936.6 L259.2 939.1 L256.6 936.6Z" fill="#c3d43a"/><path d="M259.2 935.7 L260.1 936.6 L259.2 937.5 L258.3 936.6Z" fill="#f6ff9a"/>
<text x="388.15" y="593.80" font-size="10.4" text-anchor="middle" textLength="112.50" lengthAdjust="spacingAndGlyphs" >Classical .vs. alternative</text>
<text x="387.65" y="603.90" font-size="10.4" text-anchor="middle" textLength="77.30" lengthAdjust="spacingAndGlyphs" >TAM abundance</text>
<text x="317.30" y="683.60" font-size="9.2" text-anchor="middle" textLength="129.20" lengthAdjust="spacingAndGlyphs" transform="rotate(-90 317.30 683.60)" >Case-averaged cells per mm²</text>
<text x="329.90" y="683.45" font-size="9.2" text-anchor="middle" textLength="80.30" lengthAdjust="spacingAndGlyphs" transform="rotate(-90 329.90 683.45)" >in Antoni A regions</text>
<rect x="373.30" y="723.10" width="26.60" height="26.90" fill="#5b8bf0" />
<rect x="375.70" y="725.50" width="21.80" height="24.50" fill="#9bbcf8" />
<rect x="410.50" y="684.20" width="26.30" height="65.80" fill="#ea8a32" />
<rect x="412.90" y="686.60" width="21.50" height="63.40" fill="#f6dcbc" />
<line x1="386.60" y1="692.20" x2="386.60" y2="723.10" stroke="#2a2aff" stroke-width="0.9" />
<line x1="380.30" y1="692.20" x2="392.90" y2="692.20" stroke="#2a2aff" stroke-width="0.9" />
<line x1="423.80" y1="662.90" x2="423.80" y2="684.20" stroke="#f0682a" stroke-width="0.9" />
<line x1="417.20" y1="662.90" x2="430.60" y2="662.90" stroke="#f0682a" stroke-width="0.9" />
<line x1="362.00" y1="618.90" x2="362.00" y2="750.75" stroke="#000" stroke-width="1.5" />
<line x1="356.50" y1="750.00" x2="449.90" y2="750.00" stroke="#000" stroke-width="1.5" />
<line x1="356.80" y1="620.20" x2="362.00" y2="620.20" stroke="#000" stroke-width="1.3" />
<text x="354.00" y="623.60" font-size="9.4" text-anchor="end" >3000</text>
<line x1="356.80" y1="663.60" x2="362.00" y2="663.60" stroke="#000" stroke-width="1.3" />
<text x="354.00" y="667.00" font-size="9.4" text-anchor="end" >2000</text>
<line x1="356.80" y1="706.80" x2="362.00" y2="706.80" stroke="#000" stroke-width="1.3" />
<text x="354.00" y="710.20" font-size="9.4" text-anchor="end" >1000</text>
<line x1="356.80" y1="750.00" x2="362.00" y2="750.00" stroke="#000" stroke-width="1.3" />
<text x="354.00" y="753.40" font-size="9.4" text-anchor="end" >0</text>
<path d="M386.6 654.1 L386.6 634.8 L423.8 634.8 L423.8 640.8" fill="none" stroke="#000" stroke-width="1.5" />
<text x="386.10" y="629.70" font-size="9.3" textLength="39.40" lengthAdjust="spacingAndGlyphs"><tspan font-style="italic">p</tspan>=0.0001</text>
<text x="385.75" y="773.30" font-size="9.7" text-anchor="middle" textLength="24.30" lengthAdjust="spacingAndGlyphs" >A.A.L.</text>
<text x="387.00" y="783.00" font-size="9.7" text-anchor="middle" textLength="23.40" lengthAdjust="spacingAndGlyphs" >TAMs</text>
<text x="424.40" y="773.30" font-size="9.7" text-anchor="middle" textLength="23.80" lengthAdjust="spacingAndGlyphs" >C.A.L.</text>
<text x="425.15" y="783.00" font-size="9.7" text-anchor="middle" textLength="23.30" lengthAdjust="spacingAndGlyphs" >TAMs</text>
<path d="M386.6 657.9 L389.2 660.4 L386.6 662.9 L384.1 660.4Z" fill="#2a2aff"/><path d="M386.6 659.5 L387.5 660.4 L386.6 661.3 L385.7 660.4Z" fill="#b8c8ff"/><path d="M386.6 662.9 L389.2 665.4 L386.6 667.9 L384.1 665.4Z" fill="#2a2aff"/><path d="M386.6 664.5 L387.5 665.4 L386.6 666.3 L385.7 665.4Z" fill="#b8c8ff"/><path d="M382.9 703.1 L385.4 705.6 L382.9 708.1 L380.3 705.6Z" fill="#2a2aff"/><path d="M382.9 704.7 L383.8 705.6 L382.9 706.5 L382.0 705.6Z" fill="#b8c8ff"/><path d="M390.4 700.0 L392.9 702.5 L390.4 705.0 L387.8 702.5Z" fill="#2a2aff"/><path d="M390.4 701.6 L391.3 702.5 L390.4 703.4 L389.5 702.5Z" fill="#b8c8ff"/><path d="M386.6 722.4 L389.2 724.9 L386.6 727.4 L384.1 724.9Z" fill="#2a2aff"/><path d="M386.6 724.0 L387.5 724.9 L386.6 725.8 L385.7 724.9Z" fill="#b8c8ff"/><path d="M386.6 729.4 L389.2 731.9 L386.6 734.4 L384.1 731.9Z" fill="#2a2aff"/><path d="M386.6 731.0 L387.5 731.9 L386.6 732.8 L385.7 731.9Z" fill="#b8c8ff"/><path d="M386.6 733.2 L389.2 735.7 L386.6 738.2 L384.1 735.7Z" fill="#2a2aff"/><path d="M386.6 734.8 L387.5 735.7 L386.6 736.6 L385.7 735.7Z" fill="#b8c8ff"/><path d="M386.6 742.0 L389.2 744.5 L386.6 747.0 L384.1 744.5Z" fill="#2a2aff"/><path d="M386.6 743.6 L387.5 744.5 L386.6 745.4 L385.7 744.5Z" fill="#b8c8ff"/><path d="M375.3 746.2 L377.9 748.7 L375.3 751.2 L372.8 748.7Z" fill="#2a2aff"/><path d="M375.3 747.8 L376.2 748.7 L375.3 749.6 L374.4 748.7Z" fill="#b8c8ff"/><path d="M380.8 745.2 L383.4 747.7 L380.8 750.2 L378.2 747.7Z" fill="#2a2aff"/><path d="M380.8 746.8 L381.7 747.7 L380.8 748.6 L379.9 747.7Z" fill="#b8c8ff"/><path d="M386.6 745.7 L389.2 748.2 L386.6 750.8 L384.1 748.2Z" fill="#2a2aff"/><path d="M386.6 747.3 L387.5 748.2 L386.6 749.1 L385.7 748.2Z" fill="#b8c8ff"/><path d="M392.1 745.7 L394.7 748.2 L392.1 750.8 L389.6 748.2Z" fill="#2a2aff"/><path d="M392.1 747.3 L393.0 748.2 L392.1 749.1 L391.2 748.2Z" fill="#b8c8ff"/><path d="M397.4 746.2 L399.9 748.7 L397.4 751.2 L394.8 748.7Z" fill="#2a2aff"/><path d="M397.4 747.8 L398.3 748.7 L397.4 749.6 L396.5 748.7Z" fill="#b8c8ff"/><path d="M423.8 643.6 L426.4 646.1 L423.8 648.6 L421.2 646.1Z" fill="#f0682a"/><path d="M423.8 645.2 L424.7 646.1 L423.8 647.0 L422.9 646.1Z" fill="#fde0c8"/><path d="M423.8 649.8 L426.4 652.3 L423.8 654.8 L421.2 652.3Z" fill="#f0682a"/><path d="M423.8 651.4 L424.7 652.3 L423.8 653.2 L422.9 652.3Z" fill="#fde0c8"/><path d="M420.0 666.6 L422.6 669.1 L420.0 671.6 L417.4 669.1Z" fill="#f0682a"/><path d="M420.0 668.2 L420.9 669.1 L420.0 670.0 L419.1 669.1Z" fill="#fde0c8"/><path d="M427.5 663.4 L430.1 665.9 L427.5 668.4 L424.9 665.9Z" fill="#f0682a"/><path d="M427.5 665.0 L428.4 665.9 L427.5 666.8 L426.6 665.9Z" fill="#fde0c8"/><path d="M423.8 674.9 L426.4 677.4 L423.8 679.9 L421.2 677.4Z" fill="#f0682a"/><path d="M423.8 676.5 L424.7 677.4 L423.8 678.3 L422.9 677.4Z" fill="#fde0c8"/><path d="M423.8 681.0 L426.4 683.5 L423.8 686.0 L421.2 683.5Z" fill="#f0682a"/><path d="M423.8 682.6 L424.7 683.5 L423.8 684.4 L422.9 683.5Z" fill="#fde0c8"/><path d="M420.0 689.7 L422.6 692.2 L420.0 694.8 L417.4 692.2Z" fill="#f0682a"/><path d="M420.0 691.3 L420.9 692.2 L420.0 693.1 L419.1 692.2Z" fill="#fde0c8"/><path d="M427.5 693.0 L430.1 695.5 L427.5 698.0 L424.9 695.5Z" fill="#f0682a"/><path d="M427.5 694.6 L428.4 695.5 L427.5 696.4 L426.6 695.5Z" fill="#fde0c8"/><path d="M423.8 695.5 L426.4 698.0 L423.8 700.5 L421.2 698.0Z" fill="#f0682a"/><path d="M423.8 697.1 L424.7 698.0 L423.8 698.9 L422.9 698.0Z" fill="#fde0c8"/><path d="M420.0 702.6 L422.6 705.1 L420.0 707.6 L417.4 705.1Z" fill="#f0682a"/><path d="M420.0 704.2 L420.9 705.1 L420.0 706.0 L419.1 705.1Z" fill="#fde0c8"/><path d="M427.5 701.0 L430.1 703.5 L427.5 706.0 L424.9 703.5Z" fill="#f0682a"/><path d="M427.5 702.6 L428.4 703.5 L427.5 704.4 L426.6 703.5Z" fill="#fde0c8"/><path d="M420.0 711.8 L422.6 714.3 L420.0 716.8 L417.4 714.3Z" fill="#f0682a"/><path d="M420.0 713.4 L420.9 714.3 L420.0 715.2 L419.1 714.3Z" fill="#fde0c8"/><path d="M427.5 709.2 L430.1 711.8 L427.5 714.3 L424.9 711.8Z" fill="#f0682a"/><path d="M427.5 710.9 L428.4 711.8 L427.5 712.7 L426.6 711.8Z" fill="#fde0c8"/>
<line x1="386.60" y1="750.00" x2="386.60" y2="756.30" stroke="#000" stroke-width="1.3" />
<line x1="423.80" y1="750.00" x2="423.80" y2="756.30" stroke="#000" stroke-width="1.3" />
<rect x="381.60" y="756.30" width="10.00" height="10.00" fill="#9bbcf8" stroke="#444" stroke-width="0.8" />
<rect x="418.80" y="756.30" width="9.80" height="10.00" fill="#f6dcbc" stroke="#444" stroke-width="0.8" />
<text x="317.30" y="871.85" font-size="9.2" text-anchor="middle" textLength="129.30" lengthAdjust="spacingAndGlyphs" transform="rotate(-90 317.30 871.85)" >Case-averaged cells per mm²</text>
<text x="329.90" y="871.70" font-size="9.2" text-anchor="middle" textLength="80.40" lengthAdjust="spacingAndGlyphs" transform="rotate(-90 329.90 871.70)" >in Antoni B regions</text>
<rect x="374.10" y="931.90" width="26.30" height="4.30" fill="#5b8bf0" />
<rect x="376.50" y="934.30" width="21.50" height="1.90" fill="#9bbcf8" />
<rect x="411.70" y="879.20" width="26.90" height="57.00" fill="#ea8a32" />
<rect x="414.10" y="881.60" width="22.10" height="54.60" fill="#f6dcbc" />
<line x1="425.00" y1="859.60" x2="425.00" y2="879.20" stroke="#f0682a" stroke-width="0.9" />
<line x1="418.50" y1="859.60" x2="431.30" y2="859.60" stroke="#f0682a" stroke-width="0.9" />
<line x1="362.00" y1="803.40" x2="362.00" y2="936.95" stroke="#000" stroke-width="1.5" />
<line x1="356.50" y1="936.20" x2="451.40" y2="936.20" stroke="#000" stroke-width="1.5" />
<line x1="356.80" y1="804.60" x2="362.00" y2="804.60" stroke="#000" stroke-width="1.3" />
<text x="354.00" y="808.00" font-size="9.4" text-anchor="end" >3000</text>
<line x1="356.80" y1="848.60" x2="362.00" y2="848.60" stroke="#000" stroke-width="1.3" />
<text x="354.00" y="852.00" font-size="9.4" text-anchor="end" >2000</text>
<line x1="356.80" y1="892.50" x2="362.00" y2="892.50" stroke="#000" stroke-width="1.3" />
<text x="354.00" y="895.90" font-size="9.4" text-anchor="end" >1000</text>
<line x1="356.80" y1="936.20" x2="362.00" y2="936.20" stroke="#000" stroke-width="1.3" />
<text x="354.00" y="939.60" font-size="9.4" text-anchor="end" >0</text>
<path d="M387.4 925.2 L387.4 842.3 L425 842.3 L425 847.8" fill="none" stroke="#000" stroke-width="1.5" />
<text x="386.10" y="836.50" font-size="9.3" textLength="39.40" lengthAdjust="spacingAndGlyphs"><tspan font-style="italic">p</tspan>=0.0029</text>
<text x="387.00" y="959.60" font-size="9.7" text-anchor="middle" textLength="24.40" lengthAdjust="spacingAndGlyphs" >A.A.L.</text>
<text x="387.00" y="969.10" font-size="9.7" text-anchor="middle" textLength="23.40" lengthAdjust="spacingAndGlyphs" >TAMs</text>
<text x="425.15" y="959.60" font-size="9.7" text-anchor="middle" textLength="23.30" lengthAdjust="spacingAndGlyphs" >C.A.L.</text>
<text x="425.15" y="969.10" font-size="9.7" text-anchor="middle" textLength="23.30" lengthAdjust="spacingAndGlyphs" >TAMs</text>
<path d="M380.3 927.4 L382.9 929.9 L380.3 932.4 L377.8 929.9Z" fill="#2a2aff"/><path d="M380.3 929.0 L381.2 929.9 L380.3 930.8 L379.4 929.9Z" fill="#b8c8ff"/><path d="M387.4 930.2 L389.9 932.7 L387.4 935.2 L384.8 932.7Z" fill="#2a2aff"/><path d="M387.4 931.8 L388.3 932.7 L387.4 933.6 L386.5 932.7Z" fill="#b8c8ff"/><path d="M394.9 927.4 L397.4 929.9 L394.9 932.4 L392.3 929.9Z" fill="#2a2aff"/><path d="M394.9 929.0 L395.8 929.9 L394.9 930.8 L394.0 929.9Z" fill="#b8c8ff"/><path d="M380.3 932.0 L382.9 934.5 L380.3 937.0 L377.8 934.5Z" fill="#2a2aff"/><path d="M380.3 933.6 L381.2 934.5 L380.3 935.4 L379.4 934.5Z" fill="#b8c8ff"/><path d="M394.9 932.0 L397.4 934.5 L394.9 937.0 L392.3 934.5Z" fill="#2a2aff"/><path d="M394.9 933.6 L395.8 934.5 L394.9 935.4 L394.0 934.5Z" fill="#b8c8ff"/><path d="M425.0 850.4 L427.6 852.9 L425.0 855.4 L422.4 852.9Z" fill="#f0682a"/><path d="M425.0 852.0 L425.9 852.9 L425.0 853.8 L424.1 852.9Z" fill="#fde0c8"/><path d="M421.3 867.9 L423.9 870.4 L421.3 872.9 L418.8 870.4Z" fill="#f0682a"/><path d="M421.3 869.5 L422.2 870.4 L421.3 871.3 L420.4 870.4Z" fill="#fde0c8"/><path d="M428.8 870.4 L431.4 872.9 L428.8 875.4 L426.2 872.9Z" fill="#f0682a"/><path d="M428.8 872.0 L429.7 872.9 L428.8 873.8 L427.9 872.9Z" fill="#fde0c8"/><path d="M425.0 895.0 L427.6 897.5 L425.0 900.0 L422.4 897.5Z" fill="#f0682a"/><path d="M425.0 896.6 L425.9 897.5 L425.0 898.4 L424.1 897.5Z" fill="#fde0c8"/><path d="M425.0 908.6 L427.6 911.1 L425.0 913.6 L422.4 911.1Z" fill="#f0682a"/><path d="M425.0 910.2 L425.9 911.1 L425.0 912.0 L424.1 911.1Z" fill="#fde0c8"/>
<line x1="387.40" y1="936.20" x2="387.40" y2="943.20" stroke="#000" stroke-width="1.3" />
<line x1="425.00" y1="936.20" x2="425.00" y2="943.20" stroke="#000" stroke-width="1.3" />
<rect x="382.90" y="943.20" width="10.00" height="9.60" fill="#9bbcf8" stroke="#444" stroke-width="0.8" />
<rect x="419.50" y="943.20" width="9.80" height="9.60" fill="#f6dcbc" stroke="#444" stroke-width="0.8" />
</g>
<g id="panelF">
<text x="450.90" y="575.10" font-size="19" >F</text>
<text x="484.10" y="588.60" font-size="12.3" textLength="13.40" lengthAdjust="spacingAndGlyphs" transform="rotate(-90 484.10 588.60)" >DS</text>
<text x="497.80" y="588.60" font-size="12.3" textLength="14.00" lengthAdjust="spacingAndGlyphs" transform="rotate(-90 497.80 588.60)" >HP</text>
<text x="510.00" y="588.60" font-size="12.3" textLength="23.90" lengthAdjust="spacingAndGlyphs" transform="rotate(-90 510.00 588.60)" >Case</text>
<text x="576.80" y="568.70" font-size="12" text-anchor="middle" textLength="85.50" lengthAdjust="spacingAndGlyphs" >Cell proportions</text>
<text x="518.60" y="587.60" font-size="12.3" transform="rotate(-45 518.60 587.60)" >0.0</text>
<text x="539.90" y="587.60" font-size="12.3" transform="rotate(-45 539.90 587.60)" >0.2</text>
<text x="561.20" y="587.60" font-size="12.3" transform="rotate(-45 561.20 587.60)" >0.4</text>
<text x="582.50" y="587.60" font-size="12.3" transform="rotate(-45 582.50 587.60)" >0.6</text>
<text x="603.80" y="587.60" font-size="12.3" transform="rotate(-45 603.80 587.60)" >0.8</text>
<text x="625.10" y="587.60" font-size="12.3" transform="rotate(-45 625.10 587.60)" >1.0</text>
<rect x="515.60" y="590.90" width="112.60" height="376.30" fill="#fff" stroke="#111" stroke-width="1.5" />
<rect x="474.60" y="591.30" width="11.90" height="35.12" fill="#6a6af8" />
<rect x="501.30" y="591.30" width="11.90" height="35.12" fill="#e0587a" />
<text x="507.30" y="612.36" font-size="10" text-anchor="middle" >1</text>
<rect x="488.10" y="591.30" width="11.60" height="4.48" fill="#c090c8" />
<rect x="488.10" y="596.38" width="11.60" height="4.55" fill="#f0f8a0" />
<rect x="488.10" y="601.52" width="11.60" height="24.90" fill="#c090c8" />
<rect x="474.60" y="627.32" width="11.90" height="19.70" fill="#6a6af8" />
<rect x="501.30" y="627.32" width="11.90" height="19.70" fill="#9a2c7a" />
<text x="507.30" y="640.67" font-size="10" text-anchor="middle" >2</text>
<rect x="488.10" y="627.32" width="11.60" height="19.70" fill="#c090c8" />
<rect x="474.60" y="647.92" width="11.90" height="19.70" fill="#6a6af8" />
<rect x="501.30" y="647.92" width="11.90" height="19.70" fill="#f0a890" />
<text x="507.30" y="661.27" font-size="10" text-anchor="middle" >3</text>
<rect x="488.10" y="647.92" width="11.60" height="19.70" fill="#f0f8a0" />
<rect x="474.60" y="668.52" width="11.90" height="30.00" fill="#6a6af8" />
<rect x="501.30" y="668.52" width="11.90" height="30.00" fill="#4a2850" />
<text x="507.30" y="687.02" font-size="10" text-anchor="middle" fill="#fff" >4</text>
<rect x="488.10" y="668.52" width="11.60" height="30.00" fill="#c090c8" />
<rect x="474.60" y="699.42" width="11.90" height="30.00" fill="#d030a8" />
<rect x="501.30" y="699.42" width="11.90" height="30.00" fill="#781820" />
<text x="507.30" y="717.92" font-size="10" text-anchor="middle" fill="#fff" >5</text>
<rect x="488.10" y="699.42" width="11.60" height="4.50" fill="#f0f8a0" />
<rect x="488.10" y="704.52" width="11.60" height="24.90" fill="#c090c8" />
<rect x="474.60" y="730.32" width="11.90" height="40.30" fill="#d870f0" />
<rect x="501.30" y="730.32" width="11.90" height="40.30" fill="#e88870" />
<text x="507.30" y="753.97" font-size="10" text-anchor="middle" >6</text>
<rect x="488.10" y="730.32" width="11.60" height="4.50" fill="#c090c8" />
<rect x="488.10" y="735.43" width="11.60" height="4.55" fill="#f0f8a0" />
<rect x="488.10" y="740.58" width="11.60" height="30.05" fill="#c090c8" />
<rect x="474.60" y="771.52" width="11.90" height="35.15" fill="#6a6af8" />
<rect x="501.30" y="771.52" width="11.90" height="35.15" fill="#f5d8c8" />
<text x="507.30" y="792.60" font-size="10" text-anchor="middle" >7</text>
<rect x="488.10" y="771.52" width="11.60" height="35.15" fill="#c090c8" />
<rect x="474.60" y="807.57" width="11.90" height="24.85" fill="#d030a8" />
<rect x="501.30" y="807.57" width="11.90" height="24.85" fill="#e8989a" />
<text x="507.30" y="823.50" font-size="10" text-anchor="middle" >8</text>
<rect x="488.10" y="807.57" width="11.60" height="4.50" fill="#f0f8a0" />
<rect x="488.10" y="812.68" width="11.60" height="19.75" fill="#c090c8" />
<rect x="474.60" y="833.32" width="11.90" height="40.30" fill="#d030a8" />
<rect x="501.30" y="833.32" width="11.90" height="40.30" fill="#f0b888" />
<text x="507.30" y="856.97" font-size="10" text-anchor="middle" >9</text>
<rect x="488.10" y="833.32" width="11.60" height="30.25" fill="#c090c8" />
<rect x="488.10" y="864.18" width="11.60" height="9.45" fill="#f0f8a0" />
<rect x="474.60" y="874.52" width="11.90" height="30.00" fill="#d030a8" />
<rect x="501.30" y="874.52" width="11.90" height="30.00" fill="#801860" />
<text x="507.30" y="893.03" font-size="10" text-anchor="middle" fill="#fff" textLength="9.60" lengthAdjust="spacingAndGlyphs" >10</text>
<rect x="488.10" y="874.52" width="11.60" height="30.00" fill="#c090c8" />
<rect x="474.60" y="905.43" width="11.90" height="9.40" fill="#d870f0" />
<rect x="501.30" y="905.43" width="11.90" height="9.40" fill="#c82838" />
<text x="507.30" y="913.62" font-size="10" text-anchor="middle" textLength="9.60" lengthAdjust="spacingAndGlyphs" >11</text>
<rect x="488.10" y="905.43" width="11.60" height="9.40" fill="#c090c8" />
<rect x="474.60" y="915.73" width="11.90" height="30.00" fill="#d030a8" />
<rect x="501.30" y="915.73" width="11.90" height="30.00" fill="#502888" />
<text x="507.30" y="934.23" font-size="10" text-anchor="middle" fill="#fff" textLength="9.60" lengthAdjust="spacingAndGlyphs" >12</text>
<rect x="488.10" y="915.73" width="11.60" height="30.00" fill="#c090c8" />
<rect x="474.60" y="946.62" width="11.90" height="20.17" fill="#d870f0" />
<rect x="501.30" y="946.62" width="11.90" height="20.17" fill="#d8a0d0" />
<text x="507.30" y="960.21" font-size="10" text-anchor="middle" textLength="9.60" lengthAdjust="spacingAndGlyphs" >13</text>
<rect x="488.10" y="946.62" width="11.60" height="20.17" fill="#c090c8" />
<rect x="517.30" y="592.25" width="3.33" height="2.9" fill="#98b8ff"/><rect x="520.58" y="592.25" width="8.81" height="2.9" fill="#f8dcb8"/><rect x="529.34" y="592.25" width="17.57" height="2.9" fill="#401098"/><rect x="546.87" y="592.25" width="43.30" height="2.9" fill="#d040ff"/><rect x="590.12" y="592.25" width="0.82" height="2.9" fill="#f08020"/><rect x="590.88" y="592.25" width="32.46" height="2.9" fill="#9048ff"/><rect x="623.30" y="592.25" width="1.69" height="2.9" fill="#e2d4ff"/><rect x="624.94" y="592.25" width="1.91" height="2.9" fill="#d05058"/>
<rect x="517.30" y="597.40" width="1.15" height="2.9" fill="#98b8ff"/><rect x="518.39" y="597.40" width="1.80" height="2.9" fill="#50e860"/><rect x="520.15" y="597.40" width="19.10" height="2.9" fill="#f8dcb8"/><rect x="539.20" y="597.40" width="9.36" height="2.9" fill="#ff1a10"/><rect x="548.51" y="597.40" width="4.32" height="2.9" fill="#d8d8d8"/><rect x="552.78" y="597.40" width="1.91" height="2.9" fill="#401098"/><rect x="554.64" y="597.40" width="12.42" height="2.9" fill="#d040ff"/><rect x="567.01" y="597.40" width="0.93" height="2.9" fill="#f0e030"/><rect x="567.89" y="597.40" width="23.92" height="2.9" fill="#9048ff"/><rect x="591.76" y="597.40" width="33.23" height="2.9" fill="#e2d4ff"/><rect x="624.94" y="597.40" width="1.91" height="2.9" fill="#d05058"/>
<rect x="517.30" y="602.55" width="1.69" height="2.9" fill="#98b8ff"/><rect x="518.94" y="602.55" width="20.31" height="2.9" fill="#f8dcb8"/><rect x="539.20" y="602.55" width="3.33" height="2.9" fill="#ff1a10"/><rect x="542.48" y="602.55" width="1.69" height="2.9" fill="#ffc4ff"/><rect x="544.13" y="602.55" width="1.69" height="2.9" fill="#401098"/><rect x="545.77" y="602.55" width="3.33" height="2.9" fill="#9020a0"/><rect x="549.05" y="602.55" width="10.45" height="2.9" fill="#9048ff"/><rect x="559.46" y="602.55" width="54.25" height="2.9" fill="#e2d4ff"/><rect x="613.66" y="602.55" width="11.33" height="2.9" fill="#ffc4ff"/><rect x="624.94" y="602.55" width="1.91" height="2.9" fill="#f08088"/>
<rect x="517.30" y="607.70" width="6.62" height="2.9" fill="#c8a0d8"/><rect x="523.87" y="607.70" width="5.31" height="2.9" fill="#f8dcb8"/><rect x="529.13" y="607.70" width="13.08" height="2.9" fill="#ff1a10"/><rect x="542.16" y="607.70" width="11.11" height="2.9" fill="#d8d8d8"/><rect x="553.22" y="607.70" width="7.93" height="2.9" fill="#401098"/><rect x="561.10" y="607.70" width="12.53" height="2.9" fill="#d040ff"/><rect x="573.58" y="607.70" width="0.71" height="2.9" fill="#f08020"/><rect x="574.24" y="607.70" width="30.16" height="2.9" fill="#9048ff"/><rect x="604.35" y="607.70" width="5.74" height="2.9" fill="#e2d4ff"/><rect x="610.05" y="607.70" width="1.47" height="2.9" fill="#401098"/><rect x="611.47" y="607.70" width="13.52" height="2.9" fill="#ffc4ff"/><rect x="624.94" y="607.70" width="1.91" height="2.9" fill="#d05058"/>
<rect x="517.30" y="612.85" width="8.81" height="2.9" fill="#98b8ff"/><rect x="526.06" y="612.85" width="9.47" height="2.9" fill="#f8dcb8"/><rect x="535.48" y="612.85" width="10.34" height="2.9" fill="#401098"/><rect x="545.77" y="612.85" width="53.16" height="2.9" fill="#d040ff"/><rect x="598.88" y="612.85" width="25.34" height="2.9" fill="#9048ff"/><rect x="624.17" y="612.85" width="2.68" height="2.9" fill="#d05058"/>
<rect x="517.30" y="618.00" width="16.47" height="2.9" fill="#c8a0d8"/><rect x="533.72" y="618.00" width="29.07" height="2.9" fill="#ff2890"/><rect x="562.74" y="618.00" width="9.03" height="2.9" fill="#f8dcb8"/><rect x="571.72" y="618.00" width="5.20" height="2.9" fill="#d8d8d8"/><rect x="576.87" y="618.00" width="19.76" height="2.9" fill="#401098"/><rect x="596.58" y="618.00" width="3.12" height="2.9" fill="#9048ff"/><rect x="599.64" y="618.00" width="20.64" height="2.9" fill="#e2d4ff"/><rect x="620.23" y="618.00" width="4.76" height="2.9" fill="#9020a0"/><rect x="624.94" y="618.00" width="1.91" height="2.9" fill="#ffc4ff"/>
<rect x="517.30" y="623.15" width="7.71" height="2.9" fill="#c8a0d8"/><rect x="524.96" y="623.15" width="1.15" height="2.9" fill="#ff2890"/><rect x="526.06" y="623.15" width="14.94" height="2.9" fill="#f8dcb8"/><rect x="540.95" y="623.15" width="10.01" height="2.9" fill="#d8d8d8"/><rect x="550.92" y="623.15" width="9.03" height="2.9" fill="#401098"/><rect x="559.90" y="623.15" width="0.93" height="2.9" fill="#f0e030"/><rect x="560.77" y="623.15" width="6.95" height="2.9" fill="#9048ff"/><rect x="567.67" y="623.15" width="56.11" height="2.9" fill="#e2d4ff"/><rect x="623.73" y="623.15" width="2.02" height="2.9" fill="#9020a0"/><rect x="625.70" y="623.15" width="1.15" height="2.9" fill="#ffc4ff"/>
<rect x="517.30" y="628.30" width="6.62" height="2.9" fill="#98b8ff"/><rect x="523.87" y="628.30" width="5.31" height="2.9" fill="#f8dcb8"/><rect x="529.13" y="628.30" width="38.37" height="2.9" fill="#401098"/><rect x="567.45" y="628.30" width="53.92" height="2.9" fill="#d040ff"/><rect x="621.32" y="628.30" width="3.66" height="2.9" fill="#9048ff"/><rect x="624.94" y="628.30" width="1.91" height="2.9" fill="#e2d4ff"/>
<rect x="517.30" y="633.45" width="21.95" height="2.9" fill="#98b8ff"/><rect x="539.20" y="633.45" width="1.15" height="2.9" fill="#50e860"/><rect x="540.29" y="633.45" width="7.71" height="2.9" fill="#f8dcb8"/><rect x="547.96" y="633.45" width="58.09" height="2.9" fill="#401098"/><rect x="606.00" y="633.45" width="14.28" height="2.9" fill="#d040ff"/><rect x="620.23" y="633.45" width="1.15" height="2.9" fill="#f08020"/><rect x="621.32" y="633.45" width="3.66" height="2.9" fill="#9048ff"/><rect x="624.94" y="633.45" width="1.91" height="2.9" fill="#e2d4ff"/>
<rect x="517.30" y="638.60" width="38.38" height="2.9" fill="#98b8ff"/><rect x="555.62" y="638.60" width="1.47" height="2.9" fill="#50e860"/><rect x="557.05" y="638.60" width="15.93" height="2.9" fill="#f8dcb8"/><rect x="572.93" y="638.60" width="14.94" height="2.9" fill="#401098"/><rect x="587.82" y="638.60" width="33.56" height="2.9" fill="#d040ff"/><rect x="621.32" y="638.60" width="2.90" height="2.9" fill="#9048ff"/><rect x="624.17" y="638.60" width="2.68" height="2.9" fill="#f08088"/>
<rect x="517.30" y="643.75" width="20.85" height="2.9" fill="#98b8ff"/><rect x="538.10" y="643.75" width="1.15" height="2.9" fill="#f08020"/><rect x="539.20" y="643.75" width="11.77" height="2.9" fill="#f8dcb8"/><rect x="550.92" y="643.75" width="14.18" height="2.9" fill="#401098"/><rect x="565.04" y="643.75" width="44.51" height="2.9" fill="#d040ff"/><rect x="609.50" y="643.75" width="11.88" height="2.9" fill="#9048ff"/><rect x="621.32" y="643.75" width="2.46" height="2.9" fill="#e2d4ff"/><rect x="623.73" y="643.75" width="3.12" height="2.9" fill="#d05058"/>
<rect x="517.30" y="648.90" width="46.92" height="2.9" fill="#ff2890"/><rect x="564.17" y="648.90" width="1.15" height="2.9" fill="#50e860"/><rect x="565.26" y="648.90" width="8.81" height="2.9" fill="#f8dcb8"/><rect x="574.02" y="648.90" width="40.78" height="2.9" fill="#d8d8d8"/><rect x="614.75" y="648.90" width="3.12" height="2.9" fill="#9048ff"/><rect x="617.82" y="648.90" width="2.46" height="2.9" fill="#e2d4ff"/><rect x="620.23" y="648.90" width="3.99" height="2.9" fill="#9020a0"/><rect x="624.17" y="648.90" width="2.68" height="2.9" fill="#ffc4ff"/>
<rect x="517.30" y="654.05" width="6.62" height="2.9" fill="#ff2890"/><rect x="523.87" y="654.05" width="1.14" height="2.9" fill="#50e860"/><rect x="524.96" y="654.05" width="27.86" height="2.9" fill="#f8dcb8"/><rect x="552.78" y="654.05" width="39.03" height="2.9" fill="#d8d8d8"/><rect x="591.76" y="654.05" width="11.22" height="2.9" fill="#9048ff"/><rect x="602.93" y="654.05" width="14.18" height="2.9" fill="#e2d4ff"/><rect x="617.05" y="654.05" width="3.23" height="2.9" fill="#9020a0"/><rect x="620.23" y="654.05" width="6.62" height="2.9" fill="#ffc4ff"/>
<rect x="517.30" y="659.20" width="29.18" height="2.9" fill="#ff2890"/><rect x="546.43" y="659.20" width="2.90" height="2.9" fill="#50e860"/><rect x="549.27" y="659.20" width="1.69" height="2.9" fill="#f8dcb8"/><rect x="550.92" y="659.20" width="11.33" height="2.9" fill="#d8d8d8"/><rect x="562.19" y="659.20" width="4.87" height="2.9" fill="#9048ff"/><rect x="567.01" y="659.20" width="51.52" height="2.9" fill="#e2d4ff"/><rect x="618.48" y="659.20" width="4.10" height="2.9" fill="#9020a0"/><rect x="622.53" y="659.20" width="2.46" height="2.9" fill="#d05058"/><rect x="624.94" y="659.20" width="1.91" height="2.9" fill="#ffc4ff"/>
<rect x="517.30" y="664.35" width="3.55" height="2.9" fill="#ff2890"/><rect x="520.80" y="664.35" width="1.80" height="2.9" fill="#50e860"/><rect x="522.56" y="664.35" width="31.48" height="2.9" fill="#f8dcb8"/><rect x="553.98" y="664.35" width="29.07" height="2.9" fill="#d8d8d8"/><rect x="583.00" y="664.35" width="1.14" height="2.9" fill="#f08020"/><rect x="584.09" y="664.35" width="7.06" height="2.9" fill="#9048ff"/><rect x="591.10" y="664.35" width="9.47" height="2.9" fill="#e2d4ff"/><rect x="600.52" y="664.35" width="17.35" height="2.9" fill="#9020a0"/><rect x="617.82" y="664.35" width="2.46" height="2.9" fill="#d05058"/><rect x="620.23" y="664.35" width="6.62" height="2.9" fill="#ffc4ff"/>
<rect x="517.30" y="669.50" width="2.90" height="2.9" fill="#f8dcb8"/><rect x="520.15" y="669.50" width="44.94" height="2.9" fill="#401098"/><rect x="565.04" y="669.50" width="55.24" height="2.9" fill="#d040ff"/><rect x="620.23" y="669.50" width="1.15" height="2.9" fill="#f0e030"/><rect x="621.32" y="669.50" width="2.90" height="2.9" fill="#9048ff"/><rect x="624.17" y="669.50" width="2.68" height="2.9" fill="#e2d4ff"/>
<rect x="517.30" y="674.65" width="5.31" height="2.9" fill="#c8a0d8"/><rect x="522.56" y="674.65" width="51.52" height="2.9" fill="#ff2890"/><rect x="574.02" y="674.65" width="8.37" height="2.9" fill="#f8dcb8"/><rect x="582.34" y="674.65" width="10.56" height="2.9" fill="#d8d8d8"/><rect x="592.85" y="674.65" width="4.87" height="2.9" fill="#401098"/><rect x="597.67" y="674.65" width="23.70" height="2.9" fill="#e2d4ff"/><rect x="621.32" y="674.65" width="2.46" height="2.9" fill="#9020a0"/><rect x="623.73" y="674.65" width="3.12" height="2.9" fill="#ffc4ff"/>
<rect x="517.30" y="679.80" width="11.88" height="2.9" fill="#ff2890"/><rect x="529.13" y="679.80" width="16.69" height="2.9" fill="#f8dcb8"/><rect x="545.77" y="679.80" width="33.56" height="2.9" fill="#401098"/><rect x="579.28" y="679.80" width="11.88" height="2.9" fill="#9048ff"/><rect x="591.10" y="679.80" width="31.48" height="2.9" fill="#e2d4ff"/><rect x="622.53" y="679.80" width="2.46" height="2.9" fill="#9020a0"/><rect x="624.94" y="679.80" width="1.91" height="2.9" fill="#ffc4ff"/>
<rect x="517.30" y="684.95" width="57.54" height="2.9" fill="#ff2890"/><rect x="574.79" y="684.95" width="6.40" height="2.9" fill="#f8dcb8"/><rect x="581.14" y="684.95" width="1.25" height="2.9" fill="#f08020"/><rect x="582.34" y="684.95" width="17.35" height="2.9" fill="#d8d8d8"/><rect x="599.64" y="684.95" width="4.76" height="2.9" fill="#401098"/><rect x="604.35" y="684.95" width="3.33" height="2.9" fill="#9048ff"/><rect x="607.64" y="684.95" width="16.15" height="2.9" fill="#e2d4ff"/><rect x="623.73" y="684.95" width="2.02" height="2.9" fill="#9020a0"/><rect x="625.70" y="684.95" width="1.15" height="2.9" fill="#ffc4ff"/>
<rect x="517.30" y="690.10" width="37.94" height="2.9" fill="#ff2890"/><rect x="555.19" y="690.10" width="12.31" height="2.9" fill="#f8dcb8"/><rect x="567.45" y="690.10" width="29.83" height="2.9" fill="#d8d8d8"/><rect x="597.23" y="690.10" width="16.48" height="2.9" fill="#401098"/><rect x="613.66" y="690.10" width="2.57" height="2.9" fill="#9048ff"/><rect x="616.18" y="690.10" width="7.61" height="2.9" fill="#e2d4ff"/><rect x="623.73" y="690.10" width="2.02" height="2.9" fill="#9020a0"/><rect x="625.70" y="690.10" width="1.15" height="2.9" fill="#ffc4ff"/>
<rect x="517.30" y="695.25" width="24.91" height="2.9" fill="#ff2890"/><rect x="542.16" y="695.25" width="3.99" height="2.9" fill="#f8dcb8"/><rect x="546.10" y="695.25" width="1.04" height="2.9" fill="#f08020"/><rect x="547.08" y="695.25" width="8.15" height="2.9" fill="#d8d8d8"/><rect x="555.19" y="695.25" width="37.72" height="2.9" fill="#401098"/><rect x="592.85" y="695.25" width="12.42" height="2.9" fill="#9048ff"/><rect x="605.23" y="695.25" width="17.35" height="2.9" fill="#e2d4ff"/><rect x="622.53" y="695.25" width="3.23" height="2.9" fill="#9020a0"/><rect x="625.70" y="695.25" width="1.15" height="2.9" fill="#ffc4ff"/>
<rect x="517.30" y="700.40" width="1.91" height="2.9" fill="#98b8ff"/><rect x="519.16" y="700.40" width="1.04" height="2.9" fill="#f0e030"/><rect x="520.15" y="700.40" width="4.87" height="2.9" fill="#50e860"/><rect x="524.96" y="700.40" width="49.11" height="2.9" fill="#f8dcb8"/><rect x="574.02" y="700.40" width="1.36" height="2.9" fill="#f08020"/><rect x="575.33" y="700.40" width="17.57" height="2.9" fill="#d040ff"/><rect x="592.85" y="700.40" width="9.14" height="2.9" fill="#9048ff"/><rect x="601.94" y="700.40" width="20.64" height="2.9" fill="#e2d4ff"/><rect x="622.53" y="700.40" width="2.46" height="2.9" fill="#d05058"/><rect x="624.94" y="700.40" width="1.91" height="2.9" fill="#ffc4ff"/>
<rect x="517.30" y="705.55" width="1.69" height="2.9" fill="#98b8ff"/><rect x="518.94" y="705.55" width="1.25" height="2.9" fill="#50e860"/><rect x="520.15" y="705.55" width="51.08" height="2.9" fill="#f8dcb8"/><rect x="571.17" y="705.55" width="12.42" height="2.9" fill="#d040ff"/><rect x="583.55" y="705.55" width="9.36" height="2.9" fill="#9048ff"/><rect x="592.85" y="705.55" width="25.67" height="2.9" fill="#e2d4ff"/><rect x="618.48" y="705.55" width="2.90" height="2.9" fill="#f08088"/><rect x="621.32" y="705.55" width="2.46" height="2.9" fill="#d05058"/><rect x="623.73" y="705.55" width="3.12" height="2.9" fill="#ffc4ff"/>
<rect x="517.30" y="710.70" width="10.67" height="2.9" fill="#c8a0d8"/><rect x="527.92" y="710.70" width="1.25" height="2.9" fill="#50e860"/><rect x="529.13" y="710.70" width="28.41" height="2.9" fill="#f8dcb8"/><rect x="557.49" y="710.70" width="6.73" height="2.9" fill="#d8d8d8"/><rect x="564.17" y="710.70" width="9.91" height="2.9" fill="#d040ff"/><rect x="574.02" y="710.70" width="11.22" height="2.9" fill="#9048ff"/><rect x="585.19" y="710.70" width="38.59" height="2.9" fill="#e2d4ff"/><rect x="623.73" y="710.70" width="3.12" height="2.9" fill="#9020a0"/>
<rect x="517.30" y="715.85" width="2.90" height="2.9" fill="#c8a0d8"/><rect x="520.15" y="715.85" width="1.04" height="2.9" fill="#9020a0"/><rect x="521.13" y="715.85" width="19.43" height="2.9" fill="#f8dcb8"/><rect x="540.51" y="715.85" width="17.46" height="2.9" fill="#d8d8d8"/><rect x="557.92" y="715.85" width="15.05" height="2.9" fill="#9048ff"/><rect x="572.93" y="715.85" width="52.06" height="2.9" fill="#e2d4ff"/><rect x="624.94" y="715.85" width="1.91" height="2.9" fill="#9020a0"/>
<rect x="517.30" y="721.00" width="5.96" height="2.9" fill="#ff2890"/><rect x="523.21" y="721.00" width="1.91" height="2.9" fill="#50e860"/><rect x="525.07" y="721.00" width="36.73" height="2.9" fill="#f8dcb8"/><rect x="561.76" y="721.00" width="2.46" height="2.9" fill="#ff1a10"/><rect x="564.17" y="721.00" width="1.15" height="2.9" fill="#98b8ff"/><rect x="565.26" y="721.00" width="15.49" height="2.9" fill="#d8d8d8"/><rect x="580.70" y="721.00" width="2.35" height="2.9" fill="#9020a0"/><rect x="583.00" y="721.00" width="2.46" height="2.9" fill="#d040ff"/><rect x="585.41" y="721.00" width="13.52" height="2.9" fill="#9048ff"/><rect x="598.88" y="721.00" width="15.93" height="2.9" fill="#e2d4ff"/><rect x="614.75" y="721.00" width="7.82" height="2.9" fill="#9020a0"/><rect x="622.53" y="721.00" width="2.46" height="2.9" fill="#d05058"/><rect x="624.94" y="721.00" width="1.91" height="2.9" fill="#ffc4ff"/>
<rect x="517.30" y="726.15" width="1.69" height="2.9" fill="#98b8ff"/><rect x="518.94" y="726.15" width="3.66" height="2.9" fill="#ff2890"/><rect x="522.56" y="726.15" width="33.34" height="2.9" fill="#f8dcb8"/><rect x="555.84" y="726.15" width="18.77" height="2.9" fill="#ff1a10"/><rect x="574.57" y="726.15" width="19.43" height="2.9" fill="#d8d8d8"/><rect x="593.95" y="726.15" width="8.04" height="2.9" fill="#9048ff"/><rect x="601.94" y="726.15" width="14.29" height="2.9" fill="#e2d4ff"/><rect x="616.18" y="726.15" width="5.20" height="2.9" fill="#9020a0"/><rect x="621.32" y="726.15" width="2.46" height="2.9" fill="#d05058"/><rect x="623.73" y="726.15" width="3.12" height="2.9" fill="#ffc4ff"/>
<rect x="517.30" y="731.30" width="2.90" height="2.9" fill="#98b8ff"/><rect x="520.15" y="731.30" width="2.46" height="2.9" fill="#c8a0d8"/><rect x="522.56" y="731.30" width="14.50" height="2.9" fill="#f8dcb8"/><rect x="537.01" y="731.30" width="27.64" height="2.9" fill="#d040ff"/><rect x="564.60" y="731.30" width="24.91" height="2.9" fill="#9048ff"/><rect x="589.46" y="731.30" width="28.41" height="2.9" fill="#e2d4ff"/><rect x="617.82" y="731.30" width="9.03" height="2.9" fill="#d05058"/>
<rect x="517.30" y="736.45" width="8.37" height="2.9" fill="#c8a0d8"/><rect x="525.62" y="736.45" width="1.91" height="2.9" fill="#50e860"/><rect x="527.48" y="736.45" width="29.62" height="2.9" fill="#f8dcb8"/><rect x="557.05" y="736.45" width="13.52" height="2.9" fill="#d8d8d8"/><rect x="570.52" y="736.45" width="1.25" height="2.9" fill="#401098"/><rect x="571.72" y="736.45" width="3.12" height="2.9" fill="#d040ff"/><rect x="574.79" y="736.45" width="17.79" height="2.9" fill="#9048ff"/><rect x="592.53" y="736.45" width="27.75" height="2.9" fill="#e2d4ff"/><rect x="620.23" y="736.45" width="3.55" height="2.9" fill="#9020a0"/><rect x="623.73" y="736.45" width="3.12" height="2.9" fill="#d05058"/>
<rect x="517.30" y="741.60" width="1.69" height="2.9" fill="#98b8ff"/><rect x="518.94" y="741.60" width="1.25" height="2.9" fill="#50e860"/><rect x="520.15" y="741.60" width="25.13" height="2.9" fill="#f8dcb8"/><rect x="545.22" y="741.60" width="4.10" height="2.9" fill="#d8d8d8"/><rect x="549.27" y="741.60" width="1.69" height="2.9" fill="#401098"/><rect x="550.92" y="741.60" width="17.24" height="2.9" fill="#d040ff"/><rect x="568.11" y="741.60" width="23.70" height="2.9" fill="#9048ff"/><rect x="591.76" y="741.60" width="28.52" height="2.9" fill="#e2d4ff"/><rect x="620.23" y="741.60" width="6.62" height="2.9" fill="#d05058"/>
<rect x="517.30" y="746.75" width="6.62" height="2.9" fill="#98b8ff"/><rect x="523.87" y="746.75" width="4.10" height="2.9" fill="#c8a0d8"/><rect x="527.92" y="746.75" width="30.82" height="2.9" fill="#f8dcb8"/><rect x="558.69" y="746.75" width="1.25" height="2.9" fill="#f08020"/><rect x="559.90" y="746.75" width="2.35" height="2.9" fill="#d8d8d8"/><rect x="562.19" y="746.75" width="9.58" height="2.9" fill="#401098"/><rect x="571.72" y="746.75" width="9.03" height="2.9" fill="#d040ff"/><rect x="580.70" y="746.75" width="27.75" height="2.9" fill="#9048ff"/><rect x="608.40" y="746.75" width="11.88" height="2.9" fill="#e2d4ff"/><rect x="620.23" y="746.75" width="1.15" height="2.9" fill="#f08088"/><rect x="621.32" y="746.75" width="5.53" height="2.9" fill="#d05058"/>
<rect x="517.30" y="751.90" width="2.46" height="2.9" fill="#98b8ff"/><rect x="519.71" y="751.90" width="16.58" height="2.9" fill="#c8a0d8"/><rect x="536.24" y="751.90" width="1.25" height="2.9" fill="#50e860"/><rect x="537.45" y="751.90" width="18.23" height="2.9" fill="#f8dcb8"/><rect x="555.62" y="751.90" width="17.79" height="2.9" fill="#d8d8d8"/><rect x="573.36" y="751.90" width="2.68" height="2.9" fill="#401098"/><rect x="575.99" y="751.90" width="8.26" height="2.9" fill="#d040ff"/><rect x="584.20" y="751.90" width="8.70" height="2.9" fill="#9048ff"/><rect x="592.85" y="751.90" width="17.24" height="2.9" fill="#e2d4ff"/><rect x="610.05" y="751.90" width="0.93" height="2.9" fill="#ff2890"/><rect x="610.92" y="751.90" width="15.93" height="2.9" fill="#ffc4ff"/>
<rect x="517.30" y="757.05" width="1.15" height="2.9" fill="#98b8ff"/><rect x="518.39" y="757.05" width="1.80" height="2.9" fill="#50e860"/><rect x="520.15" y="757.05" width="31.48" height="2.9" fill="#f8dcb8"/><rect x="551.57" y="757.05" width="10.23" height="2.9" fill="#d8d8d8"/><rect x="561.76" y="757.05" width="2.46" height="2.9" fill="#401098"/><rect x="564.17" y="757.05" width="7.06" height="2.9" fill="#d040ff"/><rect x="571.17" y="757.05" width="8.15" height="2.9" fill="#9048ff"/><rect x="579.28" y="757.05" width="43.30" height="2.9" fill="#e2d4ff"/><rect x="622.53" y="757.05" width="1.69" height="2.9" fill="#9020a0"/><rect x="624.17" y="757.05" width="2.68" height="2.9" fill="#ffc4ff"/>
<rect x="517.30" y="762.20" width="1.15" height="2.9" fill="#98b8ff"/><rect x="518.39" y="762.20" width="15.05" height="2.9" fill="#f8dcb8"/><rect x="533.40" y="762.20" width="0.93" height="2.9" fill="#50e860"/><rect x="534.27" y="762.20" width="12.64" height="2.9" fill="#d040ff"/><rect x="546.87" y="762.20" width="44.29" height="2.9" fill="#9048ff"/><rect x="591.10" y="762.20" width="35.75" height="2.9" fill="#e2d4ff"/>
<rect x="517.30" y="767.35" width="6.62" height="2.9" fill="#98b8ff"/><rect x="523.87" y="767.35" width="1.14" height="2.9" fill="#50e860"/><rect x="524.96" y="767.35" width="40.89" height="2.9" fill="#f8dcb8"/><rect x="565.81" y="767.35" width="3.01" height="2.9" fill="#d8d8d8"/><rect x="568.76" y="767.35" width="1.80" height="2.9" fill="#401098"/><rect x="570.52" y="767.35" width="23.48" height="2.9" fill="#d040ff"/><rect x="593.95" y="767.35" width="20.86" height="2.9" fill="#9048ff"/><rect x="614.75" y="767.35" width="9.03" height="2.9" fill="#e2d4ff"/><rect x="623.73" y="767.35" width="3.12" height="2.9" fill="#d05058"/>
<rect x="517.30" y="772.50" width="9.47" height="2.9" fill="#98b8ff"/><rect x="526.72" y="772.50" width="14.29" height="2.9" fill="#c8a0d8"/><rect x="540.95" y="772.50" width="33.12" height="2.9" fill="#f8dcb8"/><rect x="574.02" y="772.50" width="24.91" height="2.9" fill="#d040ff"/><rect x="598.88" y="772.50" width="18.99" height="2.9" fill="#9048ff"/><rect x="617.82" y="772.50" width="5.96" height="2.9" fill="#e2d4ff"/><rect x="623.73" y="772.50" width="3.12" height="2.9" fill="#d05058"/>
<rect x="517.30" y="777.65" width="5.31" height="2.9" fill="#98b8ff"/><rect x="522.56" y="777.65" width="5.42" height="2.9" fill="#c8a0d8"/><rect x="527.92" y="777.65" width="31.48" height="2.9" fill="#f8dcb8"/><rect x="559.35" y="777.65" width="8.81" height="2.9" fill="#ff1a10"/><rect x="568.11" y="777.65" width="2.46" height="2.9" fill="#5f6fff"/><rect x="570.52" y="777.65" width="1.58" height="2.9" fill="#d040ff"/><rect x="572.05" y="777.65" width="29.29" height="2.9" fill="#9048ff"/><rect x="601.29" y="777.65" width="13.52" height="2.9" fill="#e2d4ff"/><rect x="614.75" y="777.65" width="6.62" height="2.9" fill="#f08088"/><rect x="621.32" y="777.65" width="5.53" height="2.9" fill="#ffc4ff"/>
<rect x="517.30" y="782.80" width="5.31" height="2.9" fill="#98b8ff"/><rect x="522.56" y="782.80" width="1.36" height="2.9" fill="#f0e030"/><rect x="523.87" y="782.80" width="5.74" height="2.9" fill="#50e860"/><rect x="529.56" y="782.80" width="44.51" height="2.9" fill="#f8dcb8"/><rect x="574.02" y="782.80" width="25.67" height="2.9" fill="#d040ff"/><rect x="599.64" y="782.80" width="1.14" height="2.9" fill="#f08020"/><rect x="600.74" y="782.80" width="6.40" height="2.9" fill="#9048ff"/><rect x="607.09" y="782.80" width="10.78" height="2.9" fill="#e2d4ff"/><rect x="617.82" y="782.80" width="2.46" height="2.9" fill="#9020a0"/><rect x="620.23" y="782.80" width="6.62" height="2.9" fill="#d05058"/>
<rect x="517.30" y="787.95" width="11.88" height="2.9" fill="#c8a0d8"/><rect x="529.13" y="787.95" width="5.20" height="2.9" fill="#ff2890"/><rect x="534.27" y="787.95" width="1.47" height="2.9" fill="#50e860"/><rect x="535.70" y="787.95" width="47.35" height="2.9" fill="#f8dcb8"/><rect x="583.00" y="787.95" width="2.90" height="2.9" fill="#ff1a10"/><rect x="585.85" y="787.95" width="11.88" height="2.9" fill="#d8d8d8"/><rect x="597.67" y="787.95" width="2.02" height="2.9" fill="#401098"/><rect x="599.64" y="787.95" width="3.99" height="2.9" fill="#9048ff"/><rect x="603.59" y="787.95" width="15.93" height="2.9" fill="#e2d4ff"/><rect x="619.46" y="787.95" width="4.32" height="2.9" fill="#9020a0"/><rect x="623.73" y="787.95" width="3.12" height="2.9" fill="#ffc4ff"/>
<rect x="517.30" y="793.10" width="27.21" height="2.9" fill="#98b8ff"/><rect x="544.46" y="793.10" width="1.69" height="2.9" fill="#50e860"/><rect x="546.10" y="793.10" width="45.71" height="2.9" fill="#f8dcb8"/><rect x="591.76" y="793.10" width="31.59" height="2.9" fill="#d040ff"/><rect x="623.30" y="793.10" width="3.55" height="2.9" fill="#d05058"/>
<rect x="517.30" y="798.25" width="31.26" height="2.9" fill="#98b8ff"/><rect x="548.51" y="798.25" width="1.25" height="2.9" fill="#50e860"/><rect x="549.71" y="798.25" width="22.39" height="2.9" fill="#f8dcb8"/><rect x="572.05" y="798.25" width="2.02" height="2.9" fill="#401098"/><rect x="574.02" y="798.25" width="50.97" height="2.9" fill="#d040ff"/><rect x="624.94" y="798.25" width="1.91" height="2.9" fill="#d05058"/>
<rect x="517.30" y="803.40" width="2.46" height="2.9" fill="#50e860"/><rect x="519.71" y="803.40" width="17.35" height="2.9" fill="#98b8ff"/><rect x="537.01" y="803.40" width="9.91" height="2.9" fill="#c8ff40"/><rect x="546.87" y="803.40" width="1.25" height="2.9" fill="#f8dcb8"/><rect x="548.07" y="803.40" width="5.96" height="2.9" fill="#50e860"/><rect x="553.98" y="803.40" width="37.83" height="2.9" fill="#f8dcb8"/><rect x="591.76" y="803.40" width="2.24" height="2.9" fill="#401098"/><rect x="593.95" y="803.40" width="21.51" height="2.9" fill="#d040ff"/><rect x="615.41" y="803.40" width="2.46" height="2.9" fill="#9048ff"/><rect x="617.82" y="803.40" width="4.76" height="2.9" fill="#e2d4ff"/><rect x="622.53" y="803.40" width="4.32" height="2.9" fill="#d05058"/>
<rect x="517.30" y="808.55" width="1.69" height="2.9" fill="#c8a0d8"/><rect x="518.94" y="808.55" width="12.64" height="2.9" fill="#ff2890"/><rect x="531.53" y="808.55" width="4.21" height="2.9" fill="#50e860"/><rect x="535.70" y="808.55" width="23.05" height="2.9" fill="#f8dcb8"/><rect x="558.69" y="808.55" width="35.31" height="2.9" fill="#d8d8d8"/><rect x="593.95" y="808.55" width="3.77" height="2.9" fill="#401098"/><rect x="597.67" y="808.55" width="6.73" height="2.9" fill="#e2d4ff"/><rect x="604.35" y="808.55" width="18.23" height="2.9" fill="#9020a0"/><rect x="622.53" y="808.55" width="2.46" height="2.9" fill="#d05058"/><rect x="624.94" y="808.55" width="1.91" height="2.9" fill="#ffc4ff"/>
<rect x="517.30" y="813.70" width="1.91" height="2.9" fill="#c8a0d8"/><rect x="519.16" y="813.70" width="4.76" height="2.9" fill="#ff2890"/><rect x="523.87" y="813.70" width="14.72" height="2.9" fill="#f8dcb8"/><rect x="538.54" y="813.70" width="21.40" height="2.9" fill="#d8d8d8"/><rect x="559.90" y="813.70" width="36.73" height="2.9" fill="#401098"/><rect x="596.58" y="813.70" width="2.35" height="2.9" fill="#9048ff"/><rect x="598.88" y="813.70" width="24.91" height="2.9" fill="#e2d4ff"/><rect x="623.73" y="813.70" width="3.12" height="2.9" fill="#9020a0"/>
<rect x="517.30" y="818.85" width="17.02" height="2.9" fill="#c8a0d8"/><rect x="534.27" y="818.85" width="5.53" height="2.9" fill="#f8dcb8"/><rect x="539.75" y="818.85" width="1.91" height="2.9" fill="#ff1a10"/><rect x="541.61" y="818.85" width="6.40" height="2.9" fill="#d8d8d8"/><rect x="547.96" y="818.85" width="61.15" height="2.9" fill="#401098"/><rect x="609.06" y="818.85" width="2.46" height="2.9" fill="#9048ff"/><rect x="611.47" y="818.85" width="11.11" height="2.9" fill="#e2d4ff"/><rect x="622.53" y="818.85" width="2.46" height="2.9" fill="#9020a0"/><rect x="624.94" y="818.85" width="1.91" height="2.9" fill="#ffc4ff"/>
<rect x="517.30" y="824.00" width="35.97" height="2.9" fill="#98b8ff"/><rect x="553.22" y="824.00" width="1.25" height="2.9" fill="#50e860"/><rect x="554.42" y="824.00" width="1.91" height="2.9" fill="#c8a0d8"/><rect x="556.28" y="824.00" width="19.10" height="2.9" fill="#f8dcb8"/><rect x="575.33" y="824.00" width="42.54" height="2.9" fill="#d040ff"/><rect x="617.82" y="824.00" width="1.69" height="2.9" fill="#9048ff"/><rect x="619.46" y="824.00" width="1.91" height="2.9" fill="#9020a0"/><rect x="621.32" y="824.00" width="2.46" height="2.9" fill="#d05058"/><rect x="623.73" y="824.00" width="3.12" height="2.9" fill="#ffc4ff"/>
<rect x="517.30" y="829.15" width="5.31" height="2.9" fill="#c8a0d8"/><rect x="522.56" y="829.15" width="6.18" height="2.9" fill="#f8dcb8"/><rect x="528.69" y="829.15" width="10.56" height="2.9" fill="#ff1a10"/><rect x="539.20" y="829.15" width="6.07" height="2.9" fill="#d8d8d8"/><rect x="545.22" y="829.15" width="1.91" height="2.9" fill="#401098"/><rect x="547.08" y="829.15" width="4.54" height="2.9" fill="#d040ff"/><rect x="551.57" y="829.15" width="11.22" height="2.9" fill="#9048ff"/><rect x="562.74" y="829.15" width="16.15" height="2.9" fill="#e2d4ff"/><rect x="578.84" y="829.15" width="48.01" height="2.9" fill="#ffc4ff"/>
<rect x="517.30" y="834.30" width="57.54" height="2.9" fill="#98b8ff"/><rect x="574.79" y="834.30" width="1.69" height="2.9" fill="#50e860"/><rect x="576.43" y="834.30" width="13.74" height="2.9" fill="#f8dcb8"/><rect x="590.12" y="834.30" width="9.58" height="2.9" fill="#ff1a10"/><rect x="599.64" y="834.30" width="6.40" height="2.9" fill="#401098"/><rect x="606.00" y="834.30" width="7.17" height="2.9" fill="#d040ff"/><rect x="613.11" y="834.30" width="2.35" height="2.9" fill="#9048ff"/><rect x="615.41" y="834.30" width="2.46" height="2.9" fill="#e2d4ff"/><rect x="617.82" y="834.30" width="7.17" height="2.9" fill="#f08088"/><rect x="624.94" y="834.30" width="1.91" height="2.9" fill="#d05058"/>
<rect x="517.30" y="839.45" width="3.55" height="2.9" fill="#98b8ff"/><rect x="520.80" y="839.45" width="1.80" height="2.9" fill="#c8a0d8"/><rect x="522.56" y="839.45" width="2.46" height="2.9" fill="#50e860"/><rect x="524.96" y="839.45" width="1.15" height="2.9" fill="#ff2890"/><rect x="526.06" y="839.45" width="36.18" height="2.9" fill="#f8dcb8"/><rect x="562.19" y="839.45" width="42.21" height="2.9" fill="#d040ff"/><rect x="604.35" y="839.45" width="10.45" height="2.9" fill="#9048ff"/><rect x="614.75" y="839.45" width="10.23" height="2.9" fill="#e2d4ff"/><rect x="624.94" y="839.45" width="1.91" height="2.9" fill="#ffc4ff"/>
<rect x="517.30" y="844.60" width="13.74" height="2.9" fill="#98b8ff"/><rect x="530.99" y="844.60" width="20.64" height="2.9" fill="#f8dcb8"/><rect x="551.57" y="844.60" width="56.11" height="2.9" fill="#d040ff"/><rect x="607.64" y="844.60" width="9.03" height="2.9" fill="#9048ff"/><rect x="616.62" y="844.60" width="4.76" height="2.9" fill="#e2d4ff"/><rect x="621.32" y="844.60" width="1.25" height="2.9" fill="#9020a0"/><rect x="622.53" y="844.60" width="4.32" height="2.9" fill="#ffc4ff"/>
<rect x="517.30" y="849.75" width="36.73" height="2.9" fill="#98b8ff"/><rect x="553.98" y="849.75" width="20.09" height="2.9" fill="#f8dcb8"/><rect x="574.02" y="849.75" width="35.53" height="2.9" fill="#d040ff"/><rect x="609.50" y="849.75" width="9.03" height="2.9" fill="#9048ff"/><rect x="618.48" y="849.75" width="2.90" height="2.9" fill="#e2d4ff"/><rect x="621.32" y="849.75" width="3.66" height="2.9" fill="#9020a0"/><rect x="624.94" y="849.75" width="1.91" height="2.9" fill="#ffc4ff"/>
<rect x="517.30" y="854.90" width="13.74" height="2.9" fill="#98b8ff"/><rect x="530.99" y="854.90" width="1.69" height="2.9" fill="#ff2890"/><rect x="532.63" y="854.90" width="2.46" height="2.9" fill="#50e860"/><rect x="535.04" y="854.90" width="42.10" height="2.9" fill="#f8dcb8"/><rect x="577.09" y="854.90" width="31.37" height="2.9" fill="#d040ff"/><rect x="608.40" y="854.90" width="7.06" height="2.9" fill="#e2d4ff"/><rect x="615.41" y="854.90" width="4.87" height="2.9" fill="#9020a0"/><rect x="620.23" y="854.90" width="6.62" height="2.9" fill="#ffc4ff"/>
<rect x="517.30" y="860.05" width="5.31" height="2.9" fill="#98b8ff"/><rect x="522.56" y="860.05" width="1.91" height="2.9" fill="#c8a0d8"/><rect x="524.42" y="860.05" width="2.35" height="2.9" fill="#50e860"/><rect x="526.72" y="860.05" width="52.17" height="2.9" fill="#f8dcb8"/><rect x="578.84" y="860.05" width="7.06" height="2.9" fill="#d8d8d8"/><rect x="585.85" y="860.05" width="17.79" height="2.9" fill="#d040ff"/><rect x="603.59" y="860.05" width="3.55" height="2.9" fill="#9048ff"/><rect x="607.09" y="860.05" width="16.69" height="2.9" fill="#e2d4ff"/><rect x="623.73" y="860.05" width="3.12" height="2.9" fill="#d05058"/>
<rect x="517.30" y="865.20" width="14.72" height="2.9" fill="#ff2890"/><rect x="531.97" y="865.20" width="10.89" height="2.9" fill="#f8dcb8"/><rect x="542.81" y="865.20" width="77.47" height="2.9" fill="#d8d8d8"/><rect x="620.23" y="865.20" width="3.12" height="2.9" fill="#e2d4ff"/><rect x="623.30" y="865.20" width="2.46" height="2.9" fill="#9020a0"/><rect x="625.70" y="865.20" width="1.15" height="2.9" fill="#ffc4ff"/>
<rect x="517.30" y="870.35" width="25.56" height="2.9" fill="#c8a0d8"/><rect x="542.81" y="870.35" width="7.61" height="2.9" fill="#ff2890"/><rect x="550.37" y="870.35" width="1.69" height="2.9" fill="#50e860"/><rect x="552.01" y="870.35" width="22.83" height="2.9" fill="#f8dcb8"/><rect x="574.79" y="870.35" width="10.45" height="2.9" fill="#d8d8d8"/><rect x="585.19" y="870.35" width="9.69" height="2.9" fill="#401098"/><rect x="594.83" y="870.35" width="5.31" height="2.9" fill="#9048ff"/><rect x="600.08" y="870.35" width="18.99" height="2.9" fill="#e2d4ff"/><rect x="619.03" y="870.35" width="5.96" height="2.9" fill="#9020a0"/><rect x="624.94" y="870.35" width="1.91" height="2.9" fill="#ffc4ff"/>
<rect x="517.30" y="875.50" width="2.46" height="2.9" fill="#98b8ff"/><rect x="519.71" y="875.50" width="1.15" height="2.9" fill="#ff2890"/><rect x="520.80" y="875.50" width="4.21" height="2.9" fill="#c8a0d8"/><rect x="524.96" y="875.50" width="5.42" height="2.9" fill="#ff2890"/><rect x="530.33" y="875.50" width="1.91" height="2.9" fill="#50e860"/><rect x="532.19" y="875.50" width="5.31" height="2.9" fill="#f8dcb8"/><rect x="537.45" y="875.50" width="12.97" height="2.9" fill="#ff1a10"/><rect x="550.37" y="875.50" width="3.66" height="2.9" fill="#5f6fff"/><rect x="553.98" y="875.50" width="5.42" height="2.9" fill="#d8d8d8"/><rect x="559.35" y="875.50" width="7.28" height="2.9" fill="#401098"/><rect x="566.57" y="875.50" width="21.29" height="2.9" fill="#9048ff"/><rect x="587.82" y="875.50" width="14.18" height="2.9" fill="#e2d4ff"/><rect x="601.94" y="875.50" width="5.20" height="2.9" fill="#9020a0"/><rect x="607.09" y="875.50" width="2.46" height="2.9" fill="#f08088"/><rect x="609.50" y="875.50" width="17.35" height="2.9" fill="#ffc4ff"/>
<rect x="517.30" y="880.65" width="22.50" height="2.9" fill="#c8a0d8"/><rect x="539.75" y="880.65" width="35.64" height="2.9" fill="#ff2890"/><rect x="575.33" y="880.65" width="2.24" height="2.9" fill="#f8dcb8"/><rect x="577.52" y="880.65" width="1.36" height="2.9" fill="#f08020"/><rect x="578.84" y="880.65" width="1.91" height="2.9" fill="#9020a0"/><rect x="580.70" y="880.65" width="3.44" height="2.9" fill="#9048ff"/><rect x="584.09" y="880.65" width="16.48" height="2.9" fill="#e2d4ff"/><rect x="600.52" y="880.65" width="2.46" height="2.9" fill="#9020a0"/><rect x="602.93" y="880.65" width="23.92" height="2.9" fill="#ffc4ff"/>
<rect x="517.30" y="885.80" width="27.97" height="2.9" fill="#c8a0d8"/><rect x="545.22" y="885.80" width="4.76" height="2.9" fill="#ff2890"/><rect x="549.93" y="885.80" width="4.76" height="2.9" fill="#f8dcb8"/><rect x="554.64" y="885.80" width="1.04" height="2.9" fill="#f08020"/><rect x="555.62" y="885.80" width="37.28" height="2.9" fill="#d8d8d8"/><rect x="592.85" y="885.80" width="5.42" height="2.9" fill="#9048ff"/><rect x="598.22" y="885.80" width="24.36" height="2.9" fill="#e2d4ff"/><rect x="622.53" y="885.80" width="2.46" height="2.9" fill="#9020a0"/><rect x="624.94" y="885.80" width="1.91" height="2.9" fill="#ffc4ff"/>
<rect x="517.30" y="890.95" width="7.82" height="2.9" fill="#ff2890"/><rect x="525.07" y="890.95" width="1.69" height="2.9" fill="#50e860"/><rect x="526.72" y="890.95" width="3.66" height="2.9" fill="#f8dcb8"/><rect x="530.33" y="890.95" width="10.67" height="2.9" fill="#401098"/><rect x="540.95" y="890.95" width="4.32" height="2.9" fill="#9048ff"/><rect x="545.22" y="890.95" width="19.43" height="2.9" fill="#e2d4ff"/><rect x="564.60" y="890.95" width="49.11" height="2.9" fill="#9020a0"/><rect x="613.66" y="890.95" width="13.19" height="2.9" fill="#ffc4ff"/>
<rect x="517.30" y="896.10" width="5.31" height="2.9" fill="#98b8ff"/><rect x="522.56" y="896.10" width="1.91" height="2.9" fill="#50e860"/><rect x="524.42" y="896.10" width="69.58" height="2.9" fill="#f8dcb8"/><rect x="593.95" y="896.10" width="14.50" height="2.9" fill="#d040ff"/><rect x="608.40" y="896.10" width="6.40" height="2.9" fill="#9048ff"/><rect x="614.75" y="896.10" width="6.62" height="2.9" fill="#e2d4ff"/><rect x="621.32" y="896.10" width="2.02" height="2.9" fill="#9020a0"/><rect x="623.30" y="896.10" width="3.55" height="2.9" fill="#d05058"/>
<rect x="517.30" y="901.25" width="39.80" height="2.9" fill="#98b8ff"/><rect x="557.05" y="901.25" width="1.25" height="2.9" fill="#50e860"/><rect x="558.25" y="901.25" width="9.91" height="2.9" fill="#f8dcb8"/><rect x="568.11" y="901.25" width="7.93" height="2.9" fill="#401098"/><rect x="575.99" y="901.25" width="8.15" height="2.9" fill="#d040ff"/><rect x="584.09" y="901.25" width="38.05" height="2.9" fill="#9048ff"/><rect x="622.09" y="901.25" width="1.25" height="2.9" fill="#ff1a10"/><rect x="623.30" y="901.25" width="3.55" height="2.9" fill="#d05058"/>
<rect x="517.30" y="906.40" width="2.90" height="2.9" fill="#98b8ff"/><rect x="520.15" y="906.40" width="4.87" height="2.9" fill="#c8a0d8"/><rect x="524.96" y="906.40" width="19.54" height="2.9" fill="#f8dcb8"/><rect x="544.46" y="906.40" width="21.40" height="2.9" fill="#d040ff"/><rect x="565.81" y="906.40" width="41.33" height="2.9" fill="#9048ff"/><rect x="607.09" y="906.40" width="17.90" height="2.9" fill="#e2d4ff"/><rect x="624.94" y="906.40" width="1.91" height="2.9" fill="#d05058"/>
<rect x="517.30" y="911.55" width="4.76" height="2.9" fill="#ff2890"/><rect x="522.01" y="911.55" width="1.25" height="2.9" fill="#50e860"/><rect x="523.21" y="911.55" width="18.99" height="2.9" fill="#f8dcb8"/><rect x="542.16" y="911.55" width="1.69" height="2.9" fill="#ff1a10"/><rect x="543.80" y="911.55" width="34.54" height="2.9" fill="#d8d8d8"/><rect x="578.29" y="911.55" width="24.25" height="2.9" fill="#401098"/><rect x="602.49" y="911.55" width="4.21" height="2.9" fill="#9048ff"/><rect x="606.65" y="911.55" width="15.93" height="2.9" fill="#e2d4ff"/><rect x="622.53" y="911.55" width="4.32" height="2.9" fill="#9020a0"/>
<rect x="517.30" y="916.70" width="12.31" height="2.9" fill="#c8a0d8"/><rect x="529.56" y="916.70" width="18.01" height="2.9" fill="#f8dcb8"/><rect x="547.52" y="916.70" width="12.86" height="2.9" fill="#d8d8d8"/><rect x="560.33" y="916.70" width="4.32" height="2.9" fill="#401098"/><rect x="564.60" y="916.70" width="13.74" height="2.9" fill="#9048ff"/><rect x="578.29" y="916.70" width="46.70" height="2.9" fill="#e2d4ff"/><rect x="624.94" y="916.70" width="1.91" height="2.9" fill="#9020a0"/>
<rect x="517.30" y="921.85" width="14.72" height="2.9" fill="#c8a0d8"/><rect x="531.97" y="921.85" width="14.18" height="2.9" fill="#f8dcb8"/><rect x="546.10" y="921.85" width="14.29" height="2.9" fill="#d8d8d8"/><rect x="560.33" y="921.85" width="34.54" height="2.9" fill="#401098"/><rect x="594.83" y="921.85" width="1.36" height="2.9" fill="#f08020"/><rect x="596.14" y="921.85" width="6.84" height="2.9" fill="#9048ff"/><rect x="602.93" y="921.85" width="22.06" height="2.9" fill="#e2d4ff"/><rect x="624.94" y="921.85" width="1.91" height="2.9" fill="#9020a0"/>
<rect x="517.30" y="927.00" width="14.72" height="2.9" fill="#c8a0d8"/><rect x="531.97" y="927.00" width="4.32" height="2.9" fill="#ff2890"/><rect x="536.24" y="927.00" width="1.25" height="2.9" fill="#50e860"/><rect x="537.45" y="927.00" width="30.71" height="2.9" fill="#f8dcb8"/><rect x="568.11" y="927.00" width="16.69" height="2.9" fill="#d8d8d8"/><rect x="584.75" y="927.00" width="12.53" height="2.9" fill="#401098"/><rect x="597.23" y="927.00" width="8.81" height="2.9" fill="#9048ff"/><rect x="606.00" y="927.00" width="16.58" height="2.9" fill="#e2d4ff"/><rect x="622.53" y="927.00" width="2.46" height="2.9" fill="#9020a0"/><rect x="624.94" y="927.00" width="1.91" height="2.9" fill="#ffc4ff"/>
<rect x="517.30" y="932.15" width="21.29" height="2.9" fill="#c8a0d8"/><rect x="538.54" y="932.15" width="16.15" height="2.9" fill="#ff2890"/><rect x="554.64" y="932.15" width="1.69" height="2.9" fill="#50e860"/><rect x="556.28" y="932.15" width="5.96" height="2.9" fill="#f8dcb8"/><rect x="562.19" y="932.15" width="4.43" height="2.9" fill="#ff1a10"/><rect x="566.57" y="932.15" width="1.58" height="2.9" fill="#5f6fff"/><rect x="568.11" y="932.15" width="1.80" height="2.9" fill="#401098"/><rect x="569.86" y="932.15" width="2.24" height="2.9" fill="#d040ff"/><rect x="572.05" y="932.15" width="10.34" height="2.9" fill="#e2d4ff"/><rect x="582.34" y="932.15" width="14.29" height="2.9" fill="#9020a0"/><rect x="596.58" y="932.15" width="12.53" height="2.9" fill="#f08088"/><rect x="609.06" y="932.15" width="17.79" height="2.9" fill="#ffc4ff"/>
<rect x="517.30" y="937.30" width="10.67" height="2.9" fill="#c8a0d8"/><rect x="527.92" y="937.30" width="7.17" height="2.9" fill="#ff2890"/><rect x="535.04" y="937.30" width="1.25" height="2.9" fill="#50e860"/><rect x="536.24" y="937.30" width="13.74" height="2.9" fill="#f8dcb8"/><rect x="549.93" y="937.30" width="1.69" height="2.9" fill="#ff1a10"/><rect x="551.57" y="937.30" width="37.94" height="2.9" fill="#d8d8d8"/><rect x="589.46" y="937.30" width="2.35" height="2.9" fill="#401098"/><rect x="591.76" y="937.30" width="7.17" height="2.9" fill="#9048ff"/><rect x="598.88" y="937.30" width="7.17" height="2.9" fill="#e2d4ff"/><rect x="606.00" y="937.30" width="4.32" height="2.9" fill="#9020a0"/><rect x="610.27" y="937.30" width="1.25" height="2.9" fill="#ff1a10"/><rect x="611.47" y="937.30" width="15.38" height="2.9" fill="#ffc4ff"/>
<rect x="517.30" y="942.45" width="29.62" height="2.9" fill="#c8a0d8"/><rect x="546.87" y="942.45" width="21.29" height="2.9" fill="#f8dcb8"/><rect x="568.11" y="942.45" width="10.78" height="2.9" fill="#d8d8d8"/><rect x="578.84" y="942.45" width="18.45" height="2.9" fill="#401098"/><rect x="597.23" y="942.45" width="5.31" height="2.9" fill="#9048ff"/><rect x="602.49" y="942.45" width="21.29" height="2.9" fill="#e2d4ff"/><rect x="623.73" y="942.45" width="3.12" height="2.9" fill="#9020a0"/>
<rect x="517.30" y="947.60" width="41.00" height="2.9" fill="#ff2890"/><rect x="558.25" y="947.60" width="2.35" height="2.9" fill="#50e860"/><rect x="560.55" y="947.60" width="9.36" height="2.9" fill="#f8dcb8"/><rect x="569.86" y="947.60" width="1.91" height="2.9" fill="#ff1a10"/><rect x="571.72" y="947.60" width="20.85" height="2.9" fill="#d8d8d8"/><rect x="592.53" y="947.60" width="2.90" height="2.9" fill="#401098"/><rect x="595.37" y="947.60" width="2.90" height="2.9" fill="#9048ff"/><rect x="598.22" y="947.60" width="8.48" height="2.9" fill="#e2d4ff"/><rect x="606.65" y="947.60" width="13.63" height="2.9" fill="#9020a0"/><rect x="620.23" y="947.60" width="1.15" height="2.9" fill="#f08020"/><rect x="621.32" y="947.60" width="5.53" height="2.9" fill="#ffc4ff"/>
<rect x="517.30" y="952.75" width="8.81" height="2.9" fill="#c8a0d8"/><rect x="526.06" y="952.75" width="12.53" height="2.9" fill="#ff2890"/><rect x="538.54" y="952.75" width="1.47" height="2.9" fill="#50e860"/><rect x="539.97" y="952.75" width="28.85" height="2.9" fill="#f8dcb8"/><rect x="568.76" y="952.75" width="11.22" height="2.9" fill="#d8d8d8"/><rect x="579.93" y="952.75" width="1.69" height="2.9" fill="#401098"/><rect x="581.58" y="952.75" width="1.25" height="2.9" fill="#f08020"/><rect x="582.78" y="952.75" width="10.12" height="2.9" fill="#9048ff"/><rect x="592.85" y="952.75" width="12.42" height="2.9" fill="#e2d4ff"/><rect x="605.23" y="952.75" width="18.56" height="2.9" fill="#9020a0"/><rect x="623.73" y="952.75" width="3.12" height="2.9" fill="#d05058"/>
<rect x="517.30" y="957.90" width="38.59" height="2.9" fill="#98b8ff"/><rect x="555.84" y="957.90" width="30.05" height="2.9" fill="#f8dcb8"/><rect x="585.85" y="957.90" width="1.58" height="2.9" fill="#401098"/><rect x="587.38" y="957.90" width="28.85" height="2.9" fill="#d040ff"/><rect x="616.18" y="957.90" width="8.04" height="2.9" fill="#9048ff"/><rect x="624.17" y="957.90" width="2.68" height="2.9" fill="#d05058"/>
<rect x="517.30" y="963.05" width="87.65" height="2.9" fill="#98b8ff"/><rect x="604.90" y="963.05" width="9.91" height="2.9" fill="#f8dcb8"/><rect x="614.75" y="963.05" width="2.35" height="2.9" fill="#401098"/><rect x="617.05" y="963.05" width="7.93" height="2.9" fill="#d040ff"/><rect x="624.94" y="963.05" width="1.91" height="2.9" fill="#d05058"/>
<rect x="515.60" y="590.90" width="112.60" height="376.30" fill="none" stroke="#111" stroke-width="1.5" />
<text x="640.60" y="711.10" font-size="10.4" textLength="96.30" lengthAdjust="spacingAndGlyphs" transform="rotate(-90 640.60 711.10)" >Histopathology (HP):</text>
<rect x="647.40" y="699.90" width="8.80" height="9.00" fill="#c090c8" />
<text x="655.40" y="698.30" font-size="10.4" textLength="76.10" lengthAdjust="spacingAndGlyphs" transform="rotate(-90 655.40 698.30)" >Antoni A regions</text>
<rect x="661.50" y="699.90" width="9.00" height="9.00" fill="#f0f8a0" />
<text x="669.30" y="698.30" font-size="10.4" textLength="76.10" lengthAdjust="spacingAndGlyphs" transform="rotate(-90 669.30 698.30)" >Antoni B regions</text>
<text x="640.60" y="837.30" font-size="10.2" textLength="100.50" lengthAdjust="spacingAndGlyphs" transform="rotate(-90 640.60 837.30)" >Disease Severity (DS):</text>
<rect x="647.10" y="826.00" width="9.00" height="9.00" fill="#6a6af8" />
<text x="655.20" y="823.80" font-size="10.4" textLength="19.60" lengthAdjust="spacingAndGlyphs" transform="rotate(-90 655.20 823.80)" >Mild</text>
<rect x="660.90" y="826.00" width="9.00" height="9.00" fill="#d870f0" />
<text x="669.30" y="823.80" font-size="10.4" textLength="46.00" lengthAdjust="spacingAndGlyphs" transform="rotate(-90 669.30 823.80)" >Moderate</text>
<rect x="674.70" y="826.00" width="9.30" height="9.00" fill="#d030a8" />
<text x="682.80" y="823.80" font-size="10" textLength="30.50" lengthAdjust="spacingAndGlyphs" transform="rotate(-90 682.80 823.80)" >Severe</text>
</g>

</g>
</svg>
</body></html>
